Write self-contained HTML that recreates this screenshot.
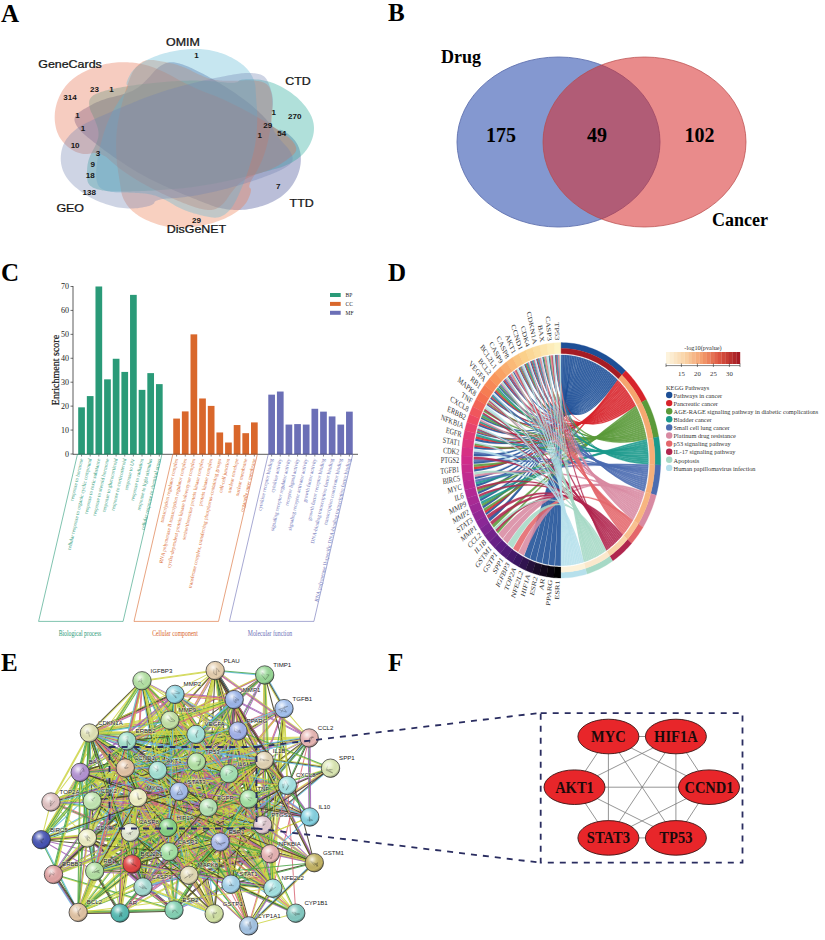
<!DOCTYPE html>
<html><head><meta charset="utf-8"><style>html,body{margin:0;padding:0;background:#fff;overflow:hidden}svg{display:block}</style></head>
<body><svg width="825" height="940" viewBox="0 0 825 940">
<rect width="825" height="940" fill="#fff"/>
<path d="M289.67,135.36 L291.02,136.56 L292.43,137.86 L293.74,139.22 L294.89,140.6 L295.94,142.04 L296.89,143.52 L297.74,145.05 L298.49,146.63 L299.13,148.27 L299.67,149.95 L300.11,151.68 L300.45,153.46 L300.69,155.31 L300.82,157.2 L300.86,159.1 L300.82,160.97 L300.7,162.83 L300.49,164.7 L300.19,166.56 L299.81,168.41 L299.35,170.26 L298.79,172.11 L298.15,173.96 L297.42,175.8 L296.6,177.65 L295.69,179.5 L294.73,181.29 L293.72,183.01 L292.67,184.67 L291.56,186.26 L290.4,187.8 L289.18,189.28 L287.91,190.7 L286.59,192.07 L285.22,193.37 L283.8,194.62 L282.32,195.8 L280.79,196.92 L279.21,198.01 L277.56,199.05 L275.85,200.05 L274.09,201.01 L272.27,201.93 L270.39,202.81 L268.46,203.64 L266.46,204.44 L264.41,205.19 L262.3,205.9 L260.11,206.57 L257.85,207.2 L255.62,207.77 L253.42,208.27 L251.23,208.71 L249.06,209.08 L246.9,209.39 L244.75,209.64 L242.62,209.83 L240.5,209.95 L238.39,210.02 L236.3,210.01 L234.22,209.95 L232.14,209.81 L230.1,209.64 L228.09,209.42 L226.12,209.16 L224.17,208.86 L222.25,208.51 L220.36,208.12 L218.5,207.68 L216.66,207.2 L214.86,206.67 L213.09,206.1 L211.37,205.48 L209.68,204.81 L207.94,204.12 L206.13,203.42 L204.28,202.69 L202.38,201.95 L200.43,201.18 L198.43,200.39 L196.39,199.58 L194.31,198.74 L192.17,197.89 L189.99,197.01 L187.76,196.12 L185.47,195.2 L183.17,194.25 L180.84,193.28 L178.48,192.28 L176.09,191.25 L173.68,190.19 L171.24,189.11 L168.77,188 L166.28,186.86 L163.75,185.7 L161.2,184.51 L158.61,183.29 L155.99,182.04 L153.38,180.77 L150.81,179.47 L148.26,178.15 L145.72,176.81 L143.2,175.44 L140.7,174.05 L138.22,172.63 L135.75,171.19 L133.31,169.73 L130.88,168.24 L128.46,166.72 L126.06,165.17 L123.69,163.62 L121.35,162.08 L119.04,160.54 L116.76,158.99 L114.5,157.45 L112.27,155.9 L110.07,154.35 L107.9,152.8 L105.75,151.24 L103.63,149.69 L101.52,148.11 L99.43,146.54 L97.44,145.01 L95.56,143.56 L93.78,142.17 L92.08,140.83 L90.48,139.55 L88.97,138.32 L87.55,137.14 L86.23,136.02 L85,134.96 L83.86,133.95 L82.82,133.01 L81.88,132.13 L80.99,131.25 L80.14,130.35 L79.36,129.46 L78.63,128.57 L77.95,127.68 L77.33,126.8 L76.77,125.92 L76.27,125.04 L75.82,124.16 L75.42,123.29 L75.07,122.41 L74.78,121.54 L74.58,120.68 L74.49,119.85 L74.49,119.03 L74.59,118.23 L74.79,117.46 L75.08,116.69 L75.46,115.95 L75.94,115.23 L76.52,114.52 L77.19,113.83 L77.97,113.17 L78.85,112.52 L79.78,111.87 L80.75,111.19 L81.77,110.51 L82.85,109.81 L83.98,109.1 L85.17,108.39 L86.41,107.66 L87.71,106.92 L89.06,106.18 L90.47,105.42 L91.94,104.63 L93.47,103.84 L95.02,103.08 L96.59,102.36 L98.18,101.66 L99.81,101 L101.46,100.36 L103.14,99.75 L104.84,99.17 L106.57,98.62 L108.33,98.1 L110.11,97.61 L111.96,97.16 L113.83,96.73 L115.63,96.3 L117.35,95.86 L119,95.42 L120.59,94.98 L122.12,94.54 L123.59,94.09 L125,93.64 L126.34,93.19 L127.63,92.74 L128.85,92.29 L129.99,91.85 L131.07,91.4 L132.14,90.92 L133.21,90.4 L134.26,89.84 L135.3,89.24 L136.33,88.61 L137.35,87.94 L138.35,87.24 L139.33,86.51 L140.3,85.74 L141.26,84.93 L142.21,84.08 L143.14,83.2 L144.06,82.31 L144.96,81.43 L145.84,80.55 L146.72,79.67 L147.57,78.79 L148.42,77.9 L149.24,77.02 L150.06,76.13 L150.86,75.24 L151.64,74.35 L152.4,73.44 L153.14,72.53 L153.91,71.66 L154.69,70.83 L155.5,70.02 L156.32,69.25 L157.16,68.51 L158.01,67.8 L158.88,67.12 L159.77,66.47 L160.67,65.86 L161.59,65.27 L162.52,64.71 L163.48,64.17 L164.45,63.7 L165.43,63.3 L166.43,62.96 L167.44,62.68 L168.47,62.47 L169.51,62.31 L170.57,62.22 L171.64,62.19 L172.73,62.23 L173.83,62.32 L174.94,62.49 L176.07,62.71 L177.23,62.98 L178.41,63.26 L179.61,63.59 L180.83,63.95 L182.08,64.34 L183.35,64.77 L184.65,65.23 L185.97,65.73 L187.31,66.26 L188.68,66.83 L190.07,67.44 L191.48,68.08 L192.91,68.75 L194.37,69.43 L195.85,70.15 L197.34,70.88 L198.86,71.64 L200.41,72.43 L201.97,73.24 L203.56,74.07 L205.16,74.93 L206.79,75.81 L208.44,76.71 L210.11,77.64 L211.81,78.6 L213.52,79.59 L215.27,80.61 L217.03,81.65 L218.82,82.73 L220.63,83.83 L222.47,84.96 L224.33,86.12 L226.21,87.31 L228.12,88.53 L230.07,89.78 L232.04,91.07 L233.98,92.35 L235.86,93.62 L237.71,94.9 L239.51,96.17 L241.29,97.45 L243.03,98.73 L244.73,100 L246.39,101.28 L248.02,102.55 L249.62,103.83 L251.17,105.1 L252.69,106.37 L254.18,107.66 L255.66,108.95 L257.1,110.26 L258.52,111.58 L259.92,112.91 L261.29,114.25 L262.63,115.6 L263.95,116.97 L265.24,118.34 L266.51,119.72 L267.76,121.16 L268.99,122.61 L270.16,123.94 L271.29,125.1 L272.37,126.14 L273.4,127.06 L274.39,127.85 L275.32,128.53 L276.22,129.08 L277.06,129.51 L277.86,129.82 L278.62,130 L279.29,129.99 L279.91,129.86 L280.6,129.83 L281.37,130 L282.21,130.28 L283.1,130.67 L284.05,131.17 L285.06,131.79 L286.13,132.51 L287.25,133.35 L288.43,134.3Z" fill="#3a4590" fill-opacity="0.35"/>
<path d="M251.09,79.26 L253.31,79.3 L255.69,79.39 L258.05,79.56 L260.35,79.83 L262.63,80.2 L264.91,80.65 L267.17,81.19 L269.42,81.82 L271.65,82.53 L273.88,83.34 L276.09,84.23 L278.29,85.21 L280.5,86.3 L282.7,87.47 L284.83,88.69 L286.89,89.94 L288.88,91.23 L290.82,92.57 L292.69,93.95 L294.51,95.38 L296.26,96.85 L297.95,98.37 L299.58,99.93 L301.15,101.53 L302.67,103.2 L304.13,104.92 L305.5,106.62 L306.74,108.3 L307.89,109.97 L308.94,111.63 L309.89,113.28 L310.74,114.92 L311.49,116.55 L312.14,118.17 L312.69,119.78 L313.14,121.38 L313.49,122.97 L313.73,124.54 L313.9,126.13 L313.98,127.72 L313.97,129.31 L313.89,130.91 L313.71,132.52 L313.46,134.12 L313.11,135.74 L312.69,137.35 L312.17,138.97 L311.58,140.6 L310.89,142.25 L310.11,143.9 L309.28,145.5 L308.39,147.04 L307.44,148.53 L306.43,149.97 L305.36,151.36 L304.23,152.71 L303.04,154 L301.79,155.25 L300.47,156.45 L299.1,157.6 L297.65,158.7 L296.15,159.75 L294.61,160.76 L293.06,161.72 L291.47,162.64 L289.85,163.51 L288.21,164.34 L286.53,165.12 L284.82,165.86 L283.08,166.55 L281.31,167.19 L279.52,167.79 L277.69,168.33 L275.84,168.82 L273.94,169.32 L271.97,169.85 L269.94,170.4 L267.86,170.95 L265.73,171.52 L263.54,172.1 L261.3,172.69 L259,173.29 L256.65,173.9 L254.24,174.52 L251.78,175.16 L249.26,175.81 L246.69,176.46 L244.08,177.1 L241.42,177.74 L238.71,178.37 L235.95,179.01 L233.14,179.64 L230.29,180.27 L227.39,180.89 L224.44,181.51 L221.44,182.13 L218.38,182.76 L215.27,183.38 L212.15,183.98 L209.03,184.54 L205.89,185.08 L202.73,185.59 L199.56,186.08 L196.37,186.54 L193.16,186.98 L189.95,187.39 L186.71,187.77 L183.46,188.13 L180.19,188.46 L176.9,188.76 L173.62,189.05 L170.37,189.33 L167.14,189.59 L163.92,189.83 L160.72,190.05 L157.54,190.26 L154.37,190.46 L151.22,190.63 L148.09,190.79 L144.97,190.94 L141.83,191.07 L138.71,191.18 L135.71,191.27 L132.87,191.36 L130.15,191.42 L127.55,191.48 L125.07,191.51 L122.71,191.54 L120.48,191.55 L118.36,191.54 L116.37,191.52 L114.5,191.48 L112.78,191.44 L111.18,191.38 L109.62,191.29 L108.07,191.16 L106.56,191.01 L105.09,190.83 L103.66,190.62 L102.27,190.38 L100.92,190.11 L99.62,189.81 L98.35,189.48 L97.12,189.13 L95.91,188.74 L94.75,188.33 L93.66,187.88 L92.68,187.38 L91.78,186.84 L90.95,186.27 L90.22,185.65 L89.56,184.99 L88.99,184.29 L88.5,183.55 L88.09,182.77 L87.76,181.95 L87.53,181.09 L87.39,180.18 L87.27,179.24 L87.16,178.27 L87.07,177.25 L87,176.2 L86.96,175.12 L86.95,173.99 L86.95,172.83 L86.98,171.64 L87.04,170.4 L87.12,169.13 L87.21,167.81 L87.33,166.45 L87.5,165.1 L87.73,163.76 L88,162.43 L88.33,161.1 L88.7,159.78 L89.13,158.46 L89.6,157.14 L90.13,155.83 L90.7,154.52 L91.32,153.22 L92.03,151.91 L92.78,150.6 L93.49,149.33 L94.13,148.09 L94.72,146.9 L95.28,145.73 L95.79,144.6 L96.25,143.5 L96.68,142.43 L97.06,141.4 L97.4,140.4 L97.7,139.43 L97.95,138.51 L98.17,137.63 L98.33,136.73 L98.45,135.79 L98.52,134.84 L98.54,133.88 L98.51,132.9 L98.44,131.91 L98.32,130.9 L98.15,129.88 L97.93,128.84 L97.66,127.78 L97.34,126.7 L96.96,125.61 L96.58,124.53 L96.19,123.45 L95.8,122.39 L95.39,121.33 L94.97,120.28 L94.54,119.24 L94.09,118.2 L93.64,117.17 L93.17,116.15 L92.7,115.13 L92.19,114.12 L91.67,113.12 L91.2,112.13 L90.79,111.15 L90.42,110.18 L90.1,109.22 L89.83,108.28 L89.6,107.34 L89.41,106.42 L89.28,105.5 L89.18,104.6 L89.13,103.71 L89.12,102.83 L89.15,101.95 L89.26,101.11 L89.46,100.31 L89.74,99.54 L90.09,98.8 L90.53,98.1 L91.04,97.42 L91.63,96.78 L92.31,96.17 L93.05,95.6 L93.88,95.05 L94.8,94.55 L95.79,94.08 L96.84,93.61 L97.93,93.15 L99.08,92.71 L100.28,92.27 L101.54,91.84 L102.85,91.42 L104.22,91.01 L105.63,90.61 L107.11,90.23 L108.64,89.85 L110.22,89.48 L111.86,89.13 L113.54,88.78 L115.26,88.43 L117.02,88.08 L118.82,87.74 L120.67,87.4 L122.55,87.07 L124.48,86.74 L126.44,86.42 L128.45,86.1 L130.5,85.78 L132.59,85.47 L134.72,85.16 L136.89,84.86 L139.12,84.56 L141.39,84.27 L143.71,83.99 L146.08,83.71 L148.49,83.43 L150.96,83.17 L153.47,82.91 L156.02,82.65 L158.63,82.4 L161.3,82.15 L164.02,81.91 L166.72,81.69 L169.37,81.49 L172,81.31 L174.6,81.15 L177.18,81.02 L179.74,80.9 L182.28,80.8 L184.79,80.72 L187.27,80.66 L189.74,80.62 L192.17,80.6 L194.58,80.6 L196.99,80.62 L199.4,80.66 L201.8,80.73 L204.2,80.81 L206.59,80.92 L208.98,81.04 L211.36,81.19 L213.74,81.36 L216.12,81.55 L218.49,81.76 L220.91,82.02 L223.32,82.29 L225.57,82.52 L227.6,82.66 L229.46,82.75 L231.16,82.78 L232.69,82.76 L234.06,82.69 L235.26,82.56 L236.29,82.37 L237.16,82.14 L237.87,81.84 L238.3,81.46 L238.56,81.03 L238.98,80.63 L239.68,80.32 L240.54,80.04 L241.56,79.8 L242.74,79.61 L244.09,79.46 L245.6,79.35 L247.27,79.28 L249.1,79.25Z" fill="#1da695" fill-opacity="0.35"/>
<path d="M249.19,196.81 L248.56,198.28 L247.84,199.86 L247.01,201.41 L246.05,202.88 L244.97,204.32 L243.77,205.74 L242.46,207.12 L241.03,208.47 L239.48,209.79 L237.82,211.08 L236.03,212.34 L234.13,213.57 L232.09,214.77 L229.94,215.95 L227.73,217.07 L225.51,218.13 L223.24,219.14 L220.93,220.1 L218.57,221.01 L216.16,221.86 L213.71,222.66 L211.21,223.41 L208.67,224.11 L206.08,224.75 L203.42,225.35 L200.72,225.89 L198.05,226.37 L195.45,226.78 L192.89,227.12 L190.36,227.4 L187.88,227.62 L185.43,227.77 L183.02,227.86 L180.65,227.88 L178.32,227.84 L176.03,227.73 L173.78,227.55 L171.57,227.32 L169.38,227.02 L167.2,226.67 L165.03,226.25 L162.88,225.79 L160.74,225.26 L158.62,224.67 L156.52,224.03 L154.43,223.33 L152.35,222.57 L150.3,221.75 L148.23,220.87 L146.18,219.92 L144.22,218.95 L142.35,217.96 L140.57,216.94 L138.87,215.89 L137.25,214.82 L135.72,213.71 L134.26,212.58 L132.88,211.42 L131.59,210.23 L130.38,209.01 L129.25,207.76 L128.21,206.47 L127.23,205.18 L126.32,203.89 L125.48,202.59 L124.71,201.28 L124,199.96 L123.37,198.63 L122.81,197.3 L122.31,195.95 L121.89,194.6 L121.53,193.23 L121.27,191.87 L121.08,190.5 L120.88,189.09 L120.65,187.63 L120.42,186.14 L120.18,184.6 L119.93,183.03 L119.67,181.42 L119.41,179.78 L119.14,178.09 L118.87,176.37 L118.59,174.61 L118.3,172.8 L117.99,170.97 L117.71,169.09 L117.46,167.18 L117.23,165.24 L117.02,163.26 L116.83,161.25 L116.66,159.2 L116.52,157.11 L116.39,154.99 L116.28,152.84 L116.2,150.65 L116.13,148.41 L116.08,146.14 L116.07,143.86 L116.1,141.59 L116.17,139.32 L116.29,137.04 L116.44,134.76 L116.63,132.48 L116.86,130.19 L117.13,127.9 L117.44,125.6 L117.79,123.3 L118.18,120.99 L118.62,118.68 L119.07,116.38 L119.53,114.1 L120.02,111.84 L120.52,109.59 L121.03,107.36 L121.57,105.15 L122.12,102.94 L122.7,100.76 L123.29,98.59 L123.9,96.43 L124.53,94.27 L125.19,92.12 L125.83,90.06 L126.45,88.11 L127.07,86.24 L127.67,84.46 L128.25,82.77 L128.83,81.16 L129.4,79.64 L129.95,78.21 L130.5,76.86 L131.03,75.6 L131.54,74.44 L132.04,73.37 L132.56,72.33 L133.13,71.31 L133.73,70.33 L134.36,69.38 L135.02,68.46 L135.71,67.58 L136.43,66.73 L137.18,65.92 L137.96,65.14 L138.77,64.4 L139.61,63.68 L140.48,63 L141.38,62.38 L142.31,61.84 L143.29,61.36 L144.29,60.96 L145.33,60.61 L146.41,60.34 L147.52,60.13 L148.66,59.99 L149.84,59.91 L151.05,59.9 L152.3,59.97 L153.57,60.11 L154.9,60.27 L156.27,60.45 L157.68,60.65 L159.14,60.88 L160.64,61.13 L162.19,61.41 L163.78,61.71 L165.42,62.05 L167.1,62.4 L168.82,62.79 L170.61,63.19 L172.45,63.62 L174.26,64.09 L176.04,64.59 L177.8,65.12 L179.54,65.69 L181.26,66.28 L182.97,66.91 L184.65,67.58 L186.32,68.27 L187.97,69 L189.6,69.76 L191.22,70.58 L192.82,71.43 L194.38,72.24 L195.91,72.99 L197.4,73.71 L198.86,74.38 L200.28,75.02 L201.67,75.62 L203.03,76.19 L204.35,76.71 L205.64,77.2 L206.89,77.66 L208.08,78.07 L209.25,78.44 L210.44,78.79 L211.69,79.11 L212.98,79.4 L214.29,79.67 L215.64,79.9 L217.03,80.11 L218.45,80.29 L219.9,80.44 L221.38,80.56 L222.9,80.65 L224.46,80.71 L226.06,80.74 L227.65,80.75 L229.23,80.77 L230.79,80.78 L232.35,80.77 L233.9,80.76 L235.45,80.74 L236.98,80.71 L238.52,80.66 L240.04,80.61 L241.56,80.55 L243.08,80.47 L244.6,80.37 L246.08,80.31 L247.53,80.28 L248.96,80.29 L250.36,80.32 L251.73,80.38 L253.07,80.46 L254.39,80.58 L255.67,80.72 L256.94,80.89 L258.17,81.09 L259.39,81.31 L260.59,81.55 L261.71,81.84 L262.76,82.19 L263.75,82.58 L264.67,83.01 L265.53,83.49 L266.32,84.01 L267.05,84.58 L267.71,85.19 L268.31,85.85 L268.84,86.55 L269.3,87.3 L269.69,88.1 L270.05,88.93 L270.4,89.79 L270.72,90.69 L271.01,91.62 L271.28,92.58 L271.51,93.58 L271.72,94.62 L271.9,95.68 L272.05,96.78 L272.17,97.92 L272.26,99.09 L272.33,100.3 L272.37,101.53 L272.41,102.79 L272.43,104.07 L272.43,105.38 L272.42,106.72 L272.38,108.09 L272.34,109.48 L272.27,110.9 L272.2,112.35 L272.1,113.82 L271.99,115.32 L271.86,116.85 L271.72,118.4 L271.55,119.99 L271.36,121.61 L271.15,123.26 L270.92,124.94 L270.67,126.65 L270.4,128.39 L270.11,130.16 L269.8,131.97 L269.46,133.8 L269.11,135.68 L268.74,137.59 L268.35,139.48 L267.93,141.33 L267.5,143.16 L267.04,144.97 L266.56,146.76 L266.07,148.53 L265.55,150.28 L265,152 L264.44,153.71 L263.86,155.39 L263.26,157.05 L262.63,158.68 L261.98,160.31 L261.3,161.94 L260.59,163.55 L259.85,165.16 L259.09,166.76 L258.3,168.35 L257.48,169.93 L256.63,171.5 L255.75,173.07 L254.85,174.62 L253.87,176.2 L252.87,177.77 L251.98,179.23 L251.25,180.57 L250.63,181.8 L250.12,182.93 L249.73,183.96 L249.45,184.88 L249.28,185.7 L249.23,186.43 L249.29,187.04 L249.47,187.56 L249.82,187.91 L250.29,188.15 L250.66,188.5 L250.88,189.01 L250.99,189.63 L251.02,190.35 L250.95,191.17 L250.78,192.09 L250.53,193.12 L250.18,194.25 L249.73,195.47Z" fill="#eb794b" fill-opacity="0.35"/>
<path d="M71.52,149.42 L69.76,148.21 L68.01,146.88 L66.37,145.48 L64.86,144.04 L63.46,142.53 L62.16,140.97 L60.97,139.34 L59.88,137.64 L58.9,135.89 L58.02,134.07 L57.24,132.19 L56.57,130.24 L56.01,128.21 L55.55,126.12 L55.19,124.03 L54.92,121.95 L54.74,119.87 L54.67,117.79 L54.69,115.7 L54.8,113.61 L55.01,111.52 L55.32,109.43 L55.73,107.33 L56.23,105.23 L56.83,103.11 L57.53,100.98 L58.3,98.92 L59.13,96.93 L60.03,95.01 L60.99,93.15 L62.03,91.35 L63.13,89.61 L64.3,87.93 L65.53,86.31 L66.84,84.75 L68.21,83.25 L69.65,81.82 L71.16,80.45 L72.74,79.12 L74.39,77.83 L76.12,76.58 L77.91,75.37 L79.78,74.2 L81.71,73.07 L83.72,71.99 L85.8,70.95 L87.95,69.95 L90.18,68.99 L92.49,68.06 L94.88,67.18 L97.27,66.37 L99.63,65.63 L101.98,64.97 L104.32,64.37 L106.67,63.85 L109,63.4 L111.34,63.02 L113.67,62.71 L115.99,62.46 L118.31,62.29 L120.63,62.2 L122.95,62.18 L125.24,62.2 L127.5,62.28 L129.74,62.4 L131.95,62.58 L134.14,62.81 L136.3,63.09 L138.43,63.42 L140.54,63.81 L142.63,64.24 L144.69,64.73 L146.7,65.26 L148.69,65.85 L150.72,66.5 L152.83,67.24 L154.99,68.05 L157.2,68.94 L159.46,69.9 L161.77,70.93 L164.13,72.03 L166.54,73.21 L169,74.46 L171.51,75.79 L174.09,77.22 L176.71,78.73 L179.34,80.2 L181.97,81.6 L184.6,82.96 L187.24,84.28 L189.88,85.56 L192.53,86.8 L195.19,88.01 L197.85,89.17 L200.53,90.3 L203.21,91.4 L205.9,92.43 L208.6,93.42 L211.28,94.44 L213.95,95.51 L216.6,96.6 L219.24,97.71 L221.86,98.85 L224.47,100.02 L227.07,101.21 L229.66,102.42 L232.23,103.66 L234.78,104.92 L237.33,106.21 L239.87,107.53 L242.38,108.86 L244.85,110.18 L247.3,111.5 L249.73,112.83 L252.13,114.16 L254.5,115.49 L256.85,116.83 L259.16,118.17 L261.46,119.51 L263.72,120.86 L265.99,122.23 L268.23,123.6 L270.37,124.93 L272.39,126.19 L274.31,127.41 L276.14,128.58 L277.87,129.7 L279.5,130.78 L281.03,131.81 L282.47,132.8 L283.81,133.74 L285.06,134.63 L286.19,135.46 L287.23,136.24 L288.21,137.03 L289.15,137.83 L290.04,138.63 L290.87,139.44 L291.65,140.25 L292.38,141.06 L293.05,141.87 L293.66,142.68 L294.22,143.49 L294.73,144.31 L295.19,145.13 L295.6,145.95 L295.91,146.76 L296.12,147.56 L296.23,148.34 L296.25,149.12 L296.18,149.88 L296.01,150.64 L295.74,151.38 L295.38,152.12 L294.93,152.84 L294.38,153.55 L293.73,154.25 L292.98,154.93 L292.18,155.63 L291.34,156.35 L290.45,157.08 L289.51,157.83 L288.52,158.59 L287.47,159.36 L286.38,160.15 L285.24,160.96 L284.04,161.78 L282.79,162.61 L281.49,163.47 L280.13,164.34 L278.75,165.19 L277.34,165.99 L275.9,166.78 L274.43,167.53 L272.93,168.26 L271.4,168.97 L269.84,169.65 L268.25,170.3 L266.63,170.93 L264.98,171.53 L263.27,172.1 L261.53,172.64 L259.85,173.19 L258.26,173.73 L256.73,174.27 L255.26,174.81 L253.84,175.35 L252.49,175.89 L251.2,176.42 L249.97,176.95 L248.8,177.47 L247.69,178 L246.65,178.5 L245.67,179.01 L244.71,179.55 L243.76,180.13 L242.82,180.75 L241.9,181.4 L241,182.08 L240.12,182.79 L239.26,183.54 L238.41,184.32 L237.59,185.13 L236.78,185.97 L235.99,186.86 L235.22,187.78 L234.46,188.7 L233.72,189.61 L232.99,190.52 L232.28,191.43 L231.58,192.35 L230.89,193.26 L230.22,194.17 L229.57,195.09 L228.93,196 L228.3,196.92 L227.7,197.85 L227.11,198.77 L226.5,199.67 L225.86,200.53 L225.2,201.36 L224.52,202.16 L223.82,202.94 L223.1,203.68 L222.36,204.4 L221.6,205.09 L220.82,205.75 L220.02,206.38 L219.19,206.99 L218.35,207.57 L217.49,208.1 L216.6,208.55 L215.69,208.95 L214.75,209.29 L213.79,209.57 L212.81,209.79 L211.8,209.95 L210.77,210.06 L209.72,210.11 L208.64,210.09 L207.54,210.01 L206.42,209.87 L205.27,209.7 L204.09,209.51 L202.89,209.28 L201.65,209.03 L200.39,208.74 L199.1,208.41 L197.79,208.06 L196.44,207.67 L195.07,207.25 L193.68,206.8 L192.25,206.32 L190.79,205.8 L189.32,205.26 L187.81,204.7 L186.29,204.12 L184.74,203.52 L183.16,202.89 L181.56,202.24 L179.94,201.58 L178.29,200.88 L176.62,200.17 L174.92,199.44 L173.2,198.68 L171.45,197.91 L169.68,197.1 L167.88,196.27 L166.06,195.42 L164.2,194.53 L162.32,193.63 L160.42,192.69 L158.48,191.73 L156.52,190.75 L154.54,189.73 L152.52,188.7 L150.46,187.63 L148.38,186.53 L146.32,185.43 L144.33,184.33 L142.36,183.24 L140.44,182.14 L138.54,181.03 L136.68,179.93 L134.86,178.82 L133.07,177.71 L131.31,176.59 L129.59,175.48 L127.91,174.36 L126.26,173.24 L124.64,172.11 L123.03,170.97 L121.45,169.81 L119.89,168.64 L118.35,167.45 L116.84,166.26 L115.35,165.05 L113.88,163.83 L112.44,162.6 L111.01,161.36 L109.63,160.05 L108.28,158.74 L106.89,157.55 L105.44,156.55 L103.96,155.67 L102.45,154.92 L100.9,154.3 L99.32,153.81 L97.7,153.45 L96.05,153.22 L94.37,153.12 L92.65,153.15 L90.88,153.4 L89.08,153.78 L87.28,154.02 L85.51,154.05 L83.74,153.94 L81.98,153.69 L80.22,153.31 L78.47,152.8 L76.72,152.16 L74.98,151.38 L73.25,150.46Z" fill="#e56d4b" fill-opacity="0.35"/>
<path d="M129.09,76.56 L129.86,75.12 L130.73,73.59 L131.71,72.1 L132.81,70.68 L134.03,69.3 L135.35,67.96 L136.79,66.65 L138.34,65.38 L140.01,64.15 L141.79,62.95 L143.68,61.78 L145.69,60.66 L147.83,59.56 L150.09,58.5 L152.39,57.49 L154.7,56.55 L157.05,55.65 L159.44,54.82 L161.87,54.03 L164.34,53.3 L166.86,52.63 L169.41,52.01 L172,51.44 L174.63,50.93 L177.33,50.47 L180.07,50.06 L182.76,49.71 L185.38,49.44 L187.96,49.22 L190.49,49.06 L192.98,48.97 L195.42,48.94 L197.82,48.97 L200.18,49.06 L202.49,49.22 L204.75,49.44 L206.96,49.72 L209.13,50.07 L211.28,50.47 L213.41,50.92 L215.52,51.44 L217.61,52.01 L219.68,52.64 L221.73,53.32 L223.75,54.06 L225.76,54.86 L227.74,55.71 L229.7,56.63 L231.66,57.61 L233.6,58.64 L235.46,59.7 L237.21,60.78 L238.87,61.88 L240.46,63 L241.96,64.14 L243.38,65.32 L244.71,66.51 L245.96,67.73 L247.13,68.97 L248.21,70.24 L249.2,71.54 L250.11,72.86 L250.95,74.19 L251.73,75.52 L252.44,76.85 L253.07,78.19 L253.64,79.53 L254.14,80.88 L254.57,82.24 L254.92,83.6 L255.21,84.96 L255.43,86.33 L255.55,87.7 L255.61,89.07 L255.67,90.47 L255.75,91.93 L255.85,93.42 L255.95,94.95 L256.05,96.52 L256.16,98.13 L256.28,99.77 L256.4,101.45 L256.52,103.17 L256.65,104.92 L256.8,106.72 L256.95,108.55 L257.07,110.41 L257.16,112.31 L257.22,114.25 L257.25,116.22 L257.26,118.23 L257.23,120.28 L257.19,122.36 L257.11,124.47 L257.01,126.62 L256.89,128.81 L256.74,131.04 L256.56,133.31 L256.35,135.58 L256.09,137.84 L255.79,140.11 L255.45,142.37 L255.07,144.64 L254.65,146.91 L254.2,149.18 L253.7,151.46 L253.16,153.73 L252.59,156.01 L251.96,158.29 L251.3,160.58 L250.62,162.85 L249.93,165.1 L249.23,167.33 L248.51,169.55 L247.77,171.75 L247.01,173.94 L246.24,176.1 L245.46,178.26 L244.65,180.39 L243.83,182.51 L242.98,184.64 L242.11,186.75 L241.27,188.78 L240.45,190.69 L239.66,192.52 L238.88,194.27 L238.13,195.93 L237.39,197.51 L236.67,198.99 L235.98,200.4 L235.3,201.72 L234.64,202.95 L234.02,204.08 L233.42,205.12 L232.79,206.13 L232.12,207.12 L231.42,208.07 L230.7,208.99 L229.95,209.87 L229.18,210.72 L228.38,211.52 L227.55,212.3 L226.69,213.04 L225.81,213.74 L224.91,214.41 L223.97,215.05 L223.01,215.62 L222.02,216.12 L221.01,216.54 L219.96,216.9 L218.89,217.19 L217.79,217.41 L216.66,217.57 L215.51,217.65 L214.33,217.67 L213.12,217.62 L211.88,217.49 L210.62,217.29 L209.32,217.06 L207.97,216.82 L206.58,216.55 L205.14,216.25 L203.67,215.93 L202.15,215.57 L200.6,215.19 L199,214.78 L197.36,214.34 L195.67,213.87 L193.93,213.38 L192.14,212.86 L190.37,212.31 L188.65,211.72 L186.95,211.1 L185.27,210.45 L183.61,209.77 L181.97,209.06 L180.36,208.32 L178.76,207.54 L177.19,206.73 L175.64,205.9 L174.1,205 L172.59,204.08 L171.11,203.19 L169.66,202.36 L168.25,201.58 L166.86,200.83 L165.5,200.12 L164.18,199.46 L162.88,198.83 L161.62,198.24 L160.38,197.68 L159.18,197.17 L158.02,196.7 L156.9,196.27 L155.74,195.87 L154.53,195.49 L153.28,195.13 L151.99,194.8 L150.66,194.5 L149.3,194.23 L147.91,193.98 L146.47,193.76 L145.01,193.57 L143.5,193.4 L141.95,193.27 L140.35,193.16 L138.77,193.06 L137.2,192.97 L135.64,192.89 L134.09,192.81 L132.54,192.75 L130.99,192.7 L129.46,192.65 L127.92,192.62 L126.4,192.6 L124.87,192.58 L123.35,192.59 L121.83,192.61 L120.34,192.6 L118.89,192.56 L117.47,192.48 L116.08,192.39 L114.72,192.26 L113.39,192.11 L112.08,191.93 L110.81,191.72 L109.57,191.49 L108.36,191.24 L107.16,190.96 L106,190.65 L104.9,190.31 L103.89,189.91 L102.94,189.48 L102.06,189 L101.26,188.48 L100.52,187.92 L99.85,187.32 L99.25,186.67 L98.72,185.99 L98.26,185.26 L97.87,184.49 L97.56,183.67 L97.28,182.82 L97.02,181.95 L96.79,181.04 L96.59,180.1 L96.43,179.12 L96.29,178.11 L96.19,177.07 L96.11,176 L96.07,174.9 L96.06,173.76 L96.09,172.58 L96.14,171.38 L96.22,170.14 L96.31,168.89 L96.42,167.61 L96.55,166.3 L96.69,164.96 L96.86,163.6 L97.04,162.21 L97.25,160.8 L97.47,159.36 L97.71,157.9 L97.97,156.41 L98.25,154.89 L98.55,153.35 L98.88,151.77 L99.22,150.16 L99.6,148.53 L99.99,146.86 L100.41,145.17 L100.85,143.45 L101.32,141.69 L101.81,139.91 L102.32,138.1 L102.86,136.24 L103.42,134.35 L104,132.48 L104.6,130.66 L105.21,128.85 L105.85,127.07 L106.5,125.31 L107.17,123.57 L107.87,121.85 L108.58,120.16 L109.31,118.49 L110.06,116.83 L110.82,115.21 L111.61,113.61 L112.42,112.01 L113.26,110.43 L114.13,108.85 L115.02,107.28 L115.94,105.73 L116.89,104.18 L117.87,102.64 L118.87,101.12 L119.89,99.6 L120.95,98.09 L122.08,96.56 L123.24,95.05 L124.27,93.63 L125.14,92.34 L125.89,91.15 L126.51,90.05 L127.02,89.06 L127.4,88.16 L127.66,87.36 L127.8,86.66 L127.82,86.06 L127.72,85.55 L127.43,85.21 L127.01,84.97 L126.7,84.63 L126.56,84.13 L126.52,83.53 L126.59,82.83 L126.75,82.03 L127.02,81.13 L127.38,80.13 L127.85,79.04 L128.42,77.85Z" fill="#5cb8d4" fill-opacity="0.35"/>
<path d="M142.17,207.45 L139.96,207.8 L137.58,208.13 L135.18,208.37 L132.81,208.5 L130.42,208.53 L128.01,208.48 L125.58,208.34 L123.14,208.11 L120.67,207.79 L118.18,207.38 L115.68,206.88 L113.15,206.29 L110.59,205.59 L108,204.81 L105.46,203.98 L102.99,203.1 L100.56,202.17 L98.17,201.18 L95.83,200.13 L93.53,199.04 L91.28,197.88 L89.07,196.67 L86.91,195.41 L84.79,194.09 L82.7,192.7 L80.65,191.26 L78.7,189.81 L76.88,188.36 L75.15,186.91 L73.53,185.45 L72.01,183.98 L70.6,182.51 L69.28,181.02 L68.07,179.53 L66.96,178.03 L65.95,176.52 L65.05,175.01 L64.25,173.49 L63.54,171.96 L62.9,170.4 L62.34,168.82 L61.87,167.22 L61.48,165.6 L61.17,163.96 L60.94,162.31 L60.8,160.63 L60.73,158.94 L60.75,157.22 L60.86,155.47 L61.05,153.7 L61.31,151.97 L61.65,150.29 L62.07,148.65 L62.56,147.05 L63.13,145.49 L63.78,143.96 L64.5,142.47 L65.3,141.02 L66.18,139.61 L67.14,138.23 L68.18,136.89 L69.31,135.58 L70.47,134.32 L71.67,133.1 L72.92,131.91 L74.22,130.77 L75.56,129.66 L76.94,128.6 L78.38,127.57 L79.86,126.59 L81.38,125.64 L82.95,124.73 L84.56,123.89 L86.22,123.08 L87.94,122.25 L89.72,121.39 L91.56,120.52 L93.46,119.62 L95.41,118.71 L97.43,117.79 L99.51,116.85 L101.64,115.89 L103.83,114.92 L106.09,113.93 L108.41,112.92 L110.79,111.89 L113.2,110.86 L115.64,109.82 L118.12,108.77 L120.63,107.72 L123.17,106.65 L125.75,105.58 L128.37,104.5 L131.02,103.41 L133.71,102.31 L136.43,101.2 L139.19,100.08 L141.98,98.95 L144.8,97.83 L147.64,96.76 L150.51,95.7 L153.39,94.66 L156.3,93.65 L159.24,92.66 L162.2,91.7 L165.18,90.75 L168.18,89.83 L171.21,88.93 L174.28,88.05 L177.37,87.19 L180.45,86.36 L183.5,85.54 L186.55,84.74 L189.59,83.96 L192.61,83.19 L195.63,82.45 L198.64,81.72 L201.63,81.01 L204.62,80.33 L207.6,79.66 L210.6,79 L213.59,78.36 L216.47,77.76 L219.2,77.19 L221.81,76.66 L224.32,76.17 L226.71,75.71 L228.99,75.29 L231.15,74.9 L233.21,74.55 L235.15,74.23 L236.97,73.94 L238.66,73.69 L240.23,73.48 L241.78,73.3 L243.32,73.16 L244.84,73.05 L246.33,72.98 L247.79,72.94 L249.22,72.94 L250.62,72.97 L251.99,73.03 L253.34,73.14 L254.65,73.27 L255.95,73.44 L257.23,73.64 L258.43,73.9 L259.56,74.21 L260.62,74.58 L261.61,75 L262.54,75.47 L263.41,76 L264.2,76.58 L264.94,77.22 L265.6,77.9 L266.2,78.65 L266.72,79.45 L267.17,80.3 L267.6,81.19 L268.05,82.12 L268.49,83.08 L268.91,84.09 L269.32,85.14 L269.73,86.23 L270.12,87.35 L270.5,88.52 L270.87,89.73 L271.23,90.97 L271.6,92.27 L271.95,93.61 L272.25,94.95 L272.49,96.29 L272.68,97.63 L272.82,98.97 L272.91,100.32 L272.95,101.67 L272.95,103.03 L272.89,104.39 L272.78,105.76 L272.63,107.13 L272.4,108.52 L272.12,109.92 L271.86,111.27 L271.67,112.58 L271.5,113.84 L271.37,115.07 L271.26,116.25 L271.19,117.4 L271.14,118.5 L271.13,119.57 L271.14,120.6 L271.19,121.59 L271.25,122.53 L271.35,123.42 L271.5,124.32 L271.71,125.25 L271.97,126.18 L272.28,127.12 L272.64,128.06 L273.05,129.02 L273.52,129.97 L274.04,130.94 L274.61,131.91 L275.23,132.89 L275.92,133.88 L276.65,134.87 L277.4,135.86 L278.14,136.84 L278.9,137.8 L279.65,138.76 L280.42,139.71 L281.2,140.65 L281.99,141.58 L282.78,142.5 L283.59,143.41 L284.4,144.32 L285.24,145.21 L286.09,146.1 L286.89,146.98 L287.62,147.86 L288.31,148.74 L288.95,149.61 L289.54,150.48 L290.09,151.35 L290.58,152.22 L291.03,153.08 L291.43,153.94 L291.79,154.79 L292.1,155.65 L292.38,156.5 L292.56,157.34 L292.64,158.15 L292.64,158.94 L292.55,159.72 L292.37,160.48 L292.1,161.22 L291.74,161.94 L291.3,162.65 L290.77,163.33 L290.16,164 L289.44,164.65 L288.64,165.28 L287.78,165.9 L286.88,166.53 L285.92,167.16 L284.91,167.79 L283.83,168.42 L282.71,169.05 L281.52,169.68 L280.28,170.31 L278.99,170.94 L277.63,171.56 L276.22,172.19 L274.75,172.81 L273.24,173.44 L271.69,174.07 L270.1,174.7 L268.47,175.34 L266.8,175.98 L265.09,176.62 L263.33,177.27 L261.54,177.92 L259.7,178.57 L257.82,179.23 L255.9,179.88 L253.94,180.55 L251.93,181.21 L249.88,181.88 L247.77,182.55 L245.62,183.22 L243.41,183.89 L241.17,184.57 L238.87,185.24 L236.52,185.92 L234.13,186.61 L231.69,187.29 L229.18,187.99 L226.62,188.68 L224.08,189.36 L221.58,190 L219.09,190.62 L216.62,191.22 L214.16,191.79 L211.72,192.34 L209.3,192.87 L206.89,193.37 L204.49,193.85 L202.12,194.31 L199.76,194.74 L197.42,195.15 L195.08,195.54 L192.73,195.91 L190.38,196.26 L188.02,196.58 L185.66,196.89 L183.3,197.17 L180.94,197.44 L178.57,197.68 L176.2,197.9 L173.83,198.1 L171.39,198.25 L168.96,198.39 L166.69,198.57 L164.67,198.79 L162.81,199.05 L161.14,199.34 L159.63,199.67 L158.31,200.03 L157.15,200.43 L156.18,200.86 L155.37,201.32 L154.75,201.82 L154.41,202.37 L154.25,202.96 L153.91,203.52 L153.29,204.05 L152.5,204.55 L151.54,205.03 L150.41,205.49 L149.1,205.92 L147.63,206.34 L145.98,206.73 L144.16,207.1Z" fill="#7384b2" fill-opacity="0.35"/>
<text transform="translate(183,46.3) scale(1.22,1)" font-family='"Liberation Sans", sans-serif' fill="#161616" stroke="#161616" stroke-width="0.25" font-size="10.2" text-anchor="middle">OMIM</text>
<text transform="translate(70,68) scale(1.22,1)" font-family='"Liberation Sans", sans-serif' fill="#161616" stroke="#161616" stroke-width="0.25" font-size="10.2" text-anchor="middle">GeneCards</text>
<text transform="translate(298,85) scale(1.22,1)" font-family='"Liberation Sans", sans-serif' fill="#161616" stroke="#161616" stroke-width="0.25" font-size="10.2" text-anchor="middle">CTD</text>
<text transform="translate(301.7,206.5) scale(1.22,1)" font-family='"Liberation Sans", sans-serif' fill="#161616" stroke="#161616" stroke-width="0.25" font-size="10.2" text-anchor="middle">TTD</text>
<text transform="translate(70.2,211.6) scale(1.22,1)" font-family='"Liberation Sans", sans-serif' fill="#161616" stroke="#161616" stroke-width="0.25" font-size="10.2" text-anchor="middle">GEO</text>
<text transform="translate(196.5,233.2) scale(1.22,1)" font-family='"Liberation Sans", sans-serif' fill="#161616" stroke="#161616" stroke-width="0.25" font-size="10.2" text-anchor="middle">DisGeNET</text>
<text transform="translate(196.4,58.4) scale(1.12,1)" font-family='"Liberation Sans", sans-serif' fill="#161616" font-size="7.2" font-weight="bold" text-anchor="middle">1</text>
<text transform="translate(94.5,91.8) scale(1.12,1)" font-family='"Liberation Sans", sans-serif' fill="#161616" font-size="7.2" font-weight="bold" text-anchor="middle">23</text>
<text transform="translate(111.4,91.8) scale(1.12,1)" font-family='"Liberation Sans", sans-serif' fill="#161616" font-size="7.2" font-weight="bold" text-anchor="middle">1</text>
<text transform="translate(69.9,99.9) scale(1.12,1)" font-family='"Liberation Sans", sans-serif' fill="#161616" font-size="7.2" font-weight="bold" text-anchor="middle">314</text>
<text transform="translate(77.6,118.2) scale(1.12,1)" font-family='"Liberation Sans", sans-serif' fill="#161616" font-size="7.2" font-weight="bold" text-anchor="middle">1</text>
<text transform="translate(82.9,131.2) scale(1.12,1)" font-family='"Liberation Sans", sans-serif' fill="#161616" font-size="7.2" font-weight="bold" text-anchor="middle">1</text>
<text transform="translate(75.1,148) scale(1.12,1)" font-family='"Liberation Sans", sans-serif' fill="#161616" font-size="7.2" font-weight="bold" text-anchor="middle">10</text>
<text transform="translate(98,156.1) scale(1.12,1)" font-family='"Liberation Sans", sans-serif' fill="#161616" font-size="7.2" font-weight="bold" text-anchor="middle">3</text>
<text transform="translate(92.7,167.4) scale(1.12,1)" font-family='"Liberation Sans", sans-serif' fill="#161616" font-size="7.2" font-weight="bold" text-anchor="middle">9</text>
<text transform="translate(90.3,177.9) scale(1.12,1)" font-family='"Liberation Sans", sans-serif' fill="#161616" font-size="7.2" font-weight="bold" text-anchor="middle">18</text>
<text transform="translate(89.2,194.8) scale(1.12,1)" font-family='"Liberation Sans", sans-serif' fill="#161616" font-size="7.2" font-weight="bold" text-anchor="middle">138</text>
<text transform="translate(273.7,115.4) scale(1.12,1)" font-family='"Liberation Sans", sans-serif' fill="#161616" font-size="7.2" font-weight="bold" text-anchor="middle">1</text>
<text transform="translate(294.8,118.9) scale(1.12,1)" font-family='"Liberation Sans", sans-serif' fill="#161616" font-size="7.2" font-weight="bold" text-anchor="middle">270</text>
<text transform="translate(267.8,127.6) scale(1.12,1)" font-family='"Liberation Sans", sans-serif' fill="#161616" font-size="7.2" font-weight="bold" text-anchor="middle">29</text>
<text transform="translate(259.7,137.5) scale(1.12,1)" font-family='"Liberation Sans", sans-serif' fill="#161616" font-size="7.2" font-weight="bold" text-anchor="middle">1</text>
<text transform="translate(281.8,135.7) scale(1.12,1)" font-family='"Liberation Sans", sans-serif' fill="#161616" font-size="7.2" font-weight="bold" text-anchor="middle">54</text>
<text transform="translate(278.3,188.5) scale(1.12,1)" font-family='"Liberation Sans", sans-serif' fill="#161616" font-size="7.2" font-weight="bold" text-anchor="middle">7</text>
<text transform="translate(196.4,222.6) scale(1.12,1)" font-family='"Liberation Sans", sans-serif' fill="#161616" font-size="7.2" font-weight="bold" text-anchor="middle">29</text>
<ellipse cx="558.5" cy="142" rx="101.5" ry="85" fill="#8498d0" stroke="#6072b0" stroke-width="0.9"/>
<ellipse cx="644.5" cy="142" rx="101.5" ry="85" fill="#d72c2c" fill-opacity="0.55" stroke="#b84848" stroke-width="0.9" stroke-opacity="0.8"/>
<text x="441" y="63" font-family='"Liberation Serif", serif' font-weight="bold" font-size="18">Drug</text>
<text x="712" y="226" font-family='"Liberation Serif", serif' font-weight="bold" font-size="18">Cancer</text>
<text x="501" y="142" font-family='"Liberation Serif", serif' font-weight="bold" font-size="20" text-anchor="middle">175</text>
<text x="597" y="142" font-family='"Liberation Serif", serif' font-weight="bold" font-size="20" text-anchor="middle">49</text>
<text x="699.5" y="142" font-family='"Liberation Serif", serif' font-weight="bold" font-size="20" text-anchor="middle">102</text>
<rect x="78.2" y="407.34" width="6.7" height="46.66" fill="#2a9a78"/>
<rect x="86.84" y="396.09" width="6.7" height="57.91" fill="#2a9a78"/>
<rect x="95.48" y="286.49" width="6.7" height="167.51" fill="#2a9a78"/>
<rect x="104.12" y="379.34" width="6.7" height="74.66" fill="#2a9a78"/>
<rect x="112.76" y="358.76" width="6.7" height="95.24" fill="#2a9a78"/>
<rect x="121.4" y="371.92" width="6.7" height="82.08" fill="#2a9a78"/>
<rect x="130.04" y="294.87" width="6.7" height="159.13" fill="#2a9a78"/>
<rect x="138.68" y="389.87" width="6.7" height="64.13" fill="#2a9a78"/>
<rect x="147.32" y="373.12" width="6.7" height="80.88" fill="#2a9a78"/>
<rect x="155.96" y="384.12" width="6.7" height="69.88" fill="#2a9a78"/>
<rect x="173.24" y="418.58" width="6.7" height="35.42" fill="#d9672b"/>
<rect x="181.88" y="411.4" width="6.7" height="42.6" fill="#d9672b"/>
<rect x="190.52" y="334.35" width="6.7" height="119.65" fill="#d9672b"/>
<rect x="199.16" y="398.48" width="6.7" height="55.52" fill="#d9672b"/>
<rect x="207.8" y="405.9" width="6.7" height="48.1" fill="#d9672b"/>
<rect x="216.44" y="432.46" width="6.7" height="21.54" fill="#d9672b"/>
<rect x="225.08" y="442.51" width="6.7" height="11.49" fill="#d9672b"/>
<rect x="233.72" y="425.04" width="6.7" height="28.96" fill="#d9672b"/>
<rect x="242.36" y="433.18" width="6.7" height="20.82" fill="#d9672b"/>
<rect x="251" y="422.41" width="6.7" height="31.59" fill="#d9672b"/>
<rect x="268.28" y="394.65" width="6.7" height="59.35" fill="#6b6fb6"/>
<rect x="276.92" y="391.54" width="6.7" height="62.46" fill="#6b6fb6"/>
<rect x="285.56" y="424.57" width="6.7" height="29.43" fill="#6b6fb6"/>
<rect x="294.2" y="424.09" width="6.7" height="29.91" fill="#6b6fb6"/>
<rect x="302.84" y="424.57" width="6.7" height="29.43" fill="#6b6fb6"/>
<rect x="311.48" y="408.77" width="6.7" height="45.23" fill="#6b6fb6"/>
<rect x="320.12" y="411.64" width="6.7" height="42.36" fill="#6b6fb6"/>
<rect x="328.76" y="416.43" width="6.7" height="37.57" fill="#6b6fb6"/>
<rect x="337.4" y="424.57" width="6.7" height="29.43" fill="#6b6fb6"/>
<rect x="346.04" y="411.64" width="6.7" height="42.36" fill="#6b6fb6"/>
<line x1="73" y1="286" x2="73" y2="454.5" stroke="#333" stroke-width="0.8"/>
<line x1="73" y1="454.3" x2="358" y2="454.3" stroke="#333" stroke-width="0.8"/>
<line x1="70.5" y1="454" x2="73" y2="454" stroke="#333" stroke-width="0.7"/>
<text x="69" y="456.8" font-family='"Liberation Serif", serif' font-size="8" text-anchor="end" fill="#222">0</text>
<line x1="70.5" y1="430.07" x2="73" y2="430.07" stroke="#333" stroke-width="0.7"/>
<text x="69" y="432.87" font-family='"Liberation Serif", serif' font-size="8" text-anchor="end" fill="#222">10</text>
<line x1="70.5" y1="406.14" x2="73" y2="406.14" stroke="#333" stroke-width="0.7"/>
<text x="69" y="408.94" font-family='"Liberation Serif", serif' font-size="8" text-anchor="end" fill="#222">20</text>
<line x1="70.5" y1="382.21" x2="73" y2="382.21" stroke="#333" stroke-width="0.7"/>
<text x="69" y="385.01" font-family='"Liberation Serif", serif' font-size="8" text-anchor="end" fill="#222">30</text>
<line x1="70.5" y1="358.28" x2="73" y2="358.28" stroke="#333" stroke-width="0.7"/>
<text x="69" y="361.08" font-family='"Liberation Serif", serif' font-size="8" text-anchor="end" fill="#222">40</text>
<line x1="70.5" y1="334.35" x2="73" y2="334.35" stroke="#333" stroke-width="0.7"/>
<text x="69" y="337.15" font-family='"Liberation Serif", serif' font-size="8" text-anchor="end" fill="#222">50</text>
<line x1="70.5" y1="310.42" x2="73" y2="310.42" stroke="#333" stroke-width="0.7"/>
<text x="69" y="313.22" font-family='"Liberation Serif", serif' font-size="8" text-anchor="end" fill="#222">60</text>
<line x1="70.5" y1="286.49" x2="73" y2="286.49" stroke="#333" stroke-width="0.7"/>
<text x="69" y="289.29" font-family='"Liberation Serif", serif' font-size="8" text-anchor="end" fill="#222">70</text>
<line x1="81.55" y1="454.3" x2="81.55" y2="456.5" stroke="#333" stroke-width="0.6"/>
<line x1="90.19" y1="454.3" x2="90.19" y2="456.5" stroke="#333" stroke-width="0.6"/>
<line x1="98.83" y1="454.3" x2="98.83" y2="456.5" stroke="#333" stroke-width="0.6"/>
<line x1="107.47" y1="454.3" x2="107.47" y2="456.5" stroke="#333" stroke-width="0.6"/>
<line x1="116.11" y1="454.3" x2="116.11" y2="456.5" stroke="#333" stroke-width="0.6"/>
<line x1="124.75" y1="454.3" x2="124.75" y2="456.5" stroke="#333" stroke-width="0.6"/>
<line x1="133.39" y1="454.3" x2="133.39" y2="456.5" stroke="#333" stroke-width="0.6"/>
<line x1="142.03" y1="454.3" x2="142.03" y2="456.5" stroke="#333" stroke-width="0.6"/>
<line x1="150.67" y1="454.3" x2="150.67" y2="456.5" stroke="#333" stroke-width="0.6"/>
<line x1="159.31" y1="454.3" x2="159.31" y2="456.5" stroke="#333" stroke-width="0.6"/>
<line x1="176.59" y1="454.3" x2="176.59" y2="456.5" stroke="#333" stroke-width="0.6"/>
<line x1="185.23" y1="454.3" x2="185.23" y2="456.5" stroke="#333" stroke-width="0.6"/>
<line x1="193.87" y1="454.3" x2="193.87" y2="456.5" stroke="#333" stroke-width="0.6"/>
<line x1="202.51" y1="454.3" x2="202.51" y2="456.5" stroke="#333" stroke-width="0.6"/>
<line x1="211.15" y1="454.3" x2="211.15" y2="456.5" stroke="#333" stroke-width="0.6"/>
<line x1="219.79" y1="454.3" x2="219.79" y2="456.5" stroke="#333" stroke-width="0.6"/>
<line x1="228.43" y1="454.3" x2="228.43" y2="456.5" stroke="#333" stroke-width="0.6"/>
<line x1="237.07" y1="454.3" x2="237.07" y2="456.5" stroke="#333" stroke-width="0.6"/>
<line x1="245.71" y1="454.3" x2="245.71" y2="456.5" stroke="#333" stroke-width="0.6"/>
<line x1="254.35" y1="454.3" x2="254.35" y2="456.5" stroke="#333" stroke-width="0.6"/>
<line x1="271.63" y1="454.3" x2="271.63" y2="456.5" stroke="#333" stroke-width="0.6"/>
<line x1="280.27" y1="454.3" x2="280.27" y2="456.5" stroke="#333" stroke-width="0.6"/>
<line x1="288.91" y1="454.3" x2="288.91" y2="456.5" stroke="#333" stroke-width="0.6"/>
<line x1="297.55" y1="454.3" x2="297.55" y2="456.5" stroke="#333" stroke-width="0.6"/>
<line x1="306.19" y1="454.3" x2="306.19" y2="456.5" stroke="#333" stroke-width="0.6"/>
<line x1="314.83" y1="454.3" x2="314.83" y2="456.5" stroke="#333" stroke-width="0.6"/>
<line x1="323.47" y1="454.3" x2="323.47" y2="456.5" stroke="#333" stroke-width="0.6"/>
<line x1="332.11" y1="454.3" x2="332.11" y2="456.5" stroke="#333" stroke-width="0.6"/>
<line x1="340.75" y1="454.3" x2="340.75" y2="456.5" stroke="#333" stroke-width="0.6"/>
<line x1="349.39" y1="454.3" x2="349.39" y2="456.5" stroke="#333" stroke-width="0.6"/>
<text transform="translate(59,370) rotate(-90)" font-family='"Liberation Serif", serif' font-size="10" text-anchor="middle" fill="#111" stroke="#111" stroke-width="0.2">Enrichment score</text>
<rect x="330" y="293" width="10.7" height="4" fill="#2a9a78"/>
<text x="345.5" y="297.2" font-family='"Liberation Serif", serif' font-size="5.5" fill="#222">BP</text>
<rect x="330" y="301.9" width="10.7" height="4" fill="#d9672b"/>
<text x="345.5" y="306.1" font-family='"Liberation Serif", serif' font-size="5.5" fill="#222">CC</text>
<rect x="330" y="310.8" width="10.7" height="4" fill="#6b6fb6"/>
<text x="345.5" y="315" font-family='"Liberation Serif", serif' font-size="5.5" fill="#222">MF</text>
<text transform="translate(83.05,459) rotate(-77)" font-family='"Liberation Serif", serif' font-size="5.2" text-anchor="end" fill="#2a9a78">response to hormone</text>
<text transform="translate(91.69,459) rotate(-77)" font-family='"Liberation Serif", serif' font-size="5.2" text-anchor="end" fill="#2a9a78">cellular response to organic cyclic compound</text>
<text transform="translate(100.33,459) rotate(-77)" font-family='"Liberation Serif", serif' font-size="5.2" text-anchor="end" fill="#2a9a78">response to toxic substance</text>
<text transform="translate(108.97,459) rotate(-77)" font-family='"Liberation Serif", serif' font-size="5.2" text-anchor="end" fill="#2a9a78">response to steroid hormone</text>
<text transform="translate(117.61,459) rotate(-77)" font-family='"Liberation Serif", serif' font-size="5.2" text-anchor="end" fill="#2a9a78">response to glucocorticoid</text>
<text transform="translate(126.25,459) rotate(-77)" font-family='"Liberation Serif", serif' font-size="5.2" text-anchor="end" fill="#2a9a78">response to corticosteroid</text>
<text transform="translate(134.89,459) rotate(-77)" font-family='"Liberation Serif", serif' font-size="5.2" text-anchor="end" fill="#2a9a78">response to UV</text>
<text transform="translate(143.53,459) rotate(-77)" font-family='"Liberation Serif", serif' font-size="5.2" text-anchor="end" fill="#2a9a78">response to radiation</text>
<text transform="translate(152.17,459) rotate(-77)" font-family='"Liberation Serif", serif' font-size="5.2" text-anchor="end" fill="#2a9a78">response to light stimulus</text>
<text transform="translate(160.81,459) rotate(-77)" font-family='"Liberation Serif", serif' font-size="5.2" text-anchor="end" fill="#2a9a78">cellular response to chemical stress</text>
<text transform="translate(178.09,459) rotate(-77)" font-family='"Liberation Serif", serif' font-size="5.2" text-anchor="end" fill="#d9672b">transcription regulator complex</text>
<text transform="translate(186.73,459) rotate(-77)" font-family='"Liberation Serif", serif' font-size="5.2" text-anchor="end" fill="#d9672b">RNA polymerase II transcription regulator complex</text>
<text transform="translate(195.37,459) rotate(-77)" font-family='"Liberation Serif", serif' font-size="5.2" text-anchor="end" fill="#d9672b">cyclin-dependent protein kinase holoenzyme complex</text>
<text transform="translate(204.01,459) rotate(-77)" font-family='"Liberation Serif", serif' font-size="5.2" text-anchor="end" fill="#d9672b">serine/threonine protein kinase complex</text>
<text transform="translate(212.65,459) rotate(-77)" font-family='"Liberation Serif", serif' font-size="5.2" text-anchor="end" fill="#d9672b">protein kinase complex</text>
<text transform="translate(221.29,459) rotate(-77)" font-family='"Liberation Serif", serif' font-size="5.2" text-anchor="end" fill="#d9672b">transferase complex, transferring phosphorus-containing groups</text>
<text transform="translate(229.93,459) rotate(-77)" font-family='"Liberation Serif", serif' font-size="5.2" text-anchor="end" fill="#d9672b">cell-cell junction</text>
<text transform="translate(238.57,459) rotate(-77)" font-family='"Liberation Serif", serif' font-size="5.2" text-anchor="end" fill="#d9672b">nuclear envelope</text>
<text transform="translate(247.21,459) rotate(-77)" font-family='"Liberation Serif", serif' font-size="5.2" text-anchor="end" fill="#d9672b">nuclear membrane</text>
<text transform="translate(255.85,459) rotate(-77)" font-family='"Liberation Serif", serif' font-size="5.2" text-anchor="end" fill="#d9672b">organelle outer membrane</text>
<text transform="translate(273.13,459) rotate(-77)" font-family='"Liberation Serif", serif' font-size="5.2" text-anchor="end" fill="#6b6fb6">cytokine receptor binding</text>
<text transform="translate(281.77,459) rotate(-77)" font-family='"Liberation Serif", serif' font-size="5.2" text-anchor="end" fill="#6b6fb6">cytokine activity</text>
<text transform="translate(290.41,459) rotate(-77)" font-family='"Liberation Serif", serif' font-size="5.2" text-anchor="end" fill="#6b6fb6">signaling receptor regulator activity</text>
<text transform="translate(299.05,459) rotate(-77)" font-family='"Liberation Serif", serif' font-size="5.2" text-anchor="end" fill="#6b6fb6">receptor ligand activity</text>
<text transform="translate(307.69,459) rotate(-77)" font-family='"Liberation Serif", serif' font-size="5.2" text-anchor="end" fill="#6b6fb6">signaling receptor activator activity</text>
<text transform="translate(316.33,459) rotate(-77)" font-family='"Liberation Serif", serif' font-size="5.2" text-anchor="end" fill="#6b6fb6">growth factor activity</text>
<text transform="translate(324.97,459) rotate(-77)" font-family='"Liberation Serif", serif' font-size="5.2" text-anchor="end" fill="#6b6fb6">growth factor receptor binding</text>
<text transform="translate(333.61,459) rotate(-77)" font-family='"Liberation Serif", serif' font-size="5.2" text-anchor="end" fill="#6b6fb6">DNA-binding transcription factor binding</text>
<text transform="translate(342.25,459) rotate(-77)" font-family='"Liberation Serif", serif' font-size="5.2" text-anchor="end" fill="#6b6fb6">transcription coactivator binding</text>
<text transform="translate(350.89,459) rotate(-77)" font-family='"Liberation Serif", serif' font-size="5.2" text-anchor="end" fill="#6b6fb6">RNA polymerase II-specific DNA-binding transcription factor binding</text>
<polygon points="77.4,454.5 161.9,454.5 123.1,621.4 38.6,621.4" fill="none" stroke="#2a9a78" stroke-width="0.6"/>
<text transform="translate(80,635.5) scale(0.78,1)" font-family='"Liberation Serif", serif' font-size="7.4" text-anchor="middle" fill="#2a9a78">Biological process</text>
<polygon points="172.8,454.5 257.3,454.5 218.5,621.4 134,621.4" fill="none" stroke="#d9672b" stroke-width="0.6"/>
<text transform="translate(175,635.5) scale(0.78,1)" font-family='"Liberation Serif", serif' font-size="7.4" text-anchor="middle" fill="#d9672b">Cellular component</text>
<polygon points="268.2,454.5 352.7,454.5 313.9,621.4 229.4,621.4" fill="none" stroke="#6b6fb6" stroke-width="0.6"/>
<text transform="translate(270,635.5) scale(0.78,1)" font-family='"Liberation Serif", serif' font-size="7.4" text-anchor="middle" fill="#6b6fb6">Molecular function</text>
<path d="M555,355.16 L555.73,355.1 Q561.1,460.3 616.31,378.66 L617.66,380.02 Q561.1,460.3 555,355.16Z" fill="#1d4f96" fill-opacity="0.88" stroke="#1d4f96" stroke-width="0.35" stroke-opacity="0.6"/>
<path d="M548.66,355.98 L549.49,355.84 Q561.1,460.3 614.94,377.33 L616.31,378.66 Q561.1,460.3 548.66,355.98Z" fill="#1d4f96" fill-opacity="0.88" stroke="#1d4f96" stroke-width="0.35" stroke-opacity="0.6"/>
<path d="M542.39,357.35 L543.34,357.11 Q561.1,460.3 613.54,376.04 L614.94,377.33 Q561.1,460.3 542.39,357.35Z" fill="#1d4f96" fill-opacity="0.88" stroke="#1d4f96" stroke-width="0.35" stroke-opacity="0.6"/>
<path d="M536.21,359.27 L537.01,358.99 Q561.1,460.3 612.13,374.78 L613.54,376.04 Q561.1,460.3 536.21,359.27Z" fill="#1d4f96" fill-opacity="0.88" stroke="#1d4f96" stroke-width="0.35" stroke-opacity="0.6"/>
<path d="M530.17,361.74 L531.08,361.33 Q561.1,460.3 610.69,373.56 L612.13,374.78 Q561.1,460.3 530.17,361.74Z" fill="#1d4f96" fill-opacity="0.88" stroke="#1d4f96" stroke-width="0.35" stroke-opacity="0.6"/>
<path d="M524.29,364.73 L525.05,364.31 Q561.1,460.3 609.24,372.37 L610.69,373.56 Q561.1,460.3 524.29,364.73Z" fill="#1d4f96" fill-opacity="0.88" stroke="#1d4f96" stroke-width="0.35" stroke-opacity="0.6"/>
<path d="M518.61,368.22 L519.34,367.74 Q561.1,460.3 607.76,371.22 L609.24,372.37 Q561.1,460.3 518.61,368.22Z" fill="#1d4f96" fill-opacity="0.88" stroke="#1d4f96" stroke-width="0.35" stroke-opacity="0.6"/>
<path d="M513.16,372.21 L513.97,371.58 Q561.1,460.3 606.26,370.1 L607.76,371.22 Q561.1,460.3 513.16,372.21Z" fill="#1d4f96" fill-opacity="0.88" stroke="#1d4f96" stroke-width="0.35" stroke-opacity="0.6"/>
<path d="M507.96,376.67 L508.74,375.97 Q561.1,460.3 604.75,369.02 L606.26,370.1 Q561.1,460.3 507.96,376.67Z" fill="#1d4f96" fill-opacity="0.88" stroke="#1d4f96" stroke-width="0.35" stroke-opacity="0.6"/>
<path d="M503.05,381.58 L503.92,380.65 Q561.1,460.3 603.22,367.98 L604.75,369.02 Q561.1,460.3 503.05,381.58Z" fill="#1d4f96" fill-opacity="0.88" stroke="#1d4f96" stroke-width="0.35" stroke-opacity="0.6"/>
<path d="M498.44,386.91 L499.26,385.9 Q561.1,460.3 601.67,366.97 L603.22,367.98 Q561.1,460.3 498.44,386.91Z" fill="#1d4f96" fill-opacity="0.88" stroke="#1d4f96" stroke-width="0.35" stroke-opacity="0.6"/>
<path d="M494.17,392.62 L495.12,391.28 Q561.1,460.3 600.11,366.01 L601.67,366.97 Q561.1,460.3 494.17,392.62Z" fill="#1d4f96" fill-opacity="0.88" stroke="#1d4f96" stroke-width="0.35" stroke-opacity="0.6"/>
<path d="M490.26,398.7 L490.95,397.57 Q561.1,460.3 598.52,365.08 L600.11,366.01 Q561.1,460.3 490.26,398.7Z" fill="#1d4f96" fill-opacity="0.88" stroke="#1d4f96" stroke-width="0.35" stroke-opacity="0.6"/>
<path d="M486.72,405.11 L487.24,404.11 Q561.1,460.3 596.93,364.19 L598.52,365.08 Q561.1,460.3 486.72,405.11Z" fill="#1d4f96" fill-opacity="0.88" stroke="#1d4f96" stroke-width="0.35" stroke-opacity="0.6"/>
<path d="M480.86,418.77 L481.45,417.16 Q561.1,460.3 595.32,363.33 L596.93,364.19 Q561.1,460.3 480.86,418.77Z" fill="#1d4f96" fill-opacity="0.88" stroke="#1d4f96" stroke-width="0.35" stroke-opacity="0.6"/>
<path d="M478.56,425.96 L479.05,424.3 Q561.1,460.3 593.69,362.52 L595.32,363.33 Q561.1,460.3 478.56,425.96Z" fill="#1d4f96" fill-opacity="0.88" stroke="#1d4f96" stroke-width="0.35" stroke-opacity="0.6"/>
<path d="M476.71,433.32 L476.93,432.35 Q561.1,460.3 592.06,361.75 L593.69,362.52 Q561.1,460.3 476.71,433.32Z" fill="#1d4f96" fill-opacity="0.88" stroke="#1d4f96" stroke-width="0.35" stroke-opacity="0.6"/>
<path d="M475.3,440.83 L475.68,438.53 Q561.1,460.3 590.41,361.02 L592.06,361.75 Q561.1,460.3 475.3,440.83Z" fill="#1d4f96" fill-opacity="0.88" stroke="#1d4f96" stroke-width="0.35" stroke-opacity="0.6"/>
<path d="M474.35,448.44 L474.53,446.7 Q561.1,460.3 588.75,360.32 L590.41,361.02 Q561.1,460.3 474.35,448.44Z" fill="#1d4f96" fill-opacity="0.88" stroke="#1d4f96" stroke-width="0.35" stroke-opacity="0.6"/>
<path d="M473.87,456.12 L473.97,453.78 Q561.1,460.3 587.07,359.67 L588.75,360.32 Q561.1,460.3 473.87,456.12Z" fill="#1d4f96" fill-opacity="0.88" stroke="#1d4f96" stroke-width="0.35" stroke-opacity="0.6"/>
<path d="M473.85,463.82 L473.81,461.47 Q561.1,460.3 585.39,359.06 L587.07,359.67 Q561.1,460.3 473.85,463.82Z" fill="#1d4f96" fill-opacity="0.88" stroke="#1d4f96" stroke-width="0.35" stroke-opacity="0.6"/>
<path d="M474.29,471.5 L474.11,469.16 Q561.1,460.3 583.69,358.49 L585.39,359.06 Q561.1,460.3 474.29,471.5Z" fill="#1d4f96" fill-opacity="0.88" stroke="#1d4f96" stroke-width="0.35" stroke-opacity="0.6"/>
<path d="M475.2,479.12 L474.88,476.81 Q561.1,460.3 581.99,357.96 L583.69,358.49 Q561.1,460.3 475.2,479.12Z" fill="#1d4f96" fill-opacity="0.88" stroke="#1d4f96" stroke-width="0.35" stroke-opacity="0.6"/>
<path d="M476.57,486.64 L476.11,484.36 Q561.1,460.3 580.28,357.48 L581.99,357.96 Q561.1,460.3 476.57,486.64Z" fill="#1d4f96" fill-opacity="0.88" stroke="#1d4f96" stroke-width="0.35" stroke-opacity="0.6"/>
<path d="M478.39,494.02 L477.79,491.79 Q561.1,460.3 578.56,357.03 L580.28,357.48 Q561.1,460.3 478.39,494.02Z" fill="#1d4f96" fill-opacity="0.88" stroke="#1d4f96" stroke-width="0.35" stroke-opacity="0.6"/>
<path d="M480.65,501.22 L479.91,499.05 Q561.1,460.3 576.84,356.63 L578.56,357.03 Q561.1,460.3 480.65,501.22Z" fill="#1d4f96" fill-opacity="0.88" stroke="#1d4f96" stroke-width="0.35" stroke-opacity="0.6"/>
<path d="M483.34,508.2 L482.47,506.1 Q561.1,460.3 575.1,356.26 L576.84,356.63 Q561.1,460.3 483.34,508.2Z" fill="#1d4f96" fill-opacity="0.88" stroke="#1d4f96" stroke-width="0.35" stroke-opacity="0.6"/>
<path d="M486.44,514.92 L485.45,512.9 Q561.1,460.3 573.37,355.95 L575.1,356.26 Q561.1,460.3 486.44,514.92Z" fill="#1d4f96" fill-opacity="0.88" stroke="#1d4f96" stroke-width="0.35" stroke-opacity="0.6"/>
<path d="M489.94,521.36 L489.11,519.92 L488.29,518.46 Q561.1,460.3 571.62,355.67 L573.37,355.95 Q561.1,460.3 489.94,521.36Z" fill="#1d4f96" fill-opacity="0.88" stroke="#1d4f96" stroke-width="0.35" stroke-opacity="0.6"/>
<path d="M529.66,558.63 L527.85,557.76 L526.06,556.84 L524.29,555.87 Q561.1,460.3 569.88,355.43 L571.62,355.67 Q561.1,460.3 529.66,558.63Z" fill="#1d4f96" fill-opacity="0.88" stroke="#1d4f96" stroke-width="0.35" stroke-opacity="0.6"/>
<path d="M535.69,561.14 L533.83,560.43 L531.99,559.67 L530.17,558.86 Q561.1,460.3 568.12,355.24 L569.88,355.43 Q561.1,460.3 535.69,561.14Z" fill="#1d4f96" fill-opacity="0.88" stroke="#1d4f96" stroke-width="0.35" stroke-opacity="0.6"/>
<path d="M541.85,563.11 L539.96,562.56 L538.08,561.97 L536.21,561.33 Q561.1,460.3 566.37,355.09 L568.12,355.24 Q561.1,460.3 541.85,563.11Z" fill="#1d4f96" fill-opacity="0.88" stroke="#1d4f96" stroke-width="0.35" stroke-opacity="0.6"/>
<path d="M548.12,564.53 L546.2,564.15 L544.29,563.73 L542.39,563.25 Q561.1,460.3 564.62,354.99 L566.37,355.09 Q561.1,460.3 548.12,564.53Z" fill="#1d4f96" fill-opacity="0.88" stroke="#1d4f96" stroke-width="0.35" stroke-opacity="0.6"/>
<path d="M554.45,565.39 L552.52,565.19 L550.59,564.93 L548.66,564.62 Q561.1,460.3 562.86,354.92 L564.62,354.99 Q561.1,460.3 554.45,565.39Z" fill="#1d4f96" fill-opacity="0.88" stroke="#1d4f96" stroke-width="0.35" stroke-opacity="0.6"/>
<path d="M560.83,565.7 L558.88,565.67 L556.94,565.58 L555,565.44 Q561.1,460.3 561.1,354.9 L562.86,354.92 Q561.1,460.3 560.83,565.7Z" fill="#1d4f96" fill-opacity="0.88" stroke="#1d4f96" stroke-width="0.35" stroke-opacity="0.6"/>
<path d="M555.73,355.1 L556.46,355.05 Q561.1,460.3 634.89,403.97 L635.81,405.77 Q561.1,460.3 555.73,355.1Z" fill="#d7232a" fill-opacity="0.88" stroke="#d7232a" stroke-width="0.35" stroke-opacity="0.6"/>
<path d="M531.08,361.33 L531.99,360.93 Q561.1,460.3 632.95,400.43 L633.93,402.18 Q561.1,460.3 531.08,361.33Z" fill="#d7232a" fill-opacity="0.88" stroke="#d7232a" stroke-width="0.35" stroke-opacity="0.6"/>
<path d="M525.05,364.31 L525.81,363.9 Q561.1,460.3 631.93,398.69 L632.95,400.43 Q561.1,460.3 525.05,364.31Z" fill="#d7232a" fill-opacity="0.88" stroke="#d7232a" stroke-width="0.35" stroke-opacity="0.6"/>
<path d="M519.34,367.74 L520.08,367.26 Q561.1,460.3 630.89,396.98 L631.93,398.69 Q561.1,460.3 519.34,367.74Z" fill="#d7232a" fill-opacity="0.88" stroke="#d7232a" stroke-width="0.35" stroke-opacity="0.6"/>
<path d="M503.92,380.65 L504.81,379.74 Q561.1,460.3 628.72,393.64 L629.82,395.3 Q561.1,460.3 503.92,380.65Z" fill="#d7232a" fill-opacity="0.88" stroke="#d7232a" stroke-width="0.35" stroke-opacity="0.6"/>
<path d="M495.12,391.28 L496.08,389.96 Q561.1,460.3 627.6,392.01 L628.72,393.64 Q561.1,460.3 495.12,391.28Z" fill="#d7232a" fill-opacity="0.88" stroke="#d7232a" stroke-width="0.35" stroke-opacity="0.6"/>
<path d="M490.95,397.57 L491.65,396.44 Q561.1,460.3 626.44,390.41 L627.6,392.01 Q561.1,460.3 490.95,397.57Z" fill="#d7232a" fill-opacity="0.88" stroke="#d7232a" stroke-width="0.35" stroke-opacity="0.6"/>
<path d="M487.24,404.11 L487.76,403.13 Q561.1,460.3 625.27,388.83 L626.44,390.41 Q561.1,460.3 487.24,404.11Z" fill="#d7232a" fill-opacity="0.88" stroke="#d7232a" stroke-width="0.35" stroke-opacity="0.6"/>
<path d="M479.05,424.3 L479.56,422.65 Q561.1,460.3 624.06,387.29 L625.27,388.83 Q561.1,460.3 479.05,424.3Z" fill="#d7232a" fill-opacity="0.88" stroke="#d7232a" stroke-width="0.35" stroke-opacity="0.6"/>
<path d="M476.93,432.35 L477.15,431.38 Q561.1,460.3 622.83,385.77 L624.06,387.29 Q561.1,460.3 476.93,432.35Z" fill="#d7232a" fill-opacity="0.88" stroke="#d7232a" stroke-width="0.35" stroke-opacity="0.6"/>
<path d="M475.68,438.53 L476.11,436.24 Q561.1,460.3 621.57,384.29 L622.83,385.77 Q561.1,460.3 475.68,438.53Z" fill="#d7232a" fill-opacity="0.88" stroke="#d7232a" stroke-width="0.35" stroke-opacity="0.6"/>
<path d="M474.53,446.7 L474.73,444.95 Q561.1,460.3 620.29,382.83 L621.57,384.29 Q561.1,460.3 474.53,446.7Z" fill="#d7232a" fill-opacity="0.88" stroke="#d7232a" stroke-width="0.35" stroke-opacity="0.6"/>
<path d="M474.11,469.16 L473.97,466.82 Q561.1,460.3 618.99,381.41 L620.29,382.83 Q561.1,460.3 474.11,469.16Z" fill="#d7232a" fill-opacity="0.88" stroke="#d7232a" stroke-width="0.35" stroke-opacity="0.6"/>
<path d="M485.45,512.9 L484.5,510.86 Q561.1,460.3 617.66,380.02 L618.99,381.41 Q561.1,460.3 485.45,512.9Z" fill="#d7232a" fill-opacity="0.88" stroke="#d7232a" stroke-width="0.35" stroke-opacity="0.6"/>
<path d="M508.74,375.97 L509.52,375.27 Q561.1,460.3 629.82,395.3 L630.89,396.98 Q561.1,460.3 508.74,375.97Z" fill="#d7232a" fill-opacity="0.88" stroke="#d7232a" stroke-width="0.35" stroke-opacity="0.6"/>
<path d="M537.01,358.99 L537.81,358.72 Q561.1,460.3 633.93,402.18 L634.89,403.97 Q561.1,460.3 537.01,358.99Z" fill="#d7232a" fill-opacity="0.88" stroke="#d7232a" stroke-width="0.35" stroke-opacity="0.6"/>
<path d="M549.49,355.84 L550.31,355.71 Q561.1,460.3 646.27,437.14 L646.64,439.22 Q561.1,460.3 549.49,355.84Z" fill="#5a9a3a" fill-opacity="0.88" stroke="#5a9a3a" stroke-width="0.35" stroke-opacity="0.6"/>
<path d="M543.34,357.11 L544.29,356.87 Q561.1,460.3 645.86,435.08 L646.27,437.14 Q561.1,460.3 543.34,357.11Z" fill="#5a9a3a" fill-opacity="0.88" stroke="#5a9a3a" stroke-width="0.35" stroke-opacity="0.6"/>
<path d="M525.81,363.9 L526.57,363.49 Q561.1,460.3 645.43,433.02 L645.86,435.08 Q561.1,460.3 525.81,363.9Z" fill="#5a9a3a" fill-opacity="0.88" stroke="#5a9a3a" stroke-width="0.35" stroke-opacity="0.6"/>
<path d="M520.08,367.26 L520.81,366.79 Q561.1,460.3 644.95,430.98 L645.43,433.02 Q561.1,460.3 520.08,367.26Z" fill="#5a9a3a" fill-opacity="0.88" stroke="#5a9a3a" stroke-width="0.35" stroke-opacity="0.6"/>
<path d="M499.26,385.9 L500.09,384.91 Q561.1,460.3 644.45,428.94 L644.95,430.98 Q561.1,460.3 499.26,385.9Z" fill="#5a9a3a" fill-opacity="0.88" stroke="#5a9a3a" stroke-width="0.35" stroke-opacity="0.6"/>
<path d="M496.08,389.96 L497.06,388.66 Q561.1,460.3 643.91,426.92 L644.45,428.94 Q561.1,460.3 496.08,389.96Z" fill="#5a9a3a" fill-opacity="0.88" stroke="#5a9a3a" stroke-width="0.35" stroke-opacity="0.6"/>
<path d="M487.76,403.13 L488.29,402.14 Q561.1,460.3 643.33,424.92 L643.91,426.92 Q561.1,460.3 487.76,403.13Z" fill="#5a9a3a" fill-opacity="0.88" stroke="#5a9a3a" stroke-width="0.35" stroke-opacity="0.6"/>
<path d="M483.59,411.81 L484.27,410.26 Q561.1,460.3 642.73,422.92 L643.33,424.92 Q561.1,460.3 483.59,411.81Z" fill="#5a9a3a" fill-opacity="0.88" stroke="#5a9a3a" stroke-width="0.35" stroke-opacity="0.6"/>
<path d="M481.45,417.16 L482.05,415.56 Q561.1,460.3 642.09,420.95 L642.73,422.92 Q561.1,460.3 481.45,417.16Z" fill="#5a9a3a" fill-opacity="0.88" stroke="#5a9a3a" stroke-width="0.35" stroke-opacity="0.6"/>
<path d="M474.73,444.95 L474.95,443.22 Q561.1,460.3 640.71,417.04 L641.41,418.99 Q561.1,460.3 474.73,444.95Z" fill="#5a9a3a" fill-opacity="0.88" stroke="#5a9a3a" stroke-width="0.35" stroke-opacity="0.6"/>
<path d="M473.97,466.82 L473.87,464.48 Q561.1,460.3 639.97,415.12 L640.71,417.04 Q561.1,460.3 473.97,466.82Z" fill="#5a9a3a" fill-opacity="0.88" stroke="#5a9a3a" stroke-width="0.35" stroke-opacity="0.6"/>
<path d="M477.79,491.79 L477.23,489.54 Q561.1,460.3 639.2,413.21 L639.97,415.12 Q561.1,460.3 477.79,491.79Z" fill="#5a9a3a" fill-opacity="0.88" stroke="#5a9a3a" stroke-width="0.35" stroke-opacity="0.6"/>
<path d="M482.47,506.1 L481.65,503.97 Q561.1,460.3 638.4,411.32 L639.2,413.21 Q561.1,460.3 482.47,506.1Z" fill="#5a9a3a" fill-opacity="0.88" stroke="#5a9a3a" stroke-width="0.35" stroke-opacity="0.6"/>
<path d="M484.5,510.86 L483.59,508.79 Q561.1,460.3 637.57,409.45 L638.4,411.32 Q561.1,460.3 484.5,510.86Z" fill="#5a9a3a" fill-opacity="0.88" stroke="#5a9a3a" stroke-width="0.35" stroke-opacity="0.6"/>
<path d="M493.82,527.47 L492.9,526.1 L492,524.72 Q561.1,460.3 636.7,407.6 L637.57,409.45 Q561.1,460.3 493.82,527.47Z" fill="#5a9a3a" fill-opacity="0.88" stroke="#5a9a3a" stroke-width="0.35" stroke-opacity="0.6"/>
<path d="M498.06,533.22 L496.73,531.5 Q561.1,460.3 635.81,405.77 L636.7,407.6 Q561.1,460.3 498.06,533.22Z" fill="#5a9a3a" fill-opacity="0.88" stroke="#5a9a3a" stroke-width="0.35" stroke-opacity="0.6"/>
<path d="M477.15,431.38 L477.38,430.42 Q561.1,460.3 641.41,418.99 L642.09,420.95 Q561.1,460.3 477.15,431.38Z" fill="#5a9a3a" fill-opacity="0.88" stroke="#5a9a3a" stroke-width="0.35" stroke-opacity="0.6"/>
<path d="M556.46,355.05 L557.18,355.01 Q561.1,460.3 648.38,462.42 L648.33,464.54 Q561.1,460.3 556.46,355.05Z" fill="#1b9a8c" fill-opacity="0.88" stroke="#1b9a8c" stroke-width="0.35" stroke-opacity="0.6"/>
<path d="M537.81,358.72 L538.62,358.46 Q561.1,460.3 648.4,460.3 L648.38,462.42 Q561.1,460.3 537.81,358.72Z" fill="#1b9a8c" fill-opacity="0.88" stroke="#1b9a8c" stroke-width="0.35" stroke-opacity="0.6"/>
<path d="M531.99,360.93 L532.91,360.55 Q561.1,460.3 648.38,458.18 L648.4,460.3 Q561.1,460.3 531.99,360.93Z" fill="#1b9a8c" fill-opacity="0.88" stroke="#1b9a8c" stroke-width="0.35" stroke-opacity="0.6"/>
<path d="M526.57,363.49 L527.34,363.1 Q561.1,460.3 648.33,456.06 L648.38,458.18 Q561.1,460.3 526.57,363.49Z" fill="#1b9a8c" fill-opacity="0.88" stroke="#1b9a8c" stroke-width="0.35" stroke-opacity="0.6"/>
<path d="M497.06,388.66 L498.06,387.38 Q561.1,460.3 648.24,453.94 L648.33,456.06 Q561.1,460.3 497.06,388.66Z" fill="#1b9a8c" fill-opacity="0.88" stroke="#1b9a8c" stroke-width="0.35" stroke-opacity="0.6"/>
<path d="M491.65,396.44 L492.36,395.33 Q561.1,460.3 648.12,451.82 L648.24,453.94 Q561.1,460.3 491.65,396.44Z" fill="#1b9a8c" fill-opacity="0.88" stroke="#1b9a8c" stroke-width="0.35" stroke-opacity="0.6"/>
<path d="M482.05,415.56 L482.68,413.98 Q561.1,460.3 647.96,449.7 L648.12,451.82 Q561.1,460.3 482.05,415.56Z" fill="#1b9a8c" fill-opacity="0.88" stroke="#1b9a8c" stroke-width="0.35" stroke-opacity="0.6"/>
<path d="M479.56,422.65 L480.09,421.01 Q561.1,460.3 647.76,447.6 L647.96,449.7 Q561.1,460.3 479.56,422.65Z" fill="#1b9a8c" fill-opacity="0.88" stroke="#1b9a8c" stroke-width="0.35" stroke-opacity="0.6"/>
<path d="M476.11,436.24 L476.57,433.96 Q561.1,460.3 647.53,445.49 L647.76,447.6 Q561.1,460.3 476.11,436.24Z" fill="#1b9a8c" fill-opacity="0.88" stroke="#1b9a8c" stroke-width="0.35" stroke-opacity="0.6"/>
<path d="M476.11,484.36 L475.68,482.07 Q561.1,460.3 647.27,443.39 L647.53,445.49 Q561.1,460.3 476.11,484.36Z" fill="#1b9a8c" fill-opacity="0.88" stroke="#1b9a8c" stroke-width="0.35" stroke-opacity="0.6"/>
<path d="M479.91,499.05 L479.22,496.85 Q561.1,460.3 646.97,441.3 L647.27,443.39 Q561.1,460.3 479.91,499.05Z" fill="#1b9a8c" fill-opacity="0.88" stroke="#1b9a8c" stroke-width="0.35" stroke-opacity="0.6"/>
<path d="M481.65,503.97 L480.86,501.83 Q561.1,460.3 646.64,439.22 L646.97,441.3 Q561.1,460.3 481.65,503.97Z" fill="#1b9a8c" fill-opacity="0.88" stroke="#1b9a8c" stroke-width="0.35" stroke-opacity="0.6"/>
<path d="M557.18,355.01 L557.91,354.97 Q561.1,460.3 644.95,489.62 L644.45,491.66 Q561.1,460.3 557.18,355.01Z" fill="#4b6cb0" fill-opacity="0.88" stroke="#4b6cb0" stroke-width="0.35" stroke-opacity="0.6"/>
<path d="M538.62,358.46 L539.42,358.2 Q561.1,460.3 645.43,487.58 L644.95,489.62 Q561.1,460.3 538.62,358.46Z" fill="#4b6cb0" fill-opacity="0.88" stroke="#4b6cb0" stroke-width="0.35" stroke-opacity="0.6"/>
<path d="M532.91,360.55 L533.83,360.17 Q561.1,460.3 645.86,485.52 L645.43,487.58 Q561.1,460.3 532.91,360.55Z" fill="#4b6cb0" fill-opacity="0.88" stroke="#4b6cb0" stroke-width="0.35" stroke-opacity="0.6"/>
<path d="M527.34,363.1 L528.11,362.72 Q561.1,460.3 646.27,483.46 L645.86,485.52 Q561.1,460.3 527.34,363.1Z" fill="#4b6cb0" fill-opacity="0.88" stroke="#4b6cb0" stroke-width="0.35" stroke-opacity="0.6"/>
<path d="M520.81,366.79 L521.55,366.33 Q561.1,460.3 646.64,481.38 L646.27,483.46 Q561.1,460.3 520.81,366.79Z" fill="#4b6cb0" fill-opacity="0.88" stroke="#4b6cb0" stroke-width="0.35" stroke-opacity="0.6"/>
<path d="M509.52,375.27 L510.3,374.58 Q561.1,460.3 646.97,479.3 L646.64,481.38 Q561.1,460.3 509.52,375.27Z" fill="#4b6cb0" fill-opacity="0.88" stroke="#4b6cb0" stroke-width="0.35" stroke-opacity="0.6"/>
<path d="M504.81,379.74 L505.71,378.84 Q561.1,460.3 647.27,477.21 L646.97,479.3 Q561.1,460.3 504.81,379.74Z" fill="#4b6cb0" fill-opacity="0.88" stroke="#4b6cb0" stroke-width="0.35" stroke-opacity="0.6"/>
<path d="M500.09,384.91 L500.93,383.94 Q561.1,460.3 647.53,475.11 L647.27,477.21 Q561.1,460.3 500.09,384.91Z" fill="#4b6cb0" fill-opacity="0.88" stroke="#4b6cb0" stroke-width="0.35" stroke-opacity="0.6"/>
<path d="M492.36,395.33 L493.09,394.22 Q561.1,460.3 647.76,473 L647.53,475.11 Q561.1,460.3 492.36,395.33Z" fill="#4b6cb0" fill-opacity="0.88" stroke="#4b6cb0" stroke-width="0.35" stroke-opacity="0.6"/>
<path d="M477.38,430.42 L477.62,429.45 Q561.1,460.3 647.96,470.9 L647.76,473 Q561.1,460.3 477.38,430.42Z" fill="#4b6cb0" fill-opacity="0.88" stroke="#4b6cb0" stroke-width="0.35" stroke-opacity="0.6"/>
<path d="M473.97,453.78 L474.11,451.44 Q561.1,460.3 648.12,468.78 L647.96,470.9 Q561.1,460.3 473.97,453.78Z" fill="#4b6cb0" fill-opacity="0.88" stroke="#4b6cb0" stroke-width="0.35" stroke-opacity="0.6"/>
<path d="M473.81,461.47 L473.81,459.13 Q561.1,460.3 648.24,466.66 L648.12,468.78 Q561.1,460.3 473.81,461.47Z" fill="#4b6cb0" fill-opacity="0.88" stroke="#4b6cb0" stroke-width="0.35" stroke-opacity="0.6"/>
<path d="M475.68,482.07 L475.3,479.77 Q561.1,460.3 648.33,464.54 L648.24,466.66 Q561.1,460.3 475.68,482.07Z" fill="#4b6cb0" fill-opacity="0.88" stroke="#4b6cb0" stroke-width="0.35" stroke-opacity="0.6"/>
<path d="M557.91,354.97 L558.64,354.94 Q561.1,460.3 633.93,518.42 L632.95,520.17 Q561.1,460.3 557.91,354.97Z" fill="#d88aa2" fill-opacity="0.88" stroke="#d88aa2" stroke-width="0.35" stroke-opacity="0.6"/>
<path d="M550.31,355.71 L551.14,355.59 Q561.1,460.3 634.89,516.63 L633.93,518.42 Q561.1,460.3 550.31,355.71Z" fill="#d88aa2" fill-opacity="0.88" stroke="#d88aa2" stroke-width="0.35" stroke-opacity="0.6"/>
<path d="M544.29,356.87 L545.24,356.65 Q561.1,460.3 635.81,514.83 L634.89,516.63 Q561.1,460.3 544.29,356.87Z" fill="#d88aa2" fill-opacity="0.88" stroke="#d88aa2" stroke-width="0.35" stroke-opacity="0.6"/>
<path d="M539.42,358.2 L540.23,357.96 Q561.1,460.3 636.7,513 L635.81,514.83 Q561.1,460.3 539.42,358.2Z" fill="#d88aa2" fill-opacity="0.88" stroke="#d88aa2" stroke-width="0.35" stroke-opacity="0.6"/>
<path d="M521.55,366.33 L522.3,365.88 Q561.1,460.3 637.57,511.15 L636.7,513 Q561.1,460.3 521.55,366.33Z" fill="#d88aa2" fill-opacity="0.88" stroke="#d88aa2" stroke-width="0.35" stroke-opacity="0.6"/>
<path d="M513.97,371.58 L514.8,370.95 Q561.1,460.3 638.4,509.28 L637.57,511.15 Q561.1,460.3 513.97,371.58Z" fill="#d88aa2" fill-opacity="0.88" stroke="#d88aa2" stroke-width="0.35" stroke-opacity="0.6"/>
<path d="M510.3,374.58 L511.1,373.9 Q561.1,460.3 639.2,507.39 L638.4,509.28 Q561.1,460.3 510.3,374.58Z" fill="#d88aa2" fill-opacity="0.88" stroke="#d88aa2" stroke-width="0.35" stroke-opacity="0.6"/>
<path d="M505.71,378.84 L506.61,377.95 Q561.1,460.3 639.97,505.48 L639.2,507.39 Q561.1,460.3 505.71,378.84Z" fill="#d88aa2" fill-opacity="0.88" stroke="#d88aa2" stroke-width="0.35" stroke-opacity="0.6"/>
<path d="M500.93,383.94 L501.78,382.97 Q561.1,460.3 640.71,503.56 L639.97,505.48 Q561.1,460.3 500.93,383.94Z" fill="#d88aa2" fill-opacity="0.88" stroke="#d88aa2" stroke-width="0.35" stroke-opacity="0.6"/>
<path d="M480.09,421.01 L480.65,419.38 Q561.1,460.3 642.09,499.65 L641.41,501.61 Q561.1,460.3 480.09,421.01Z" fill="#d88aa2" fill-opacity="0.88" stroke="#d88aa2" stroke-width="0.35" stroke-opacity="0.6"/>
<path d="M474.88,476.81 L474.59,474.48 Q561.1,460.3 642.73,497.68 L642.09,499.65 Q561.1,460.3 474.88,476.81Z" fill="#d88aa2" fill-opacity="0.88" stroke="#d88aa2" stroke-width="0.35" stroke-opacity="0.6"/>
<path d="M502.64,538.58 L501.21,536.99 L499.81,535.36 L498.44,533.69 Q561.1,460.3 643.33,495.68 L642.73,497.68 Q561.1,460.3 502.64,538.58Z" fill="#d88aa2" fill-opacity="0.88" stroke="#d88aa2" stroke-width="0.35" stroke-opacity="0.6"/>
<path d="M507.53,543.52 L506.01,542.06 L504.51,540.56 L503.05,539.02 Q561.1,460.3 643.91,493.68 L643.33,495.68 Q561.1,460.3 507.53,543.52Z" fill="#d88aa2" fill-opacity="0.88" stroke="#d88aa2" stroke-width="0.35" stroke-opacity="0.6"/>
<path d="M523.8,555.59 L522.05,554.57 L520.32,553.49 L518.61,552.38 Q561.1,460.3 644.45,491.66 L643.91,493.68 Q561.1,460.3 523.8,555.59Z" fill="#d88aa2" fill-opacity="0.88" stroke="#d88aa2" stroke-width="0.35" stroke-opacity="0.6"/>
<path d="M488.29,402.14 L488.83,401.17 Q561.1,460.3 641.41,501.61 L640.71,503.56 Q561.1,460.3 488.29,402.14Z" fill="#d88aa2" fill-opacity="0.88" stroke="#d88aa2" stroke-width="0.35" stroke-opacity="0.6"/>
<path d="M558.64,354.94 L559.37,354.92 Q561.1,460.3 624.06,533.31 L622.83,534.83 Q561.1,460.3 558.64,354.94Z" fill="#e4676b" fill-opacity="0.88" stroke="#e4676b" stroke-width="0.35" stroke-opacity="0.6"/>
<path d="M551.14,355.59 L551.97,355.48 Q561.1,460.3 625.27,531.77 L624.06,533.31 Q561.1,460.3 551.14,355.59Z" fill="#e4676b" fill-opacity="0.88" stroke="#e4676b" stroke-width="0.35" stroke-opacity="0.6"/>
<path d="M545.24,356.65 L546.2,356.45 Q561.1,460.3 626.44,530.19 L625.27,531.77 Q561.1,460.3 545.24,356.65Z" fill="#e4676b" fill-opacity="0.88" stroke="#e4676b" stroke-width="0.35" stroke-opacity="0.6"/>
<path d="M540.23,357.96 L541.04,357.72 Q561.1,460.3 627.6,528.59 L626.44,530.19 Q561.1,460.3 540.23,357.96Z" fill="#e4676b" fill-opacity="0.88" stroke="#e4676b" stroke-width="0.35" stroke-opacity="0.6"/>
<path d="M533.83,360.17 L534.76,359.81 Q561.1,460.3 628.72,526.96 L627.6,528.59 Q561.1,460.3 533.83,360.17Z" fill="#e4676b" fill-opacity="0.88" stroke="#e4676b" stroke-width="0.35" stroke-opacity="0.6"/>
<path d="M528.11,362.72 L528.88,362.34 Q561.1,460.3 629.82,525.3 L628.72,526.96 Q561.1,460.3 528.11,362.72Z" fill="#e4676b" fill-opacity="0.88" stroke="#e4676b" stroke-width="0.35" stroke-opacity="0.6"/>
<path d="M514.8,370.95 L515.62,370.33 Q561.1,460.3 630.89,523.62 L629.82,525.3 Q561.1,460.3 514.8,370.95Z" fill="#e4676b" fill-opacity="0.88" stroke="#e4676b" stroke-width="0.35" stroke-opacity="0.6"/>
<path d="M511.1,373.9 L511.9,373.24 Q561.1,460.3 631.93,521.91 L630.89,523.62 Q561.1,460.3 511.1,373.9Z" fill="#e4676b" fill-opacity="0.88" stroke="#e4676b" stroke-width="0.35" stroke-opacity="0.6"/>
<path d="M518.13,552.05 L516.45,550.87 L514.8,549.65 L513.16,548.39 Q561.1,460.3 632.95,520.17 L631.93,521.91 Q561.1,460.3 518.13,552.05Z" fill="#e4676b" fill-opacity="0.88" stroke="#e4676b" stroke-width="0.35" stroke-opacity="0.6"/>
<path d="M551.97,355.48 L552.79,355.38 Q561.1,460.3 607.76,549.38 L606.26,550.5 Q561.1,460.3 551.97,355.48Z" fill="#b0264e" fill-opacity="0.88" stroke="#b0264e" stroke-width="0.35" stroke-opacity="0.6"/>
<path d="M515.62,370.33 L516.45,369.73 Q561.1,460.3 609.24,548.23 L607.76,549.38 Q561.1,460.3 515.62,370.33Z" fill="#b0264e" fill-opacity="0.88" stroke="#b0264e" stroke-width="0.35" stroke-opacity="0.6"/>
<path d="M488.83,401.17 L489.38,400.2 Q561.1,460.3 610.69,547.04 L609.24,548.23 Q561.1,460.3 488.83,401.17Z" fill="#b0264e" fill-opacity="0.88" stroke="#b0264e" stroke-width="0.35" stroke-opacity="0.6"/>
<path d="M484.27,410.26 L484.97,408.72 Q561.1,460.3 612.13,545.82 L610.69,547.04 Q561.1,460.3 484.27,410.26Z" fill="#b0264e" fill-opacity="0.88" stroke="#b0264e" stroke-width="0.35" stroke-opacity="0.6"/>
<path d="M482.68,413.98 L483.34,412.4 Q561.1,460.3 613.54,544.56 L612.13,545.82 Q561.1,460.3 482.68,413.98Z" fill="#b0264e" fill-opacity="0.88" stroke="#b0264e" stroke-width="0.35" stroke-opacity="0.6"/>
<path d="M477.62,429.45 L477.87,428.49 Q561.1,460.3 614.94,543.27 L613.54,544.56 Q561.1,460.3 477.62,429.45Z" fill="#b0264e" fill-opacity="0.88" stroke="#b0264e" stroke-width="0.35" stroke-opacity="0.6"/>
<path d="M473.81,459.13 L473.85,456.78 Q561.1,460.3 616.31,541.94 L614.94,543.27 Q561.1,460.3 473.81,459.13Z" fill="#b0264e" fill-opacity="0.88" stroke="#b0264e" stroke-width="0.35" stroke-opacity="0.6"/>
<path d="M477.23,489.54 L476.71,487.28 Q561.1,460.3 617.66,540.58 L616.31,541.94 Q561.1,460.3 477.23,489.54Z" fill="#b0264e" fill-opacity="0.88" stroke="#b0264e" stroke-width="0.35" stroke-opacity="0.6"/>
<path d="M479.22,496.85 L478.56,494.64 Q561.1,460.3 618.99,539.19 L617.66,540.58 Q561.1,460.3 479.22,496.85Z" fill="#b0264e" fill-opacity="0.88" stroke="#b0264e" stroke-width="0.35" stroke-opacity="0.6"/>
<path d="M488.29,518.46 L487.5,516.98 L486.72,515.49 Q561.1,460.3 620.29,537.77 L618.99,539.19 Q561.1,460.3 488.29,518.46Z" fill="#b0264e" fill-opacity="0.88" stroke="#b0264e" stroke-width="0.35" stroke-opacity="0.6"/>
<path d="M492,524.72 L491.12,523.32 L490.26,521.9 Q561.1,460.3 621.57,536.31 L620.29,537.77 Q561.1,460.3 492,524.72Z" fill="#b0264e" fill-opacity="0.88" stroke="#b0264e" stroke-width="0.35" stroke-opacity="0.6"/>
<path d="M496.73,531.5 L495.44,529.76 Q561.1,460.3 622.83,534.83 L621.57,536.31 Q561.1,460.3 496.73,531.5Z" fill="#b0264e" fill-opacity="0.88" stroke="#b0264e" stroke-width="0.35" stroke-opacity="0.6"/>
<path d="M559.37,354.92 L560.1,354.91 Q561.1,460.3 585.39,561.54 L583.69,562.11 Q561.1,460.3 559.37,354.92Z" fill="#a6d9c6" fill-opacity="0.88" stroke="#a6d9c6" stroke-width="0.35" stroke-opacity="0.6"/>
<path d="M552.79,355.38 L553.62,355.29 Q561.1,460.3 587.07,560.93 L585.39,561.54 Q561.1,460.3 552.79,355.38Z" fill="#a6d9c6" fill-opacity="0.88" stroke="#a6d9c6" stroke-width="0.35" stroke-opacity="0.6"/>
<path d="M546.2,356.45 L547.16,356.25 Q561.1,460.3 588.75,560.28 L587.07,560.93 Q561.1,460.3 546.2,356.45Z" fill="#a6d9c6" fill-opacity="0.88" stroke="#a6d9c6" stroke-width="0.35" stroke-opacity="0.6"/>
<path d="M522.3,365.88 L523.05,365.44 Q561.1,460.3 590.41,559.58 L588.75,560.28 Q561.1,460.3 522.3,365.88Z" fill="#a6d9c6" fill-opacity="0.88" stroke="#a6d9c6" stroke-width="0.35" stroke-opacity="0.6"/>
<path d="M516.45,369.73 L517.29,369.13 Q561.1,460.3 592.06,558.85 L590.41,559.58 Q561.1,460.3 516.45,369.73Z" fill="#a6d9c6" fill-opacity="0.88" stroke="#a6d9c6" stroke-width="0.35" stroke-opacity="0.6"/>
<path d="M511.9,373.24 L512.7,372.58 Q561.1,460.3 593.69,558.08 L592.06,558.85 Q561.1,460.3 511.9,373.24Z" fill="#a6d9c6" fill-opacity="0.88" stroke="#a6d9c6" stroke-width="0.35" stroke-opacity="0.6"/>
<path d="M506.61,377.95 L507.53,377.08 Q561.1,460.3 595.32,557.27 L593.69,558.08 Q561.1,460.3 506.61,377.95Z" fill="#a6d9c6" fill-opacity="0.88" stroke="#a6d9c6" stroke-width="0.35" stroke-opacity="0.6"/>
<path d="M501.78,382.97 L502.64,382.02 Q561.1,460.3 596.93,556.41 L595.32,557.27 Q561.1,460.3 501.78,382.97Z" fill="#a6d9c6" fill-opacity="0.88" stroke="#a6d9c6" stroke-width="0.35" stroke-opacity="0.6"/>
<path d="M489.38,400.2 L489.94,399.24 Q561.1,460.3 598.52,555.52 L596.93,556.41 Q561.1,460.3 489.38,400.2Z" fill="#a6d9c6" fill-opacity="0.88" stroke="#a6d9c6" stroke-width="0.35" stroke-opacity="0.6"/>
<path d="M484.97,408.72 L485.69,407.19 Q561.1,460.3 600.11,554.59 L598.52,555.52 Q561.1,460.3 484.97,408.72Z" fill="#a6d9c6" fill-opacity="0.88" stroke="#a6d9c6" stroke-width="0.35" stroke-opacity="0.6"/>
<path d="M477.87,428.49 L478.13,427.54 Q561.1,460.3 601.67,553.63 L600.11,554.59 Q561.1,460.3 477.87,428.49Z" fill="#a6d9c6" fill-opacity="0.88" stroke="#a6d9c6" stroke-width="0.35" stroke-opacity="0.6"/>
<path d="M474.59,474.48 L474.35,472.16 Q561.1,460.3 603.22,552.62 L601.67,553.63 Q561.1,460.3 474.59,474.48Z" fill="#a6d9c6" fill-opacity="0.88" stroke="#a6d9c6" stroke-width="0.35" stroke-opacity="0.6"/>
<path d="M495.44,529.76 L494.17,527.98 Q561.1,460.3 604.75,551.58 L603.22,552.62 Q561.1,460.3 495.44,529.76Z" fill="#a6d9c6" fill-opacity="0.88" stroke="#a6d9c6" stroke-width="0.35" stroke-opacity="0.6"/>
<path d="M512.7,548.02 L511.1,546.7 L509.52,545.33 L507.96,543.93 Q561.1,460.3 606.26,550.5 L604.75,551.58 Q561.1,460.3 512.7,548.02Z" fill="#a6d9c6" fill-opacity="0.88" stroke="#a6d9c6" stroke-width="0.35" stroke-opacity="0.6"/>
<path d="M560.1,354.91 L560.83,354.9 Q561.1,460.3 562.86,565.68 L561.1,565.7 Q561.1,460.3 560.1,354.91Z" fill="#b6e0ec" fill-opacity="0.88" stroke="#b6e0ec" stroke-width="0.35" stroke-opacity="0.6"/>
<path d="M553.62,355.29 L554.45,355.21 Q561.1,460.3 564.62,565.61 L562.86,565.68 Q561.1,460.3 553.62,355.29Z" fill="#b6e0ec" fill-opacity="0.88" stroke="#b6e0ec" stroke-width="0.35" stroke-opacity="0.6"/>
<path d="M547.16,356.25 L548.12,356.07 Q561.1,460.3 566.37,565.51 L564.62,565.61 Q561.1,460.3 547.16,356.25Z" fill="#b6e0ec" fill-opacity="0.88" stroke="#b6e0ec" stroke-width="0.35" stroke-opacity="0.6"/>
<path d="M541.04,357.72 L541.85,357.49 Q561.1,460.3 568.12,565.36 L566.37,565.51 Q561.1,460.3 541.04,357.72Z" fill="#b6e0ec" fill-opacity="0.88" stroke="#b6e0ec" stroke-width="0.35" stroke-opacity="0.6"/>
<path d="M534.76,359.81 L535.69,359.46 Q561.1,460.3 569.88,565.17 L568.12,565.36 Q561.1,460.3 534.76,359.81Z" fill="#b6e0ec" fill-opacity="0.88" stroke="#b6e0ec" stroke-width="0.35" stroke-opacity="0.6"/>
<path d="M528.88,362.34 L529.66,361.97 Q561.1,460.3 571.62,564.93 L569.88,565.17 Q561.1,460.3 528.88,362.34Z" fill="#b6e0ec" fill-opacity="0.88" stroke="#b6e0ec" stroke-width="0.35" stroke-opacity="0.6"/>
<path d="M523.05,365.44 L523.8,365.01 Q561.1,460.3 573.37,564.65 L571.62,564.93 Q561.1,460.3 523.05,365.44Z" fill="#b6e0ec" fill-opacity="0.88" stroke="#b6e0ec" stroke-width="0.35" stroke-opacity="0.6"/>
<path d="M517.29,369.13 L518.13,368.55 Q561.1,460.3 575.1,564.34 L573.37,564.65 Q561.1,460.3 517.29,369.13Z" fill="#b6e0ec" fill-opacity="0.88" stroke="#b6e0ec" stroke-width="0.35" stroke-opacity="0.6"/>
<path d="M493.09,394.22 L493.82,393.13 Q561.1,460.3 576.84,563.97 L575.1,564.34 Q561.1,460.3 493.09,394.22Z" fill="#b6e0ec" fill-opacity="0.88" stroke="#b6e0ec" stroke-width="0.35" stroke-opacity="0.6"/>
<path d="M485.69,407.19 L486.44,405.68 Q561.1,460.3 578.56,563.57 L576.84,563.97 Q561.1,460.3 485.69,407.19Z" fill="#b6e0ec" fill-opacity="0.88" stroke="#b6e0ec" stroke-width="0.35" stroke-opacity="0.6"/>
<path d="M478.13,427.54 L478.39,426.58 Q561.1,460.3 580.28,563.12 L578.56,563.57 Q561.1,460.3 478.13,427.54Z" fill="#b6e0ec" fill-opacity="0.88" stroke="#b6e0ec" stroke-width="0.35" stroke-opacity="0.6"/>
<path d="M474.95,443.22 L475.2,441.48 Q561.1,460.3 581.99,562.64 L580.28,563.12 Q561.1,460.3 474.95,443.22Z" fill="#b6e0ec" fill-opacity="0.88" stroke="#b6e0ec" stroke-width="0.35" stroke-opacity="0.6"/>
<path d="M474.11,451.44 L474.29,449.1 Q561.1,460.3 583.69,562.11 L581.99,562.64 Q561.1,460.3 474.11,451.44Z" fill="#b6e0ec" fill-opacity="0.88" stroke="#b6e0ec" stroke-width="0.35" stroke-opacity="0.6"/>
<path d="M553.83,342.91 L556.28,342.74 L558.73,342.63 L561.19,342.6 L561.18,353.6 L558.99,353.63 L556.81,353.73 L554.63,353.88Z" fill="#fdf3c4" stroke="#fdf3c4" stroke-width="0.3"/>
<path d="M546.6,343.85 L549.03,343.47 L551.47,343.15 L553.92,342.91 L554.71,353.88 L552.53,354.1 L550.36,354.39 L548.2,354.74Z" fill="#fdecb8" stroke="#fdecb8" stroke-width="0.3"/>
<path d="M539.44,345.42 L541.85,344.82 L544.26,344.29 L546.68,343.84 L548.28,354.72 L546.12,355.14 L543.97,355.61 L541.84,356.15Z" fill="#fce5ad" stroke="#fce5ad" stroke-width="0.3"/>
<path d="M532.41,347.59 L534.76,346.79 L537.14,346.06 L539.53,345.39 L541.91,356.13 L539.79,356.73 L537.67,357.4 L535.57,358.12Z" fill="#fcdea1" stroke="#fcdea1" stroke-width="0.3"/>
<path d="M525.52,350.37 L527.82,349.36 L530.15,348.43 L532.49,347.56 L535.65,358.1 L533.56,358.88 L531.5,359.73 L529.45,360.64Z" fill="#fbd796" stroke="#fbd796" stroke-width="0.3"/>
<path d="M518.82,353.73 L521.06,352.53 L523.32,351.4 L525.6,350.33 L529.52,360.61 L527.49,361.57 L525.48,362.6 L523.49,363.69Z" fill="#fbd08a" stroke="#fbd08a" stroke-width="0.3"/>
<path d="M512.35,357.66 L514.51,356.27 L516.69,354.95 L518.9,353.69 L523.56,363.65 L521.6,364.79 L519.65,365.99 L517.74,367.25Z" fill="#fac581" stroke="#fac581" stroke-width="0.3"/>
<path d="M506.14,362.14 L508.21,360.57 L510.3,359.06 L512.43,357.61 L517.81,367.21 L515.91,368.52 L514.05,369.89 L512.21,371.31Z" fill="#fab977" stroke="#fab977" stroke-width="0.3"/>
<path d="M500.23,367.14 L502.19,365.4 L504.19,363.71 L506.22,362.08 L512.28,371.26 L510.47,372.74 L508.69,374.27 L506.95,375.85Z" fill="#f9ad6e" stroke="#f9ad6e" stroke-width="0.3"/>
<path d="M494.64,372.64 L496.48,370.73 L498.37,368.88 L500.3,367.08 L507.01,375.79 L505.3,377.42 L503.62,379.1 L501.98,380.83Z" fill="#f9a264" stroke="#f9a264" stroke-width="0.3"/>
<path d="M489.4,378.61 L491.12,376.54 L492.89,374.53 L494.7,372.57 L502.03,380.77 L500.42,382.55 L498.85,384.37 L497.32,386.24Z" fill="#f8965b" stroke="#f8965b" stroke-width="0.3"/>
<path d="M484.54,385.01 L486.14,382.8 L487.77,380.64 L489.46,378.53 L497.37,386.18 L495.87,388.09 L494.42,390.05 L493,392.05Z" fill="#f78957" stroke="#f78957" stroke-width="0.3"/>
<path d="M480.1,391.82 L481.55,389.48 L483.05,387.18 L484.6,384.93 L493.05,391.98 L491.67,394.02 L490.33,396.1 L489.04,398.22Z" fill="#f57d53" stroke="#f57d53" stroke-width="0.3"/>
<path d="M476.08,398.99 L477.39,396.53 L478.74,394.11 L480.15,391.73 L489.09,398.14 L487.84,400.3 L486.63,402.49 L485.47,404.72Z" fill="#f47050" stroke="#f47050" stroke-width="0.3"/>
<path d="M472.52,406.48 L473.67,403.92 L474.87,401.39 L476.13,398.9 L485.51,404.64 L484.4,406.9 L483.33,409.19 L482.3,411.51Z" fill="#f26356" stroke="#f26356" stroke-width="0.3"/>
<path d="M469.43,414.27 L470.42,411.61 L471.46,408.99 L472.56,406.39 L482.34,411.43 L481.36,413.78 L480.44,416.16 L479.56,418.57Z" fill="#f0565c" stroke="#f0565c" stroke-width="0.3"/>
<path d="M466.83,422.3 L467.66,419.56 L468.53,416.85 L469.47,414.17 L479.59,418.48 L478.76,420.92 L477.98,423.37 L477.25,425.85Z" fill="#ee4a62" stroke="#ee4a62" stroke-width="0.3"/>
<path d="M464.74,430.53 L465.39,427.73 L466.1,424.96 L466.86,422.2 L477.27,425.76 L476.59,428.26 L475.96,430.78 L475.38,433.31Z" fill="#e8436d" stroke="#e8436d" stroke-width="0.3"/>
<path d="M463.16,438.92 L463.63,436.08 L464.17,433.24 L464.76,430.43 L475.4,433.22 L474.87,435.77 L474.4,438.34 L473.97,440.92Z" fill="#e23c77" stroke="#e23c77" stroke-width="0.3"/>
<path d="M462.1,447.43 L462.4,444.55 L462.75,441.68 L463.17,438.82 L473.99,440.83 L473.62,443.42 L473.3,446.02 L473.03,448.63Z" fill="#dc377e" stroke="#dc377e" stroke-width="0.3"/>
<path d="M461.57,456 L461.69,453.1 L461.87,450.21 L462.11,447.32 L473.04,448.54 L472.83,451.15 L472.67,453.78 L472.56,456.4Z" fill="#d63184" stroke="#d63184" stroke-width="0.3"/>
<path d="M461.57,464.6 L461.51,461.7 L461.51,458.8 L461.57,455.9 L472.56,456.31 L472.51,458.94 L472.51,461.57 L472.56,464.2Z" fill="#d02c8a" stroke="#d02c8a" stroke-width="0.3"/>
<path d="M462.1,473.17 L461.86,470.29 L461.68,467.39 L461.56,464.5 L472.56,464.1 L472.66,466.73 L472.82,469.35 L473.03,471.97Z" fill="#c82c8c" stroke="#c82c8c" stroke-width="0.3"/>
<path d="M463.16,481.68 L462.74,478.82 L462.38,475.95 L462.09,473.07 L473.02,471.88 L473.29,474.49 L473.6,477.09 L473.97,479.68Z" fill="#c12b8f" stroke="#c12b8f" stroke-width="0.3"/>
<path d="M464.74,490.07 L464.15,487.26 L463.61,484.42 L463.14,481.58 L473.96,479.59 L474.38,482.17 L474.85,484.74 L475.38,487.29Z" fill="#b92b91" stroke="#b92b91" stroke-width="0.3"/>
<path d="M466.83,498.3 L466.07,495.55 L465.36,492.77 L464.72,489.97 L475.36,487.2 L475.94,489.73 L476.57,492.25 L477.25,494.75Z" fill="#b22a94" stroke="#b22a94" stroke-width="0.3"/>
<path d="M469.43,506.33 L468.5,503.65 L467.63,500.94 L466.81,498.21 L477.22,494.66 L477.95,497.14 L478.73,499.6 L479.56,502.03Z" fill="#a82a94" stroke="#a82a94" stroke-width="0.3"/>
<path d="M472.52,514.12 L471.43,511.52 L470.39,508.89 L469.4,506.24 L479.53,501.95 L480.4,504.35 L481.33,506.73 L482.3,509.09Z" fill="#9e2995" stroke="#9e2995" stroke-width="0.3"/>
<path d="M476.08,521.61 L474.83,519.12 L473.63,516.59 L472.48,514.03 L482.27,509 L483.29,511.33 L484.36,513.62 L485.47,515.88Z" fill="#942995" stroke="#942995" stroke-width="0.3"/>
<path d="M480.1,528.78 L478.69,526.41 L477.34,523.99 L476.04,521.53 L485.43,515.8 L486.59,518.03 L487.79,520.23 L489.04,522.38Z" fill="#8a2896" stroke="#8a2896" stroke-width="0.3"/>
<path d="M484.54,535.59 L483,533.34 L481.5,531.04 L480.05,528.7 L489,522.31 L490.29,524.43 L491.62,526.51 L493,528.55Z" fill="#7e2691" stroke="#7e2691" stroke-width="0.3"/>
<path d="M489.4,541.99 L487.72,539.88 L486.08,537.72 L484.49,535.51 L492.95,528.48 L494.36,530.48 L495.82,532.44 L497.32,534.36Z" fill="#73238b" stroke="#73238b" stroke-width="0.3"/>
<path d="M494.64,547.96 L492.83,546 L491.06,543.98 L489.34,541.92 L497.26,534.29 L498.8,536.16 L500.37,537.99 L501.98,539.77Z" fill="#672186" stroke="#672186" stroke-width="0.3"/>
<path d="M500.23,553.46 L498.3,551.66 L496.42,549.8 L494.57,547.89 L501.92,539.71 L503.56,541.44 L505.24,543.12 L506.95,544.75Z" fill="#5c1e81" stroke="#5c1e81" stroke-width="0.3"/>
<path d="M506.14,558.46 L504.11,556.83 L502.12,555.14 L500.16,553.4 L506.89,544.7 L508.63,546.28 L510.41,547.81 L512.21,549.29Z" fill="#511c77" stroke="#511c77" stroke-width="0.3"/>
<path d="M512.35,562.94 L510.23,561.49 L508.13,559.98 L506.07,558.4 L512.15,549.24 L513.98,550.66 L515.85,552.03 L517.74,553.35Z" fill="#46196c" stroke="#46196c" stroke-width="0.3"/>
<path d="M518.82,566.87 L516.61,565.61 L514.43,564.28 L512.28,562.89 L517.67,553.3 L519.59,554.56 L521.53,555.77 L523.49,556.91Z" fill="#3b1661" stroke="#3b1661" stroke-width="0.3"/>
<path d="M525.52,570.23 L523.24,569.16 L520.98,568.03 L518.75,566.83 L523.42,556.87 L525.41,557.96 L527.42,558.99 L529.45,559.96Z" fill="#30134f" stroke="#30134f" stroke-width="0.3"/>
<path d="M532.41,573.01 L530.06,572.14 L527.74,571.2 L525.44,570.2 L529.38,559.93 L531.43,560.84 L533.49,561.69 L535.57,562.48Z" fill="#26103c" stroke="#26103c" stroke-width="0.3"/>
<path d="M539.44,575.18 L537.05,574.52 L534.68,573.78 L532.32,572.98 L535.5,562.45 L537.6,563.18 L539.71,563.84 L541.84,564.45Z" fill="#1b0c29" stroke="#1b0c29" stroke-width="0.3"/>
<path d="M546.6,576.75 L544.17,576.29 L541.76,575.76 L539.36,575.16 L541.76,564.43 L543.9,564.97 L546.04,565.45 L548.2,565.86Z" fill="#12081b" stroke="#12081b" stroke-width="0.3"/>
<path d="M553.83,577.69 L551.38,577.44 L548.94,577.12 L546.51,576.73 L548.12,565.85 L550.29,566.2 L552.46,566.49 L554.63,566.72Z" fill="#09040e" stroke="#09040e" stroke-width="0.3"/>
<path d="M561.1,578 L558.65,577.96 L556.19,577.86 L553.74,577.68 L554.56,566.71 L556.73,566.87 L558.92,566.97 L561.1,567Z" fill="#000000" stroke="#000000" stroke-width="0.3"/>
<path d="M561.1,342.6 L563.7,342.64 L566.3,342.76 L568.89,342.96 L571.48,343.24 L574.06,343.6 L576.64,344.04 L579.2,344.56 L581.75,345.16 L584.29,345.83 L586.81,346.59 L589.31,347.42 L591.79,348.33 L594.26,349.31 L596.7,350.37 L599.11,351.51 L601.5,352.72 L603.86,354 L606.2,355.36 L608.5,356.78 L610.77,358.28 L613.01,359.85 L615.21,361.48 L617.37,363.19 L619.5,364.96 L621.59,366.79 L623.63,368.69 L625.63,370.65 L621.87,375.06 L619.99,373.2 L618.06,371.4 L616.1,369.65 L614.1,367.97 L612.06,366.35 L609.99,364.8 L607.88,363.31 L605.74,361.88 L603.57,360.53 L601.37,359.24 L599.15,358.02 L596.9,356.87 L594.62,355.79 L592.33,354.78 L590.01,353.85 L587.67,352.98 L585.31,352.19 L582.94,351.47 L580.55,350.83 L578.15,350.26 L575.73,349.77 L573.31,349.35 L570.88,349.01 L568.44,348.74 L566,348.55 L563.55,348.44 L561.1,348.4Z" fill="#1d4f96" stroke="#1d4f96" stroke-width="0.3"/>
<path d="M561.1,348.4 L563.55,348.44 L566,348.55 L568.44,348.74 L570.88,349.01 L573.31,349.35 L575.73,349.77 L578.15,350.26 L580.55,350.83 L582.94,351.47 L585.31,352.19 L587.67,352.98 L590.01,353.85 L592.33,354.78 L594.62,355.79 L596.9,356.87 L599.15,358.02 L601.37,359.24 L603.57,360.53 L605.74,361.88 L607.88,363.31 L609.99,364.8 L612.06,366.35 L614.1,367.97 L616.1,369.65 L618.06,371.4 L619.99,373.2 L621.87,375.06 L618.51,379.03 L616.72,377.25 L614.91,375.53 L613.05,373.87 L611.16,372.26 L609.23,370.72 L607.27,369.24 L605.29,367.82 L603.27,366.46 L601.22,365.16 L599.14,363.94 L597.04,362.77 L594.91,361.68 L592.77,360.65 L590.59,359.69 L588.4,358.79 L586.19,357.97 L583.97,357.22 L581.73,356.53 L579.47,355.92 L577.2,355.38 L574.92,354.91 L572.63,354.51 L570.33,354.18 L568.03,353.93 L565.72,353.75 L563.41,353.64 L561.1,353.6Z" fill="#a51c24" stroke="#a51c24" stroke-width="0.3"/>
<path d="M625.63,370.65 L627.49,372.56 L629.31,374.54 L631.09,376.56 L632.82,378.63 L634.52,380.76 L636.16,382.94 L637.76,385.16 L639.31,387.43 L640.82,389.74 L642.27,392.09 L643.68,394.49 L645.03,396.93 L646.34,399.41 L641.37,402.41 L640.14,400.05 L638.87,397.74 L637.55,395.46 L636.17,393.22 L634.76,391.02 L633.3,388.86 L631.79,386.75 L630.24,384.68 L628.65,382.66 L627.01,380.69 L625.34,378.76 L623.63,376.89 L621.87,375.06Z" fill="#d7232a" stroke="#d7232a" stroke-width="0.3"/>
<path d="M621.87,375.06 L623.63,376.89 L625.34,378.76 L627.01,380.69 L628.65,382.66 L630.24,384.68 L631.79,386.75 L633.3,388.86 L634.76,391.02 L636.17,393.22 L637.55,395.46 L638.87,397.74 L640.14,400.05 L641.37,402.41 L636.92,405.1 L635.76,402.85 L634.56,400.64 L633.31,398.47 L632.01,396.33 L630.67,394.24 L629.29,392.18 L627.87,390.17 L626.41,388.19 L624.9,386.27 L623.36,384.39 L621.78,382.55 L620.16,380.76 L618.51,379.03Z" fill="#f5a56e" stroke="#f5a56e" stroke-width="0.3"/>
<path d="M646.34,399.41 L647.57,401.89 L648.75,404.41 L649.88,406.96 L650.96,409.54 L651.98,412.15 L652.95,414.79 L653.87,417.46 L654.73,420.15 L655.53,422.87 L656.28,425.61 L656.96,428.37 L657.6,431.15 L658.17,433.94 L658.69,436.76 L653,437.92 L652.52,435.24 L651.98,432.58 L651.38,429.94 L650.73,427.32 L650.03,424.71 L649.27,422.13 L648.47,419.57 L647.6,417.03 L646.69,414.52 L645.73,412.04 L644.71,409.58 L643.65,407.16 L642.53,404.77 L641.37,402.41Z" fill="#5a9a3a" stroke="#5a9a3a" stroke-width="0.3"/>
<path d="M641.37,402.41 L642.53,404.77 L643.65,407.16 L644.71,409.58 L645.73,412.04 L646.69,414.52 L647.6,417.03 L648.47,419.57 L649.27,422.13 L650.03,424.71 L650.73,427.32 L651.38,429.94 L651.98,432.58 L652.52,435.24 L653,437.92 L647.91,438.96 L647.45,436.41 L646.94,433.87 L646.38,431.35 L645.76,428.85 L645.1,426.37 L644.39,423.9 L643.62,421.46 L642.81,419.04 L641.95,416.65 L641.04,414.28 L640.08,411.94 L639.07,409.63 L638.02,407.35 L636.92,405.1Z" fill="#f5a870" stroke="#f5a870" stroke-width="0.3"/>
<path d="M658.69,436.76 L659.14,439.55 L659.54,442.36 L659.87,445.17 L660.15,448 L660.38,450.83 L660.54,453.67 L660.65,456.51 L660.7,459.35 L660.69,462.2 L660.62,465.04 L654.82,464.81 L654.89,462.1 L654.9,459.4 L654.85,456.7 L654.75,453.99 L654.6,451.3 L654.39,448.6 L654.12,445.92 L653.8,443.24 L653.43,440.57 L653,437.92Z" fill="#1b9a8c" stroke="#1b9a8c" stroke-width="0.3"/>
<path d="M653,437.92 L653.43,440.57 L653.8,443.24 L654.12,445.92 L654.39,448.6 L654.6,451.3 L654.75,453.99 L654.85,456.7 L654.9,459.4 L654.89,462.1 L654.82,464.81 L649.63,464.6 L649.69,462.02 L649.7,459.44 L649.65,456.86 L649.56,454.29 L649.41,451.71 L649.21,449.15 L648.97,446.59 L648.66,444.03 L648.31,441.49 L647.91,438.96Z" fill="#f6ad76" stroke="#f6ad76" stroke-width="0.3"/>
<path d="M660.62,465.04 L660.5,467.84 L660.32,470.63 L660.08,473.42 L659.79,476.2 L659.44,478.97 L659.04,481.73 L658.58,484.48 L658.06,487.21 L657.49,489.93 L656.87,492.63 L656.19,495.32 L650.65,493.59 L651.29,491.04 L651.88,488.47 L652.42,485.88 L652.9,483.28 L653.33,480.67 L653.71,478.05 L654.04,475.41 L654.32,472.77 L654.54,470.12 L654.71,467.47 L654.82,464.81Z" fill="#4b6cb0" stroke="#4b6cb0" stroke-width="0.3"/>
<path d="M654.82,464.81 L654.71,467.47 L654.54,470.12 L654.32,472.77 L654.04,475.41 L653.71,478.05 L653.33,480.67 L652.9,483.28 L652.42,485.88 L651.88,488.47 L651.29,491.04 L650.65,493.59 L645.69,492.04 L646.29,489.61 L646.85,487.16 L647.35,484.7 L647.81,482.22 L648.22,479.73 L648.58,477.22 L648.89,474.71 L649.15,472.19 L649.36,469.66 L649.52,467.13 L649.63,464.6Z" fill="#f6b07a" stroke="#f6b07a" stroke-width="0.3"/>
<path d="M656.19,495.32 L655.41,498.13 L654.58,500.93 L653.68,503.69 L652.73,506.43 L651.72,509.15 L650.65,511.83 L649.52,514.47 L648.34,517.09 L647.1,519.66 L645.81,522.2 L644.47,524.7 L643.07,527.16 L638.3,523.87 L639.61,521.53 L640.88,519.15 L642.1,516.74 L643.26,514.29 L644.37,511.8 L645.43,509.29 L646.44,506.74 L647.39,504.16 L648.29,501.56 L649.13,498.92 L649.92,496.27 L650.65,493.59Z" fill="#d88aa2" stroke="#d88aa2" stroke-width="0.3"/>
<path d="M650.65,493.59 L649.92,496.27 L649.13,498.92 L648.29,501.56 L647.39,504.16 L646.44,506.74 L645.43,509.29 L644.37,511.8 L643.26,514.29 L642.1,516.74 L640.88,519.15 L639.61,521.53 L638.3,523.87 L634.02,520.91 L635.26,518.68 L636.46,516.42 L637.61,514.11 L638.71,511.78 L639.76,509.41 L640.76,507.01 L641.71,504.58 L642.61,502.12 L643.46,499.64 L644.25,497.13 L645,494.6 L645.69,492.04Z" fill="#f7b580" stroke="#f7b580" stroke-width="0.3"/>
<path d="M643.07,527.16 L641.58,529.65 L640.03,532.09 L638.43,534.48 L636.78,536.82 L635.08,539.11 L633.33,541.34 L631.53,543.53 L627.43,539.43 L629.12,537.35 L630.77,535.22 L632.37,533.05 L633.93,530.82 L635.43,528.55 L636.89,526.23 L638.3,523.87Z" fill="#e4676b" stroke="#e4676b" stroke-width="0.3"/>
<path d="M638.3,523.87 L636.89,526.23 L635.43,528.55 L633.93,530.82 L632.37,533.05 L630.77,535.22 L629.12,537.35 L627.43,539.43 L623.75,535.75 L625.35,533.77 L626.91,531.74 L628.42,529.67 L629.89,527.54 L631.31,525.38 L632.69,523.17 L634.02,520.91Z" fill="#f8c090" stroke="#f8c090" stroke-width="0.3"/>
<path d="M631.53,543.53 L629.81,545.51 L628.04,547.45 L626.24,549.34 L624.4,551.17 L622.53,552.95 L620.61,554.68 L618.67,556.35 L616.68,557.97 L614.67,559.52 L612.63,561.03 L609.63,556.06 L611.55,554.64 L613.45,553.15 L615.31,551.62 L617.15,550.03 L618.95,548.39 L620.72,546.69 L622.45,544.95 L624.14,543.16 L625.8,541.31 L627.43,539.43Z" fill="#b0264e" stroke="#b0264e" stroke-width="0.3"/>
<path d="M627.43,539.43 L625.8,541.31 L624.14,543.16 L622.45,544.95 L620.72,546.69 L618.95,548.39 L617.15,550.03 L615.31,551.62 L613.45,553.15 L611.55,554.64 L609.63,556.06 L606.94,551.61 L608.75,550.25 L610.55,548.84 L612.31,547.37 L614.04,545.86 L615.74,544.29 L617.41,542.68 L619.05,541.02 L620.65,539.31 L622.22,537.55 L623.75,535.75Z" fill="#f9d3a8" stroke="#f9d3a8" stroke-width="0.3"/>
<path d="M612.63,561.03 L610.43,562.55 L608.19,564.01 L605.93,565.41 L603.63,566.73 L601.31,567.98 L598.96,569.16 L596.59,570.27 L594.19,571.31 L591.77,572.28 L589.34,573.17 L586.88,573.99 L585.38,568.39 L587.69,567.61 L589.99,566.76 L592.27,565.84 L594.52,564.86 L596.76,563.8 L598.97,562.68 L601.16,561.48 L603.32,560.23 L605.45,558.9 L607.55,557.51 L609.63,556.06Z" fill="#a6d9c6" stroke="#a6d9c6" stroke-width="0.3"/>
<path d="M609.63,556.06 L607.55,557.51 L605.45,558.9 L603.32,560.23 L601.16,561.48 L598.97,562.68 L596.76,563.8 L594.52,564.86 L592.27,565.84 L589.99,566.76 L587.69,567.61 L585.38,568.39 L584.03,563.36 L586.22,562.62 L588.39,561.81 L590.54,560.94 L592.67,560 L594.78,558.99 L596.87,557.92 L598.94,556.78 L600.98,555.58 L602.99,554.32 L604.98,553 L606.94,551.61Z" fill="#fbe8cc" stroke="#fbe8cc" stroke-width="0.3"/>
<path d="M586.88,573.99 L584.58,574.68 L582.27,575.31 L579.95,575.87 L577.62,576.37 L575.27,576.8 L572.92,577.17 L570.57,577.47 L568.21,577.7 L565.84,577.87 L563.47,577.97 L561.1,578 L561.1,572.2 L563.33,572.17 L565.56,572.07 L567.79,571.91 L570.02,571.69 L572.24,571.41 L574.45,571.06 L576.65,570.65 L578.85,570.18 L581.04,569.64 L583.21,569.05 L585.38,568.39Z" fill="#b6e0ec" stroke="#b6e0ec" stroke-width="0.3"/>
<path d="M585.38,568.39 L583.21,569.05 L581.04,569.64 L578.85,570.18 L576.65,570.65 L574.45,571.06 L572.24,571.41 L570.02,571.69 L567.79,571.91 L565.56,572.07 L563.33,572.17 L561.1,572.2 L561.1,567 L563.21,566.97 L565.32,566.88 L567.42,566.73 L569.52,566.52 L571.62,566.25 L573.71,565.91 L575.79,565.52 L577.87,565.07 L579.93,564.56 L581.99,563.99 L584.03,563.36Z" fill="#fdf2da" stroke="#fdf2da" stroke-width="0.3"/>
<text transform="translate(557.37,340.18) scale(0.75,1) rotate(87.91)" font-family='"Liberation Serif", serif' font-size="8.3" text-anchor="end" dy="3" fill="#333">TP53</text>
<text transform="translate(549.93,340.82) scale(0.75,1) rotate(83.72)" font-family='"Liberation Serif", serif' font-size="8.3" text-anchor="end" dy="3" fill="#333">CASP3</text>
<text transform="translate(542.55,342.1) scale(0.75,1) rotate(79.53)" font-family='"Liberation Serif", serif' font-size="8.3" text-anchor="end" dy="3" fill="#333">BAX</text>
<text transform="translate(535.28,344.01) scale(0.75,1) rotate(75.35)" font-family='"Liberation Serif", serif' font-size="8.3" text-anchor="end" dy="3" fill="#333">CDKN1A</text>
<text transform="translate(528.13,346.54) scale(0.75,1) rotate(71.16)" font-family='"Liberation Serif", serif' font-size="8.3" text-anchor="end" dy="3" fill="#333">CDK4</text>
<text transform="translate(521.17,349.67) scale(0.75,1) rotate(66.98)" font-family='"Liberation Serif", serif' font-size="8.3" text-anchor="end" dy="3" fill="#333">CCND1</text>
<text transform="translate(514.42,353.4) scale(0.75,1) rotate(62.79)" font-family='"Liberation Serif", serif' font-size="8.3" text-anchor="end" dy="3" fill="#333">AKT1</text>
<text transform="translate(507.91,357.7) scale(0.75,1) rotate(58.6)" font-family='"Liberation Serif", serif' font-size="8.3" text-anchor="end" dy="3" fill="#333">CASP8</text>
<text transform="translate(501.69,362.54) scale(0.75,1) rotate(54.42)" font-family='"Liberation Serif", serif' font-size="8.3" text-anchor="end" dy="3" fill="#333">CASP9</text>
<text transform="translate(495.79,367.91) scale(0.75,1) rotate(50.23)" font-family='"Liberation Serif", serif' font-size="8.3" text-anchor="end" dy="3" fill="#333">BCL2L1</text>
<text transform="translate(490.24,373.77) scale(0.75,1) rotate(46.05)" font-family='"Liberation Serif", serif' font-size="8.3" text-anchor="end" dy="3" fill="#333">BCL2</text>
<text transform="translate(485.06,380.09) scale(0.75,1) rotate(41.86)" font-family='"Liberation Serif", serif' font-size="8.3" text-anchor="end" dy="3" fill="#333">VEGFA</text>
<text transform="translate(480.29,386.84) scale(0.75,1) rotate(37.67)" font-family='"Liberation Serif", serif' font-size="8.3" text-anchor="end" dy="3" fill="#333">RB1</text>
<text transform="translate(475.95,393.98) scale(0.75,1) rotate(33.49)" font-family='"Liberation Serif", serif' font-size="8.3" text-anchor="end" dy="3" fill="#333">MAPK8</text>
<text transform="translate(472.06,401.47) scale(0.75,1) rotate(29.3)" font-family='"Liberation Serif", serif' font-size="8.3" text-anchor="end" dy="3" fill="#333">TNF</text>
<text transform="translate(468.65,409.28) scale(0.75,1) rotate(25.12)" font-family='"Liberation Serif", serif' font-size="8.3" text-anchor="end" dy="3" fill="#333">CXCL8</text>
<text transform="translate(465.74,417.36) scale(0.75,1) rotate(20.93)" font-family='"Liberation Serif", serif' font-size="8.3" text-anchor="end" dy="3" fill="#333">ERBB2</text>
<text transform="translate(463.33,425.67) scale(0.75,1) rotate(16.74)" font-family='"Liberation Serif", serif' font-size="8.3" text-anchor="end" dy="3" fill="#333">NFKBIA</text>
<text transform="translate(461.44,434.16) scale(0.75,1) rotate(12.56)" font-family='"Liberation Serif", serif' font-size="8.3" text-anchor="end" dy="3" fill="#333">EGFR</text>
<text transform="translate(460.09,442.8) scale(0.75,1) rotate(8.37)" font-family='"Liberation Serif", serif' font-size="8.3" text-anchor="end" dy="3" fill="#333">STAT1</text>
<text transform="translate(459.27,451.53) scale(0.75,1) rotate(4.19)" font-family='"Liberation Serif", serif' font-size="8.3" text-anchor="end" dy="3" fill="#333">CDK2</text>
<text transform="translate(459,460.3) scale(0.75,1) rotate(0)" font-family='"Liberation Serif", serif' font-size="8.3" text-anchor="end" dy="3" fill="#333">PTGS2</text>
<text transform="translate(459.27,469.07) scale(0.75,1) rotate(-4.19)" font-family='"Liberation Serif", serif' font-size="8.3" text-anchor="end" dy="3" fill="#333">TGFB1</text>
<text transform="translate(460.09,477.8) scale(0.75,1) rotate(-8.37)" font-family='"Liberation Serif", serif' font-size="8.3" text-anchor="end" dy="3" fill="#333">BIRC5</text>
<text transform="translate(461.44,486.44) scale(0.75,1) rotate(-12.56)" font-family='"Liberation Serif", serif' font-size="8.3" text-anchor="end" dy="3" fill="#333">MYC</text>
<text transform="translate(463.33,494.93) scale(0.75,1) rotate(-16.74)" font-family='"Liberation Serif", serif' font-size="8.3" text-anchor="end" dy="3" fill="#333">IL6</text>
<text transform="translate(465.74,503.24) scale(0.75,1) rotate(-20.93)" font-family='"Liberation Serif", serif' font-size="8.3" text-anchor="end" dy="3" fill="#333">MMP9</text>
<text transform="translate(468.65,511.32) scale(0.75,1) rotate(-25.12)" font-family='"Liberation Serif", serif' font-size="8.3" text-anchor="end" dy="3" fill="#333">MMP2</text>
<text transform="translate(472.06,519.13) scale(0.75,1) rotate(-29.3)" font-family='"Liberation Serif", serif' font-size="8.3" text-anchor="end" dy="3" fill="#333">STAT3</text>
<text transform="translate(475.95,526.62) scale(0.75,1) rotate(-33.49)" font-family='"Liberation Serif", serif' font-size="8.3" text-anchor="end" dy="3" fill="#333">MMP1</text>
<text transform="translate(480.29,533.76) scale(0.75,1) rotate(-37.67)" font-family='"Liberation Serif", serif' font-size="8.3" text-anchor="end" dy="3" fill="#333">CCL2</text>
<text transform="translate(485.06,540.51) scale(0.75,1) rotate(-41.86)" font-family='"Liberation Serif", serif' font-size="8.3" text-anchor="end" dy="3" fill="#333">IL1B</text>
<text transform="translate(490.24,546.83) scale(0.75,1) rotate(-46.05)" font-family='"Liberation Serif", serif' font-size="8.3" text-anchor="end" dy="3" fill="#333">GSTM1</text>
<text transform="translate(495.79,552.69) scale(0.75,1) rotate(-50.23)" font-family='"Liberation Serif", serif' font-size="8.3" text-anchor="end" dy="3" fill="#333">GSTP1</text>
<text transform="translate(501.69,558.06) scale(0.75,1) rotate(-54.42)" font-family='"Liberation Serif", serif' font-size="8.3" text-anchor="end" dy="3" fill="#333">SPP1</text>
<text transform="translate(507.91,562.9) scale(0.75,1) rotate(-58.6)" font-family='"Liberation Serif", serif' font-size="8.3" text-anchor="end" dy="3" fill="#333">IGFBP3</text>
<text transform="translate(514.42,567.2) scale(0.75,1) rotate(-62.79)" font-family='"Liberation Serif", serif' font-size="8.3" text-anchor="end" dy="3" fill="#333">TOP2A</text>
<text transform="translate(521.17,570.93) scale(0.75,1) rotate(-66.98)" font-family='"Liberation Serif", serif' font-size="8.3" text-anchor="end" dy="3" fill="#333">NFE2L2</text>
<text transform="translate(528.13,574.06) scale(0.75,1) rotate(-71.16)" font-family='"Liberation Serif", serif' font-size="8.3" text-anchor="end" dy="3" fill="#333">HIF1A</text>
<text transform="translate(535.28,576.59) scale(0.75,1) rotate(-75.35)" font-family='"Liberation Serif", serif' font-size="8.3" text-anchor="end" dy="3" fill="#333">ESR2</text>
<text transform="translate(542.55,578.5) scale(0.75,1) rotate(-79.53)" font-family='"Liberation Serif", serif' font-size="8.3" text-anchor="end" dy="3" fill="#333">AR</text>
<text transform="translate(549.93,579.78) scale(0.75,1) rotate(-83.72)" font-family='"Liberation Serif", serif' font-size="8.3" text-anchor="end" dy="3" fill="#333">PPARG</text>
<text transform="translate(557.37,580.42) scale(0.75,1) rotate(-87.91)" font-family='"Liberation Serif", serif' font-size="8.3" text-anchor="end" dy="3" fill="#333">ESR1</text>
<rect x="666" y="352" width="3.9" height="12" fill="#fdf3dc"/>
<rect x="669.7" y="352" width="3.9" height="12" fill="#fcecd0"/>
<rect x="673.4" y="352" width="3.9" height="12" fill="#fbe5c4"/>
<rect x="677.1" y="352" width="3.9" height="12" fill="#fadeb9"/>
<rect x="680.8" y="352" width="3.9" height="12" fill="#fad7ad"/>
<rect x="684.5" y="352" width="3.9" height="12" fill="#f9cfa1"/>
<rect x="688.2" y="352" width="3.9" height="12" fill="#f7c395"/>
<rect x="691.9" y="352" width="3.9" height="12" fill="#f6b789"/>
<rect x="695.6" y="352" width="3.9" height="12" fill="#f5ac7c"/>
<rect x="699.3" y="352" width="3.9" height="12" fill="#f4a070"/>
<rect x="703" y="352" width="3.9" height="12" fill="#f09265"/>
<rect x="706.7" y="352" width="3.9" height="12" fill="#eb835c"/>
<rect x="710.4" y="352" width="3.9" height="12" fill="#e57353"/>
<rect x="714.1" y="352" width="3.9" height="12" fill="#e0634a"/>
<rect x="717.8" y="352" width="3.9" height="12" fill="#da5440"/>
<rect x="721.5" y="352" width="3.9" height="12" fill="#d1483a"/>
<rect x="725.2" y="352" width="3.9" height="12" fill="#c63d34"/>
<rect x="728.9" y="352" width="3.9" height="12" fill="#bb322f"/>
<rect x="732.6" y="352" width="3.9" height="12" fill="#b02729"/>
<rect x="736.3" y="352" width="3.9" height="12" fill="#a51c24"/>
<line x1="666" y1="365.6" x2="740" y2="365.6" stroke="#333" stroke-width="0.6"/>
<line x1="666" y1="363.5" x2="666" y2="367" stroke="#333" stroke-width="0.6"/>
<line x1="681.4" y1="363.5" x2="681.4" y2="367" stroke="#333" stroke-width="0.6"/>
<line x1="697.4" y1="363.5" x2="697.4" y2="367" stroke="#333" stroke-width="0.6"/>
<line x1="713.4" y1="363.5" x2="713.4" y2="367" stroke="#333" stroke-width="0.6"/>
<line x1="729.4" y1="363.5" x2="729.4" y2="367" stroke="#333" stroke-width="0.6"/>
<line x1="740" y1="363.5" x2="740" y2="367" stroke="#333" stroke-width="0.6"/>
<text x="681.4" y="376" font-family='"Liberation Serif", serif' font-size="6.8" text-anchor="middle" fill="#333">15</text>
<text x="697.4" y="376" font-family='"Liberation Serif", serif' font-size="6.8" text-anchor="middle" fill="#333">20</text>
<text x="713.4" y="376" font-family='"Liberation Serif", serif' font-size="6.8" text-anchor="middle" fill="#333">25</text>
<text x="729.4" y="376" font-family='"Liberation Serif", serif' font-size="6.8" text-anchor="middle" fill="#333">30</text>
<text x="703" y="350" font-family='"Liberation Serif", serif' font-size="6.3" text-anchor="middle" fill="#333">-log10(pvalue)</text>
<text x="666" y="390" font-family='"Liberation Serif", serif' font-size="6.3" fill="#333">KEGG Pathways</text>
<circle cx="669.2" cy="395" r="3.2" fill="#1d4f96"/>
<text x="673.6" y="397.7" font-family='"Liberation Serif", serif' font-size="6.3" fill="#333">Pathways in cancer</text>
<circle cx="669.2" cy="403.1" r="3.2" fill="#d7232a"/>
<text x="673.6" y="405.8" font-family='"Liberation Serif", serif' font-size="6.3" fill="#333">Pancreatic cancer</text>
<circle cx="669.2" cy="411.2" r="3.2" fill="#5a9a3a"/>
<text x="673.6" y="413.9" font-family='"Liberation Serif", serif' font-size="6.3" fill="#333">AGE-RAGE signaling pathway in diabetic complications</text>
<circle cx="669.2" cy="419.3" r="3.2" fill="#1b9a8c"/>
<text x="673.6" y="422" font-family='"Liberation Serif", serif' font-size="6.3" fill="#333">Bladder cancer</text>
<circle cx="669.2" cy="427.4" r="3.2" fill="#4b6cb0"/>
<text x="673.6" y="430.1" font-family='"Liberation Serif", serif' font-size="6.3" fill="#333">Small cell lung cancer</text>
<circle cx="669.2" cy="435.5" r="3.2" fill="#d88aa2"/>
<text x="673.6" y="438.2" font-family='"Liberation Serif", serif' font-size="6.3" fill="#333">Platinum drug resistance</text>
<circle cx="669.2" cy="443.6" r="3.2" fill="#e4676b"/>
<text x="673.6" y="446.3" font-family='"Liberation Serif", serif' font-size="6.3" fill="#333">p53 signaling pathway</text>
<circle cx="669.2" cy="451.7" r="3.2" fill="#b0264e"/>
<text x="673.6" y="454.4" font-family='"Liberation Serif", serif' font-size="6.3" fill="#333">IL-17 signaling pathway</text>
<circle cx="669.2" cy="459.8" r="3.2" fill="#a6d9c6"/>
<text x="673.6" y="462.5" font-family='"Liberation Serif", serif' font-size="6.3" fill="#333">Apoptosis</text>
<circle cx="669.2" cy="467.9" r="3.2" fill="#b6e0ec"/>
<text x="673.6" y="470.6" font-family='"Liberation Serif", serif' font-size="6.3" fill="#333">Human papillomavirus infection</text>
<defs><radialGradient id="sph" cx="0.38" cy="0.32" r="0.7"><stop offset="0" stop-color="#fff" stop-opacity="0.85"/><stop offset="0.35" stop-color="#fff" stop-opacity="0.15"/><stop offset="0.8" stop-color="#000" stop-opacity="0"/><stop offset="1" stop-color="#000" stop-opacity="0.35"/></radialGradient></defs>
<path d="M175.9 694.1L197.4 761.7M283.6 708.4L263.8 760.3M284.0 708.6L169.0 851.8M264.5 760.8L208.6 807.8M125.5 768.4L51.2 802.4M229.0 773.8L167.9 827.6M330.5 768.2L220.1 842.0M51.0 801.6L92.2 800.6M132.4 863.8L143.4 886.8" stroke="#d86a78" stroke-width="1.05" stroke-opacity="0.85" fill="none"/>
<path d="M174.1 694.3L142.1 886.9M196.5 762.0L167.9 827.6M229.8 773.5L273.7 887.9M178.6 791.7L230.6 884.4M92.3 799.7L208.4 806.2" stroke="#60bce0" stroke-width="1.05" stroke-opacity="0.85" fill="none"/>
<path d="M175.6 695.6L90.0 734.2M234.0 700.0L309.0 738.4M88.1 733.4L141.7 887.4M167.9 827.6L41.3 839.7M87.0 837.9L77.8 912.3M220.1 842.0L314.3 862.7M142.3 886.4L119.3 912.4" stroke="#a060b4" stroke-width="1.05" stroke-opacity="0.85" fill="none"/>
<path d="M215.3 671.0L142.1 681.2M214.9 670.3L169.7 720.0M214.8 670.5L196.1 761.9M214.8 670.7L262.3 825.1M176.2 693.8L197.2 733.8M233.3 699.7L247.9 799.1M283.3 707.4L195.8 760.8M169.9 719.9L89.3 732.6M169.5 721.5L263.7 761.7M169.0 721.3L247.8 800.0M196.0 734.4L138.0 797.7M195.6 734.3L167.5 827.5M238.1 731.4L80.3 772.8M89.3 733.4L126.9 741.4M89.6 732.6L310.0 816.6M89.4 733.0L120.0 913.0M127.0 741.9L309.2 738.9M126.6 741.0L142.6 887.0M309.2 738.0L248.8 799.0M195.7 762.5L272.1 888.7M196.9 761.9L249.1 925.8M124.9 767.9L94.3 871.1M126.2 767.9L143.9 886.9M125.7 767.9L174.4 909.9M157.8 770.9L80.2 772.8M156.7 769.7L136.9 796.9M157.5 771.4L309.5 817.9M157.8 770.5L169.0 851.8M159.1 770.7L144.3 887.2M79.5 773.5L167.2 828.7M179.9 791.3L215.1 913.6M287.6 786.3L208.5 808.4M138.2 797.3L314.5 862.3M137.8 798.1L314.1 863.1M249.7 799.2L231.9 884.4M207.9 806.7L167.5 826.8M167.9 827.6L314.3 862.7M167.6 827.3L77.9 912.1M130.6 832.7L95.0 871.5M263.2 826.3L220.6 843.3M169.0 851.4L270.2 853.4M169.0 852.2L270.2 854.2M168.7 850.5L94.4 869.9M169.4 851.0L231.4 883.4M168.7 852.6L272.6 889.0M220.3 841.1L314.5 861.8M53.4 874.8L173.9 910.4" stroke="#ccd444" stroke-width="1.05" stroke-opacity="0.85" fill="none"/>
<path d="M214.8 670.7L248.4 799.1M143.1 681.5L42.4 840.4M142.9 680.7L169.9 851.7M140.9 681.5L271.8 888.9M175.9 694.4L169.9 851.8M238.0 731.0L167.9 827.6M89.4 733.0L94.7 871.2M196.5 762.0L248.8 799.0M264.7 761.3L95.2 872.0M125.4 767.1L287.5 784.5M125.1 767.6L50.8 801.6M40.9 839.9L77.8 912.6M169.0 851.8L174.0 910.0" stroke="#48a448" stroke-width="1.05" stroke-opacity="0.85" fill="none"/>
<path d="M216.0 670.1L288.2 784.9M127.6 739.8L249.4 797.8M309.5 738.3L189.3 875.6M264.2 760.9L125.3 768.4M157.8 770.9L229.0 774.2M156.5 770.3L141.7 886.8M80.8 771.7L189.6 874.6M180.3 791.9L169.2 828.0M287.4 785.4L262.7 825.0M138.2 797.3L270.4 853.4M136.8 797.1L77.0 911.8M167.9 827.6L132.0 864.0M262.4 824.6L188.7 874.9M87.4 838.0L94.7 871.2M270.1 852.9L94.6 870.3M271.8 887.5L247.6 925.2" stroke="#3e3a20" stroke-width="1.05" stroke-opacity="0.85" fill="none"/>
<path d="M215.2 671.0L264.7 675.4M237.8 730.6L41.1 839.3M89.4 733.0L248.7 925.9M196.5 762.0L231.0 884.2M330.8 768.5L263.0 825.3M262.7 825.0L143.0 887.0" stroke="#60bce0" stroke-width="1.05" stroke-opacity="0.85" fill="none"/>
<path d="M216.0 671.0L158.6 770.9M239.0 730.1L288.4 784.5M88.8 733.6L124.7 768.6M90.1 731.9L179.7 790.4M127.9 741.0L132.9 864.0M264.2 760.9L157.8 770.9M264.0 760.1L53.3 874.0M125.0 768.4L219.8 842.4M229.0 773.8L287.4 785.4M41.3 839.7L189.0 875.3M169.1 852.2L132.1 864.4" stroke="#a060b4" stroke-width="1.05" stroke-opacity="0.85" fill="none"/>
<path d="M214.7 671.3L308.7 738.7M141.6 680.8L131.6 864.0M175.4 694.1L263.1 824.7M283.5 707.3L124.8 766.7M195.1 734.3L173.1 909.9M238.0 731.0L125.3 768.0M309.2 738.0L272.9 888.2M265.5 761.0L250.1 799.5M125.7 767.8L138.4 797.5M229.9 773.9L221.0 842.1M179.0 791.9L92.2 801.4M143.3 886.6L174.3 909.6" stroke="#d86a78" stroke-width="1.05" stroke-opacity="0.85" fill="none"/>
<path d="M215.1 670.2L141.9 680.4M215.2 670.6L157.8 770.5M142.0 680.8L229.0 773.8M175.0 694.4L264.2 760.5M175.0 694.4L189.0 875.3M195.8 734.8L264.0 760.9M197.3 734.1L232.3 883.9M237.7 730.6L196.2 761.6M89.8 733.0L92.6 801.0M89.4 733.0L208.3 807.5M89.8 733.0L87.8 838.0M89.0 733.0L87.0 838.0M88.4 733.9L230.0 885.1M126.7 741.9L196.2 762.9M196.5 762.0L220.1 842.0M264.4 760.9L179.2 791.9M124.9 768.3L167.5 827.9M157.8 770.1L229.0 773.4M330.0 767.5L219.6 841.3M179.0 791.9L287.4 785.8M287.2 784.5L208.1 806.6M287.6 786.3L87.6 838.9M137.2 798.1L168.2 852.2M248.8 799.0L220.1 842.0M248.6 798.6L94.5 870.8M92.4 800.6L169.2 851.4M208.0 807.1L131.7 863.6M87.6 837.6L132.2 863.6M86.7 839.2L131.3 865.2M169.1 852.2L94.8 871.6M168.6 850.5L131.6 862.7M169.0 851.8L189.0 875.3M219.5 842.7L272.3 888.9M270.2 853.8L143.0 887.0M269.9 852.5L188.7 874.0" stroke="#ccd444" stroke-width="1.05" stroke-opacity="0.85" fill="none"/>
<path d="M238.0 731.0L264.2 760.5M89.7 732.7L168.2 827.3M93.0 800.5L132.8 863.5M208.0 808.4L262.4 825.9M207.6 806.9L119.3 912.4M130.3 832.4L220.1 842.0M94.3 871.0L77.8 912.2" stroke="#48a448" stroke-width="1.05" stroke-opacity="0.85" fill="none"/>
<path d="M283.8 708.2L196.3 761.6M237.8 730.6L137.8 797.3M248.8 799.0L208.3 807.5M262.9 825.4L220.3 842.4M87.4 838.4L270.2 854.2M169.3 851.0L273.2 887.4" stroke="#3e3a20" stroke-width="1.05" stroke-opacity="0.85" fill="none"/>
<path d="M174.6 694.6L195.6 734.6M175.4 694.1L229.4 773.5M233.8 699.6L228.6 773.8M197.3 734.8L180.3 791.9M194.9 733.6L93.6 870.4M238.3 731.4L196.8 762.4M238.0 731.0L229.0 773.8M239.3 731.2L221.4 842.2M238.4 731.1L220.5 842.1M89.3 733.4L228.9 774.2M89.5 732.1L330.6 767.3M127.0 741.0L167.9 827.6M196.4 760.7L125.2 766.7M196.5 762.0L130.3 832.4M196.5 762.0L169.0 851.8M195.7 761.6L142.2 886.6M264.0 760.1L178.8 791.1M125.5 767.6L179.2 791.1M126.2 768.0L120.9 913.0M157.8 770.5L309.8 817.0M158.2 770.6L132.4 864.1M229.7 775.0L131.0 833.6M229.0 773.8L87.4 838.0M227.7 773.8L229.7 884.2M80.4 771.5L208.5 806.6M80.2 772.4L87.4 838.0M80.2 772.4L53.5 874.4M178.4 790.8L129.7 831.7M179.4 791.3L231.4 884.0M287.4 785.4L87.4 838.0M287.2 784.5L87.2 837.1M248.8 799.0L262.7 825.0M250.1 798.5L271.5 853.3M167.9 827.6L214.2 913.8M130.3 832.4L169.0 851.8M130.7 832.3L143.4 886.9M168.9 851.4L94.6 870.8M131.3 865.2L213.5 915.0M188.8 874.9L119.8 912.6" stroke="#ccd444" stroke-width="1.05" stroke-opacity="0.85" fill="none"/>
<path d="M265.5 674.6L284.8 708.2M284.5 709.9L125.8 769.3M170.5 719.6L310.3 816.3M170.4 720.2L189.4 875.2M238.4 730.9L263.1 824.9M196.5 761.6L264.2 760.1M263.7 759.7L94.2 870.4M178.9 790.6L137.9 796.8M138.0 797.7L92.2 801.0M207.9 808.3L313.9 863.5M167.9 826.3L262.7 823.7M167.6 826.8L53.2 873.6" stroke="#60bce0" stroke-width="1.05" stroke-opacity="0.85" fill="none"/>
<path d="M265.1 675.2L169.4 852.0M124.0 768.4L172.7 910.4M158.2 769.7L263.1 824.2M229.0 773.8L132.0 864.0M92.2 801.0L132.0 864.0M130.3 832.4L132.0 864.0M262.7 825.4L41.3 840.1M270.3 854.2L189.1 875.7M143.0 887.0L78.2 912.4" stroke="#48a448" stroke-width="1.05" stroke-opacity="0.85" fill="none"/>
<path d="M264.9 675.4L170.2 720.7M265.3 675.7L54.1 875.1M233.0 698.9L195.3 761.3M238.7 731.5L168.6 828.1M90.1 732.5L189.7 874.8M127.0 741.0L157.8 770.5M230.3 773.8L232.3 884.2M81.1 771.4L169.9 850.8M248.1 798.5L219.4 841.5M248.4 799.2L269.8 854.0M91.6 802.2L272.3 889.4M207.9 807.6L230.6 884.3M209.4 806.7L274.0 887.4M132.2 863.6L214.4 913.4M189.8 874.8L215.0 913.3" stroke="#a060b4" stroke-width="1.05" stroke-opacity="0.85" fill="none"/>
<path d="M142.4 680.8L132.4 864.0M143.1 680.1L274.0 887.5M169.1 720.3L167.0 827.6M169.6 720.1L129.9 832.2M125.1 768.4L208.1 807.9M156.5 770.7L166.6 827.8M229.0 773.8L208.3 807.5M80.2 772.4L248.7 925.9M92.1 801.4L220.0 842.4M92.2 801.0L78.2 912.4M167.9 828.9L262.7 826.3" stroke="#d86a78" stroke-width="1.05" stroke-opacity="0.85" fill="none"/>
<path d="M215.5 670.9L170.3 720.6M214.8 670.5L167.5 827.5M173.9 695.2L261.6 825.8M233.8 699.6L213.8 913.8M237.4 729.8L157.2 769.3M237.6 730.8L207.9 807.3M126.6 740.8L91.8 800.8M125.3 768.0L229.0 773.8M125.0 767.7L91.9 800.7M126.1 767.5L215.0 913.3M158.2 770.4L168.3 827.5M158.1 770.8L87.7 838.3M330.2 767.9L262.4 824.7M262.4 824.7L173.7 909.7M88.1 836.8L132.7 862.8M314.2 862.3L230.9 883.8" stroke="#3e3a20" stroke-width="1.05" stroke-opacity="0.85" fill="none"/>
<path d="M127.3 740.7L179.3 791.2M309.4 739.3L125.5 769.3M196.8 762.4L87.7 838.4M196.5 762.0L214.2 913.8M264.4 760.9L87.6 838.4M124.5 768.5L213.4 914.3M229.2 772.9L287.6 784.5M92.9 799.9L169.7 850.7M169.3 853.1L95.0 872.5M52.4 875.1L77.1 913.1" stroke="#60bce0" stroke-width="1.05" stroke-opacity="0.85" fill="none"/>
<path d="M142.2 680.4L238.2 730.6M174.5 695.2L237.5 731.8M233.8 699.4L196.1 761.8M90.4 732.1L168.9 826.7M197.3 762.5L179.8 792.0M263.7 759.3L86.9 836.8M263.8 760.5L269.8 853.8M229.8 773.3L263.5 824.5M137.7 797.3L87.1 837.6M138.0 797.7L94.7 871.2M91.5 802.1L168.3 852.9M130.4 832.8L87.5 838.4M86.8 838.7L173.4 910.7M231.4 885.0L174.4 910.8" stroke="#a060b4" stroke-width="1.05" stroke-opacity="0.85" fill="none"/>
<path d="M264.7 675.0L92.2 801.0M142.0 680.8L127.0 741.0M175.9 694.4L168.8 827.6M88.7 733.5L188.3 875.8M309.6 738.2L287.8 785.6M264.1 760.1L92.1 800.6M263.8 760.5L262.3 825.0M264.5 760.8L143.3 887.3M125.3 768.0L157.8 770.5M138.3 798.0L53.8 874.7M92.3 800.6L220.2 841.6M208.7 806.7L314.7 861.9M168.0 828.5L41.4 840.6M168.1 826.7L314.5 861.8M168.4 828.4L95.2 872.0M88.0 837.3L174.6 909.3" stroke="#3e3a20" stroke-width="1.05" stroke-opacity="0.85" fill="none"/>
<path d="M140.7 681.1L187.7 875.6M233.7 698.3L126.5 739.7M168.7 720.6L212.9 914.1M238.0 731.4L89.4 733.4M238.3 732.3L80.5 773.7M90.0 732.3L273.5 887.5M125.2 768.9L287.3 786.3M125.6 768.3L92.5 801.3M229.4 773.6L270.6 853.6M229.0 773.8L272.9 888.2M51.0 802.0L262.7 825.0M92.2 801.0L167.9 827.6M168.2 827.9L78.5 912.7M130.0 832.1L94.4 870.9" stroke="#48a448" stroke-width="1.05" stroke-opacity="0.85" fill="none"/>
<path d="M216.5 670.9L197.8 762.3M215.6 670.7L196.9 762.1M142.3 681.1L89.7 733.3M142.9 681.0L127.9 741.2M142.0 680.8L51.0 802.0M173.9 693.6L124.2 767.2M170.0 720.3L125.3 768.0M195.9 733.1L126.9 739.7M196.2 734.0L264.4 760.1M195.4 733.7L157.2 769.8M195.6 734.5L230.6 884.3M238.2 731.4L41.5 840.1M89.8 733.2L51.4 802.2M89.0 732.8L50.6 801.8M88.8 733.7L272.3 888.9M126.8 741.4L248.6 799.4M263.3 759.5L207.4 806.5M264.5 760.9L168.2 828.0M125.4 767.1L229.1 772.9M158.7 770.4L169.9 851.7M158.8 769.6L221.1 841.1M157.4 770.4L142.6 886.9M228.4 773.1L167.3 826.9M228.6 773.5L168.6 851.5M80.6 772.4L78.6 912.4M179.0 791.5L143.0 887.0M177.7 791.7L187.7 875.5M138.9 798.7L54.4 875.4M248.8 799.0L130.3 832.4M208.6 806.6L263.0 824.1M209.3 808.4L170.0 852.7M262.2 825.7L313.8 863.4M262.3 823.7L94.3 869.9M169.4 852.1L143.4 887.3M220.2 841.6L270.3 853.4M219.9 841.1L94.5 870.3M220.5 842.8L78.6 913.2M218.8 842.4L247.4 926.3M270.6 853.9L249.1 926.0M314.9 863.3L249.3 926.5M94.6 870.8L131.9 863.6" stroke="#ccd444" stroke-width="1.05" stroke-opacity="0.85" fill="none"/>
<path d="M214.4 670.2L157.0 770.1M124.4 768.1L131.1 864.1M158.1 769.6L310.1 816.1M179.0 791.5L309.8 817.0M208.3 807.5L309.8 817.0M168.0 828.0L130.4 832.8M130.1 832.8L295.6 913.6" stroke="#d86a78" stroke-width="1.05" stroke-opacity="0.85" fill="none"/>
<path d="M237.3 730.5L167.2 827.1M127.0 741.0L80.2 772.4M127.0 741.0L138.0 797.7M127.6 740.3L208.9 806.8M127.0 741.0L132.0 864.0M309.4 738.4L264.4 760.9M309.2 738.0L51.0 802.0M125.2 768.4L309.7 817.4M288.3 786.4L189.9 876.3M287.1 785.1L188.7 875.0M250.1 798.6L274.2 887.8M91.9 801.3L130.0 832.7M208.0 806.6L130.0 831.5M168.0 828.5L87.5 838.9M262.8 825.4L132.1 864.4M87.7 837.7L143.3 886.7M230.6 885.0L295.4 914.0" stroke="#a060b4" stroke-width="1.05" stroke-opacity="0.85" fill="none"/>
<path d="M215.6 670.5L263.1 824.9M141.8 681.2L237.8 731.4M142.0 680.8L169.0 851.8M175.0 694.4L196.5 762.0M234.0 699.2L126.8 740.6M233.3 699.5L219.2 841.9M170.4 720.5L138.4 797.9M169.2 719.9L93.9 870.8M196.4 734.5L169.4 851.9M196.0 734.4L189.0 875.3M237.8 731.4L330.3 768.6M239.3 730.7L264.0 824.7M89.8 732.7L138.4 797.4M89.8 732.8L130.7 832.2M127.3 740.1L196.8 761.1M126.4 741.7L207.7 808.2M265.1 761.5L209.2 808.5M124.9 768.2L137.6 797.9M124.1 768.5L136.8 798.2M125.6 767.6L220.4 841.6M157.8 770.1L80.2 772.0M159.1 770.3L169.2 827.4M156.8 771.4L219.1 842.9M158.9 769.8L232.1 883.5M178.8 791.9L208.1 807.9M179.0 791.5L87.4 838.0M179.0 791.5L214.2 913.8M286.5 784.4L188.1 874.3M137.7 798.0L167.6 827.9M248.3 797.7L53.0 873.1M249.0 799.4L94.9 871.6M92.2 801.0L189.0 875.3M208.3 807.5L130.3 832.4M168.7 827.2L189.8 874.9M221.1 842.9L190.0 876.2M269.6 853.1L230.4 883.5M271.1 853.7L273.8 888.1M143.0 887.0L120.0 913.0M230.9 885.1L272.8 889.1M78.2 911.1L174.0 908.7" stroke="#ccd444" stroke-width="1.05" stroke-opacity="0.85" fill="none"/>
<path d="M175.0 694.4L167.9 827.6M233.6 698.9L157.2 769.8M89.5 732.6L229.1 773.4M124.2 768.8L166.8 828.4M157.8 770.5L208.3 807.5M228.1 773.7L219.2 841.9M287.4 785.4L143.0 887.0M262.7 824.6L41.3 839.3M189.0 875.3L214.2 913.8M231.0 884.2L248.7 925.9" stroke="#d86a78" stroke-width="1.05" stroke-opacity="0.85" fill="none"/>
<path d="M174.6 694.1L124.9 767.7M89.5 732.6L127.1 740.6M264.3 761.8L157.9 771.8M157.7 770.1L50.9 801.6M179.4 791.4L189.4 875.2M287.6 785.8L132.2 864.4M270.5 855.1L189.3 876.6" stroke="#60bce0" stroke-width="1.05" stroke-opacity="0.85" fill="none"/>
<path d="M215.2 670.6L229.0 773.8M142.7 680.2L229.7 773.2M175.8 693.4L288.2 784.4M170.0 720.3L208.3 807.5M170.3 720.0L263.0 824.7M169.6 720.6L269.8 854.1M238.0 731.0L248.8 799.0M125.7 740.9L118.7 912.9M264.2 760.1L125.3 767.6M264.4 760.9L229.2 774.2M264.3 760.9L92.3 801.4M125.2 768.9L228.9 774.7M229.2 774.2L179.2 791.9M228.2 774.3L261.9 825.5M229.4 773.6L296.2 913.0M287.4 785.4L309.8 817.0M91.7 801.7L188.5 876.0M208.7 808.3L168.3 828.4M167.8 826.7L87.3 837.1M167.1 828.0L188.2 875.7M129.9 832.5L142.6 887.1M314.4 863.1L231.1 884.6M95.5 870.7L120.8 912.5" stroke="#48a448" stroke-width="1.05" stroke-opacity="0.85" fill="none"/>
<path d="M232.9 699.9L268.9 854.1M169.0 721.2L261.7 825.9M90.0 732.4L125.9 767.4M89.0 733.0L91.8 801.0M127.0 741.0L229.0 773.8M127.3 740.7L273.2 887.9M158.2 770.8L138.4 798.0M138.4 797.7L143.4 887.0M167.9 827.6L220.1 842.0" stroke="#3e3a20" stroke-width="1.05" stroke-opacity="0.85" fill="none"/>
<path d="M216.1 670.5L229.9 773.7M196.2 734.8L125.5 768.4M197.3 734.0L250.0 925.5M238.6 732.2L158.4 771.7M237.7 729.7L79.9 771.1M309.1 737.6L125.2 767.6M196.7 762.9L158.0 771.4M157.4 771.3L262.3 825.8M80.2 772.4L270.2 853.8M92.2 801.0L143.0 887.0M263.1 825.2L231.4 884.4M94.7 871.2L120.0 913.0" stroke="#3e3a20" stroke-width="1.05" stroke-opacity="0.85" fill="none"/>
<path d="M169.7 720.6L262.4 825.3M196.5 762.4L125.3 768.4M125.7 767.7L168.3 827.3M80.3 772.0L179.1 791.1M287.0 785.3L269.8 853.7M208.2 808.4L309.7 817.9M208.5 807.9L53.7 874.8M231.0 884.2L174.0 910.0" stroke="#60bce0" stroke-width="1.05" stroke-opacity="0.85" fill="none"/>
<path d="M174.2 695.4L286.6 786.4M195.6 734.4L196.1 762.0M196.0 734.4L229.0 773.8M157.6 770.1L92.0 800.6M228.8 774.7L287.2 786.3M330.3 767.8L94.5 870.8M79.9 773.7L178.7 792.8M79.6 773.1L188.4 876.0M178.6 792.3L313.9 863.5M248.8 799.0L314.3 862.7M249.2 798.9L273.3 888.1M92.0 801.4L168.8 852.2M209.0 808.1L120.7 913.6M130.8 864.6L141.8 887.6M189.0 875.3L231.0 884.2" stroke="#a060b4" stroke-width="1.05" stroke-opacity="0.85" fill="none"/>
<path d="M264.7 675.0L127.0 741.0M174.9 695.7L234.1 700.9M175.4 694.7L125.7 768.3M232.9 699.5L227.7 773.7M234.2 699.6L167.9 827.6M127.8 740.7L169.8 851.5M128.3 741.1L121.3 913.1M179.0 791.5L248.7 925.9M50.7 802.8L168.7 852.6" stroke="#d86a78" stroke-width="1.05" stroke-opacity="0.85" fill="none"/>
<path d="M214.3 670.7L228.1 773.9M142.3 680.5L196.3 734.1M175.4 694.4L179.4 791.5M233.8 699.5L207.9 807.4M233.4 699.2L142.2 886.6M284.0 708.6L272.9 888.2M169.5 721.0L309.3 817.7M170.4 720.5L130.7 832.6M168.9 721.1L269.1 854.6M195.6 734.3L178.6 791.4M195.6 734.5L207.9 807.6M196.4 734.7L95.1 871.5M196.0 734.4L132.0 864.0M196.4 734.3L231.4 884.1M195.6 734.5L248.3 926.0M237.7 730.7L178.7 791.2M238.9 730.9L249.7 798.9M89.6 732.6L179.2 791.1M89.7 732.7L231.3 883.9M127.2 740.6L249.0 798.6M125.8 740.3L91.0 800.3M196.5 762.0L143.0 887.0M264.5 761.4L138.3 798.6M264.6 760.5L263.1 825.0M125.1 768.4L178.8 791.9M125.3 768.0L143.0 887.0M157.8 770.5L287.4 785.4M157.2 769.3L91.6 799.8M228.2 774.1L272.1 888.5M80.1 772.8L178.9 791.9M80.4 772.0L138.2 797.3M179.0 791.5L130.3 832.4M179.0 791.5L295.8 913.2M138.0 797.7L169.0 851.8M137.6 797.7L142.6 887.0M138.3 797.3L273.2 887.8M249.3 800.3L54.0 875.7M167.9 827.6L87.4 838.0M130.0 832.7L213.9 914.1M262.8 826.3L41.4 841.0M262.3 824.2L142.6 886.2M87.4 838.0L53.5 874.4M132.7 862.8L214.9 912.6M143.3 886.2L214.5 913.0" stroke="#ccd444" stroke-width="1.05" stroke-opacity="0.85" fill="none"/>
<path d="M143.3 680.5L190.3 875.0M174.6 694.2L77.8 912.2M263.9 759.6L137.7 796.8M81.1 772.3L95.6 871.1M288.0 786.1L220.7 842.7M231.4 883.4L296.2 912.4M78.2 912.0L174.0 909.6" stroke="#48a448" stroke-width="1.05" stroke-opacity="0.85" fill="none"/>
<path d="M169.8 719.0L89.2 731.7M126.7 741.3L178.7 791.8" stroke="#d86a78" stroke-width="1.05" stroke-opacity="0.85" fill="none"/>
<path d="M170.9 720.3L169.9 851.8M128.2 741.7L93.4 801.7M196.5 762.0L272.9 888.2M228.8 772.9L92.0 800.1M228.3 772.6L129.6 831.2M248.9 799.4L87.5 838.4M41.7 839.5L78.6 912.2" stroke="#60bce0" stroke-width="1.05" stroke-opacity="0.85" fill="none"/>
<path d="M265.3 675.7L158.4 771.2M264.1 674.3L157.2 769.8M265.6 675.0L263.6 825.0M263.8 675.0L261.8 825.0M142.0 680.8L125.3 768.0M142.4 681.0L41.7 839.9M175.3 694.7L127.3 741.3M284.0 708.6L309.2 738.0M284.2 709.0L196.7 762.4M284.9 708.7L273.8 888.3M283.1 708.5L272.0 888.1M169.8 720.7L264.0 760.9M170.0 720.3L169.0 851.8M170.8 720.7L95.5 871.6M195.8 734.0L50.8 801.6M196.4 734.5L168.3 827.7M196.4 734.3L249.1 925.8M238.2 731.4L92.4 801.4M127.0 741.0L309.2 738.0M125.8 740.5L86.2 837.5M125.8 741.6L187.8 875.9M127.0 741.0L231.0 884.2M309.0 737.6L264.0 760.1M309.5 738.4L78.5 912.8M196.5 762.4L264.2 760.9M195.7 761.5L178.2 791.0M264.6 760.7L249.2 799.2M262.9 760.0L247.5 798.5M264.8 761.2L132.6 864.7M124.5 768.4L168.2 852.2M228.9 773.4L137.9 797.3M179.0 791.1L287.4 785.0M178.2 791.2L142.2 886.7M138.0 797.7L248.8 799.0M139.3 797.9L121.3 913.2M249.2 800.3L168.3 828.9M247.5 799.4L271.6 888.6M248.4 798.7L173.6 909.7M51.0 802.0L87.4 838.0M92.5 800.7L130.6 832.1M91.4 801.5L131.2 864.5M208.6 807.8L169.3 852.1M167.0 826.6L77.3 911.4M262.8 825.4L169.1 852.2" stroke="#ccd444" stroke-width="1.05" stroke-opacity="0.85" fill="none"/>
<path d="M174.4 693.2L88.8 731.8M235.5 699.7L230.3 773.9M235.5 699.3L271.5 853.5M237.8 730.6L92.0 800.6M238.3 731.3L130.6 832.7M90.3 732.7L132.9 863.7M126.7 741.3L272.6 888.5M196.5 762.0L309.8 817.0M263.7 759.2L178.5 790.2M263.9 760.8L287.1 785.7M124.5 769.1L219.3 843.1M124.4 768.1L142.1 887.1M92.2 801.0L94.7 871.2M208.3 807.5L270.2 853.8M87.4 838.0L174.0 910.0" stroke="#3e3a20" stroke-width="1.05" stroke-opacity="0.85" fill="none"/>
<path d="M235.0 699.2L315.1 862.3M171.0 719.4L263.7 824.1M194.7 734.8L247.4 926.3M89.4 733.0L196.5 762.0M126.6 741.0L119.6 913.0M196.5 763.3L264.2 761.8M158.1 770.2L220.4 841.7M287.4 785.4L248.8 799.0M208.6 807.8L143.3 887.3M168.8 827.6L169.9 851.8M270.0 852.9L142.8 886.1M132.0 864.0L231.0 884.2M143.8 885.9L174.8 908.9" stroke="#a060b4" stroke-width="1.05" stroke-opacity="0.85" fill="none"/>
<path d="M174.1 694.7L195.6 762.3M89.8 733.0L78.6 912.4M80.5 772.1L169.3 851.5M179.4 792.8L41.7 841.0M137.5 798.9L269.7 855.0M249.2 799.3L174.4 910.3M208.3 807.5L220.1 842.0M209.3 808.4L144.0 887.9M208.7 807.4L231.4 884.1M220.5 841.9L231.4 884.1M219.7 842.1L248.3 926.0M269.3 853.9L272.0 888.3M230.6 883.4L173.6 909.2" stroke="#48a448" stroke-width="1.05" stroke-opacity="0.85" fill="none"/>
<path d="M283.7 708.3L228.7 773.5M178.8 791.9L262.5 825.4M92.3 800.6L270.3 853.4M92.4 800.6L273.1 887.8M131.6 864.2L142.6 887.2" stroke="#d86a78" stroke-width="1.05" stroke-opacity="0.85" fill="none"/>
<path d="M215.2 670.6L208.3 807.5M213.9 671.0L261.4 825.4M174.1 694.4L167.0 827.6M308.2 737.1L188.0 874.4M264.0 760.1L87.2 837.6M157.7 771.8L228.9 775.1M157.5 770.8L178.7 791.8M178.7 791.9L269.9 854.2M167.8 827.2L130.2 832.0M262.7 825.0L270.2 853.8M87.4 838.0L189.0 875.3M54.6 873.7L79.3 911.7" stroke="#3e3a20" stroke-width="1.05" stroke-opacity="0.85" fill="none"/>
<path d="M234.4 699.2L309.4 737.6M234.2 699.6L248.8 799.0M169.6 720.4L213.8 913.9M238.2 731.4L138.2 798.1M88.3 733.8L136.9 798.5M264.4 760.9L130.5 832.8M80.2 772.4L41.3 839.7M287.4 785.4L120.0 913.0M41.3 839.7L94.7 871.2M78.2 912.8L120.0 913.4" stroke="#a060b4" stroke-width="1.05" stroke-opacity="0.85" fill="none"/>
<path d="M265.6 675.0L273.8 888.2M175.0 694.4L208.3 807.5M234.4 700.5L89.6 733.9M170.0 720.3L157.8 770.5M197.1 735.2L95.8 872.0M238.2 731.4L158.0 770.9M238.3 731.3L179.3 791.8M89.0 733.2L129.9 832.6M127.9 741.1L126.2 768.1M126.1 740.9L124.4 767.9M127.4 740.8L189.4 875.1M197.3 761.5L273.7 887.7M196.1 761.7L77.8 912.1M158.6 770.2L215.0 913.5M228.8 773.4L178.8 791.1M80.0 773.7L248.6 800.3M80.0 772.8L167.7 828.0M81.0 772.9L42.1 840.2M248.6 798.1L208.1 806.6M92.8 799.8L273.5 887.0M207.0 807.9L229.7 884.6M309.8 817.0L143.0 887.0M262.7 825.0L87.4 838.0M248.7 925.9L295.8 913.2" stroke="#ccd444" stroke-width="1.05" stroke-opacity="0.85" fill="none"/>
<path d="M175.0 694.4L238.0 731.0M234.2 699.6L157.8 770.5M196.3 734.1L249.1 798.7M89.2 733.4L270.0 854.2M126.1 741.2L137.1 797.9M125.4 767.6L309.9 816.6M229.0 773.8L262.7 825.0M80.3 772.0L248.9 798.6M80.2 772.4L94.7 871.2M167.9 827.6L295.8 913.2M142.7 887.8L213.9 914.6" stroke="#60bce0" stroke-width="1.05" stroke-opacity="0.85" fill="none"/>
<path d="M141.6 681.0L272.5 888.4M174.1 694.2L156.9 770.3M170.1 720.7L89.5 733.4M170.0 720.3L167.9 827.6M196.7 733.9L263.4 824.5M310.2 738.9L190.0 876.2M158.4 771.7L92.8 802.2M158.2 770.6L143.4 887.1M138.8 797.3L169.8 851.4M262.3 824.8L230.6 884.0M142.2 888.1L173.2 911.1" stroke="#48a448" stroke-width="1.05" stroke-opacity="0.85" fill="none"/>
<path d="M174.8 694.0L89.2 732.6M234.2 699.6L314.3 862.7M284.0 708.6L270.2 853.8M171.3 720.0L215.5 913.5M89.4 733.0L80.2 772.4M308.9 737.6L77.9 912.0M196.3 761.1L157.6 769.6M263.8 760.3L248.4 798.8M263.4 760.1L219.3 841.6M228.8 773.4L130.1 832.0M330.7 768.6L94.9 871.6M179.2 790.6L310.0 816.1M287.7 785.7L189.3 875.6M249.9 799.8L175.1 910.8M91.3 800.9L86.5 837.9M270.1 853.4L188.9 874.9" stroke="#3e3a20" stroke-width="1.05" stroke-opacity="0.85" fill="none"/>
<path d="M216.5 670.2L264.0 824.6M140.9 680.1L40.2 839.0M175.4 694.2L196.4 734.2M173.8 695.0L194.8 735.0M175.9 694.5L143.9 887.1M234.2 699.6L89.4 733.0M234.4 700.0L127.2 741.4M235.1 699.5L249.7 798.9M234.6 699.5L270.6 853.7M170.4 720.2L214.6 913.7M196.0 734.8L127.0 741.4M194.7 734.0L177.7 791.1M196.0 734.4L130.3 832.4M238.3 730.7L287.7 785.1M236.7 731.3L261.4 825.3M89.1 733.3L230.7 884.5M127.0 740.1L309.2 737.1M126.1 742.0L178.1 792.5M127.0 741.0L41.3 839.7M127.4 741.2L87.8 838.2M196.4 761.1L80.1 771.5M196.5 762.0L270.2 853.8M263.9 760.1L167.6 827.2M264.2 760.5L189.0 875.3M125.9 766.8L208.9 806.3M126.2 767.9L132.9 863.9M125.3 768.0L248.7 925.9M157.4 770.2L137.6 797.4M157.4 770.7L230.6 884.4M229.0 773.8L220.1 842.0M230.2 773.2L271.4 853.2M80.4 772.0L168.1 827.2M178.7 791.2L94.4 870.9M138.0 797.7L208.3 807.5M137.1 797.5L129.4 832.2M249.0 799.9L208.5 808.4M248.8 799.0L132.0 864.0M208.3 807.5L167.9 827.6M167.7 826.3L130.1 831.1M167.8 826.7L41.2 838.8M167.7 828.5L314.1 863.6M130.7 831.6L169.4 851.0M129.9 833.2L168.6 852.6M87.4 838.0L169.0 851.8M94.7 871.2L189.0 875.3M189.2 875.7L120.2 913.4" stroke="#ccd444" stroke-width="1.05" stroke-opacity="0.85" fill="none"/>
<path d="M197.3 734.4L197.8 762.0M90.7 733.0L88.7 838.0M127.0 741.0L125.3 768.0M79.3 773.4L168.1 852.8M179.0 791.5L138.0 797.7M179.0 791.5L169.0 851.8M92.5 800.2L168.2 826.8M262.6 824.6L94.6 870.8M220.7 841.3L273.5 887.5M143.1 887.4L189.1 875.7" stroke="#60bce0" stroke-width="1.05" stroke-opacity="0.85" fill="none"/>
<path d="M169.6 720.1L137.6 797.5M196.0 734.4L220.1 842.0M196.5 760.7L264.2 759.2M157.4 770.6L167.5 827.7" stroke="#d86a78" stroke-width="1.05" stroke-opacity="0.85" fill="none"/>
<path d="M213.9 670.9L247.5 799.3M175.9 694.6L158.7 770.7M169.8 719.9L126.8 740.6M196.1 735.7L127.1 742.3M237.1 730.8L228.1 773.6M309.2 738.0L309.8 817.0M124.6 769.2L269.5 855.0M229.3 775.1L138.3 799.0M51.0 802.0L169.0 851.8M208.6 807.9L78.5 912.8M219.7 841.2L77.8 911.6M53.6 874.0L174.1 909.6M78.2 912.8L174.0 910.4" stroke="#48a448" stroke-width="1.05" stroke-opacity="0.85" fill="none"/>
<path d="M264.7 675.0L262.7 825.0M234.2 699.6L220.1 842.0M194.7 734.4L195.2 762.0M126.4 742.2L248.2 800.2M126.0 742.0L271.9 889.2M195.6 763.0L261.8 826.0M177.7 791.1L166.6 827.2M92.1 802.3L208.2 808.8M208.4 806.6L309.9 816.1M87.1 838.3L142.7 887.3M169.1 852.2L220.2 842.4M219.9 842.9L314.1 863.6" stroke="#a060b4" stroke-width="1.05" stroke-opacity="0.85" fill="none"/>
<path d="M90.1 732.5L214.9 913.3M229.2 774.2L130.5 832.8M179.1 792.8L92.3 802.3M287.8 785.5L270.6 853.9M137.7 798.1L272.6 888.6M270.3 854.7L94.8 872.1" stroke="#d86a78" stroke-width="1.05" stroke-opacity="0.85" fill="none"/>
<path d="M215.2 670.6L309.8 817.0M215.6 670.4L314.7 862.5M264.3 674.8L168.6 851.6M284.7 709.8L197.2 763.2M284.4 708.8L264.6 760.7M170.0 720.3L196.0 734.4M170.0 720.3L309.8 817.0M89.8 732.7L169.4 851.5M128.2 740.4L190.2 874.7M310.1 738.0L310.7 817.0M197.4 761.0L263.6 824.0M228.6 774.0L269.8 854.0M288.1 784.9L310.5 816.5M220.4 842.4L120.3 913.4M270.4 854.7L143.2 887.9M93.4 870.7L76.9 911.9" stroke="#a060b4" stroke-width="1.05" stroke-opacity="0.85" fill="none"/>
<path d="M140.8 681.4L218.9 842.6M195.8 734.0L125.1 767.6M195.7 734.7L248.5 799.3M196.9 734.5L174.9 910.1M127.7 740.5L231.7 883.7M196.4 762.4L287.3 785.8M125.3 768.0L130.3 832.4M228.7 772.5L137.7 796.4M167.6 827.9L230.7 884.5" stroke="#60bce0" stroke-width="1.05" stroke-opacity="0.85" fill="none"/>
<path d="M215.2 670.2L264.7 674.6M176.1 693.6L263.8 824.2M88.1 732.7L52.2 874.1M127.3 740.1L229.3 772.9M126.6 741.2L188.6 875.5M196.2 761.6L87.1 837.6M197.6 762.7L133.1 864.7M196.9 762.3L78.6 912.7M264.2 760.5L220.1 842.0M264.6 760.5L270.6 853.8M158.9 771.3L139.1 798.5M286.6 784.9L261.9 824.5M167.9 827.6L143.0 887.0M87.4 837.6L270.2 853.4M169.4 853.1L132.4 865.3M169.0 851.8L272.9 888.2M270.2 853.8L231.0 884.2M94.8 871.6L132.1 864.4" stroke="#48a448" stroke-width="1.05" stroke-opacity="0.85" fill="none"/>
<path d="M216.5 670.3L250.1 798.7M264.7 675.0L314.3 862.7M141.7 680.5L89.1 732.7M196.0 734.0L238.0 730.6M196.4 734.5L179.4 791.6M195.6 734.3L168.6 851.7M89.4 733.0L330.5 768.2M196.5 762.0L138.0 797.7M229.0 773.8L92.2 801.0M80.2 772.4L189.0 875.3M179.1 792.4L138.1 798.6M179.3 791.1L270.5 853.4M208.0 807.2L168.7 851.5M262.8 825.4L94.8 871.6M168.9 851.4L131.9 863.6M220.3 842.4L143.2 887.4" stroke="#3e3a20" stroke-width="1.05" stroke-opacity="0.85" fill="none"/>
<path d="M215.6 670.7L168.3 827.7M263.8 675.0L272.0 888.2M175.8 694.0L273.7 887.8M175.0 694.4L272.9 888.2M234.2 699.6L179.0 791.5M169.3 719.8L86.7 837.5M170.0 720.3L94.7 871.2M196.0 734.0L89.4 732.6M237.9 730.6L80.1 772.0M126.2 741.3L168.2 852.1M125.3 768.0L214.2 913.8M125.0 768.3L295.5 913.5M156.9 770.6L168.1 851.9M229.4 773.8L231.4 884.2M330.4 767.8L208.2 807.1M80.9 771.3L168.6 826.5M80.0 772.8L314.1 863.1M178.6 790.2L40.9 838.4M179.0 791.5L220.1 842.0M178.3 792.1L219.4 842.6M137.8 798.1L270.0 854.2M139.2 798.3L79.4 913.0M249.0 799.9L130.5 833.3M51.0 802.4L92.2 801.4M208.6 808.4L130.6 833.3M208.3 807.5L189.0 875.3M309.8 817.0L78.2 912.4M262.6 824.6L131.9 863.6M263.1 825.8L143.4 887.8M87.8 838.1L78.6 912.5M169.0 851.8L231.0 884.2M220.1 842.0L78.2 912.4M188.2 875.8L213.4 914.3" stroke="#ccd444" stroke-width="1.05" stroke-opacity="0.85" fill="none"/>
<path d="M175.0 694.4L143.0 887.0M196.0 734.4L80.2 772.4M127.0 741.0L196.5 762.0M125.5 767.6L208.5 807.1M179.4 791.6L168.3 827.7M137.6 797.6L119.6 912.9M248.9 799.4L168.0 828.0M262.6 824.6L168.9 851.4M94.7 870.3L189.0 874.4M93.9 871.7L119.2 913.5" stroke="#3e3a20" stroke-width="1.05" stroke-opacity="0.85" fill="none"/>
<path d="M170.0 720.3L41.3 839.7M195.3 734.9L262.0 825.5M237.6 730.9L219.7 841.9M89.2 733.4L309.6 817.4M308.9 737.7L188.7 875.0M229.2 774.7L92.4 801.9M287.1 784.6L248.5 798.2M288.2 785.9L263.5 825.5M91.3 802.0L129.4 833.4M220.1 842.0L94.7 871.2" stroke="#60bce0" stroke-width="1.05" stroke-opacity="0.85" fill="none"/>
<path d="M264.7 675.0L53.5 874.4M141.7 681.1L195.7 734.7M176.1 695.2L126.4 768.8M174.6 694.2L137.6 797.5M175.9 694.1L209.2 807.2M234.6 699.6L229.4 773.8M234.6 699.7L208.7 807.6M171.0 719.3L249.8 798.0M169.1 720.3L168.1 851.8M89.0 733.0L77.8 912.4M127.7 741.6L42.0 840.3M196.5 762.0L80.2 772.4M264.1 759.2L157.7 769.2M264.7 761.7L87.9 839.2M264.5 760.8L169.3 852.1M125.7 768.3L53.9 874.7M157.4 770.4L131.6 863.9M229.0 773.8L94.7 871.2M137.1 796.7L52.6 873.4M92.7 800.3L189.5 874.6M207.8 808.2L269.7 854.5M167.0 827.6L168.1 851.8M168.2 828.4L53.8 875.2M131.2 832.4L132.9 864.0M87.4 838.0L220.1 842.0M220.1 842.0L174.0 910.0M273.3 888.4L249.1 926.1" stroke="#48a448" stroke-width="1.05" stroke-opacity="0.85" fill="none"/>
<path d="M175.1 693.1L234.3 698.3M175.3 694.7L80.5 772.7M175.3 694.1L287.7 785.1M89.4 733.0L272.9 888.2M124.4 768.0L119.1 913.0M229.8 774.3L209.1 808.0M178.6 791.6L188.6 875.4M178.1 791.7L213.3 914.0M287.4 785.4L220.1 842.0M92.2 801.0L262.7 825.0M167.4 826.8L94.2 870.4M168.7 852.1L248.4 926.2M219.4 840.8L142.3 885.8M94.7 872.1L189.0 876.2" stroke="#a060b4" stroke-width="1.05" stroke-opacity="0.85" fill="none"/>
<path d="M215.2 670.6L264.2 760.5M174.6 694.4L178.6 791.5M284.2 709.0L125.5 768.4M90.4 732.1L232.0 883.3M126.4 767.2L169.0 826.8M125.1 768.4L270.0 854.2M125.6 767.7L296.1 912.9M138.5 796.4L314.8 861.4M51.3 801.2L169.3 851.0M220.1 842.0L272.9 888.2M221.4 841.6L250.0 925.5M269.8 853.7L248.3 925.8M142.7 887.4L173.7 910.4" stroke="#d86a78" stroke-width="1.05" stroke-opacity="0.85" fill="none"/>
<path d="M264.5 674.6L169.8 719.9M142.0 680.8L264.2 760.5M143.3 681.1L96.0 871.5M142.4 680.7L189.4 875.2M175.9 695.4L127.9 742.0M235.0 700.0L143.8 887.4M284.3 708.9L229.3 774.1M284.4 708.6L287.8 785.4M170.0 720.3L196.5 762.0M170.2 719.9L264.4 760.1M196.0 734.8L238.0 731.4M194.7 734.1L167.7 851.5M237.8 730.6L157.6 770.1M237.7 731.3L287.1 785.7M89.6 732.6L270.4 853.4M89.8 733.1L53.9 874.5M89.4 733.0L214.2 913.8M126.6 740.8L87.0 837.8M127.0 741.0L169.0 851.8M196.7 761.6L229.2 773.4M196.6 761.6L287.5 785.0M196.1 761.8L131.6 863.8M195.4 761.3L130.9 863.3M196.5 762.0L189.0 875.3M264.2 760.1L157.8 770.1M264.4 760.9L53.7 874.8M125.3 768.0L262.7 825.0M125.3 768.0L78.2 912.4M157.4 769.2L50.6 800.7M158.2 770.3L231.4 884.0M157.8 770.5L214.2 913.8M179.2 791.1L208.5 807.1M179.0 791.5L132.0 864.0M287.7 786.2L249.1 799.8M138.0 796.8L248.8 798.1M249.2 798.8L270.6 853.6M247.9 798.8L230.1 884.0M50.9 802.9L262.6 825.9M92.3 800.1L262.8 824.1M92.1 801.4L270.1 854.2M208.1 807.1L53.3 874.0M207.9 807.8L272.5 888.5M262.6 823.7L41.2 838.4M262.2 823.7L219.6 840.7M263.0 825.4L189.3 875.7M86.7 837.4L52.8 873.8M220.0 842.4L270.1 854.2M220.8 843.2L143.7 888.2M95.1 871.4L78.6 912.6" stroke="#ccd444" stroke-width="1.05" stroke-opacity="0.85" fill="none"/>
<path d="M215.2 670.6L196.0 734.4M215.2 670.6L89.4 733.0M263.9 675.4L283.2 709.0M141.1 680.6L126.1 740.8M143.2 680.2L221.3 841.4M174.1 693.4L126.1 740.0M175.4 694.6L138.4 797.9M234.0 698.7L89.2 732.1M234.6 699.8L196.9 762.2M170.0 720.3L229.0 773.8M169.7 720.6L248.5 799.3M197.3 734.7L170.3 852.1M195.6 734.1L94.3 870.9M238.9 731.2L229.9 774.0M89.0 733.3L137.6 798.0M88.4 733.9L166.9 828.5M126.7 741.9L228.7 774.7M197.3 762.4L143.8 887.4M263.9 760.2L168.7 851.5M264.2 760.5L132.0 864.0M125.2 768.9L157.7 771.4M126.6 767.6L175.3 909.6M158.1 770.2L179.3 791.2M158.2 771.8L51.4 803.3M157.8 770.5L270.2 853.8M229.0 773.8L248.8 799.0M227.8 774.4L269.0 854.4M229.0 773.8L214.2 913.8M228.6 774.0L295.4 913.4M80.0 772.8L137.8 798.1M179.9 791.6L169.9 851.9M179.8 791.8L143.8 887.3M137.5 799.0L313.8 864.0M248.7 798.6L87.3 837.6M248.6 798.6L53.3 874.0M208.8 806.8L270.7 853.1M207.2 808.3L271.8 889.0M168.9 851.4L220.0 841.6M169.3 851.5L249.0 925.6M219.8 841.7L188.7 875.0M270.2 853.8L272.9 888.2M131.9 864.4L272.8 888.6" stroke="#ccd444" stroke-width="1.05" stroke-opacity="0.85" fill="none"/>
<path d="M264.7 675.0L272.9 888.2M141.6 680.6L40.9 839.5M141.6 681.0L219.7 842.2M234.8 700.3L158.4 771.2M170.2 720.7L80.4 772.8M196.0 735.7L89.4 734.3M238.0 731.0L127.0 741.0M89.0 732.9L53.1 874.3M126.3 741.5L230.3 884.7M179.4 790.7L314.7 861.9M209.6 807.1L232.3 883.8" stroke="#48a448" stroke-width="1.05" stroke-opacity="0.85" fill="none"/>
<path d="M141.6 680.7L94.3 871.1M234.2 699.6L287.4 785.4M194.7 734.7L229.7 884.5M126.1 741.0L131.1 864.0M264.2 760.5L94.7 871.2M125.3 768.0L287.4 785.4M125.3 768.0L314.3 862.7M125.3 768.0L120.0 913.0M229.0 773.8L143.0 887.0M248.7 798.6L167.8 827.2M248.6 798.1L130.1 831.5M247.5 799.5L268.9 854.3M130.2 832.0L87.3 837.6M88.1 838.6L54.2 875.0" stroke="#d86a78" stroke-width="1.05" stroke-opacity="0.85" fill="none"/>
<path d="M141.1 680.9L168.1 851.9M170.2 721.6L89.6 734.3M170.9 720.3L168.8 827.6M170.7 720.8L88.1 838.5M238.0 731.0L169.0 851.8M127.9 740.0L179.9 790.5M51.1 801.1L262.8 824.1M131.8 865.3L272.7 889.5" stroke="#60bce0" stroke-width="1.05" stroke-opacity="0.85" fill="none"/>
<path d="M141.6 680.9L157.4 770.6M234.6 699.6L214.6 913.8M88.5 733.3L131.1 864.3M128.2 741.5L88.6 838.5M128.0 740.0L273.9 887.2M196.3 762.4L228.8 774.2M196.5 762.0L208.3 807.5M125.3 768.0L169.0 851.8M126.0 766.8L270.9 852.6M157.9 770.9L51.1 802.4M157.8 770.5L130.3 832.4M248.8 799.0L231.0 884.2M93.1 800.0L131.2 831.4M130.0 832.8L188.7 875.7M263.0 825.3L174.3 910.3M231.0 884.2L272.9 888.2" stroke="#3e3a20" stroke-width="1.05" stroke-opacity="0.85" fill="none"/>
<path d="M215.2 670.6L270.2 853.8M264.1 674.3L52.9 873.7M174.7 694.1L79.9 772.1M308.3 738.0L308.9 817.0M196.5 761.6L125.3 767.6M125.5 767.6L270.4 853.4M124.9 768.1L173.6 910.1M157.5 770.8L219.8 842.3M229.4 774.1L169.4 852.1M92.2 800.6L208.3 807.1M167.9 827.6L53.5 874.4M130.3 832.8L262.7 825.4" stroke="#a060b4" stroke-width="1.05" stroke-opacity="0.85" fill="none"/>
<path d="M264.7 675.0L238.0 731.0M174.7 694.1L126.7 740.7M235.1 699.7L221.0 842.1M234.2 699.6L143.0 887.0M170.2 720.7L127.2 741.4M89.4 733.0L264.2 760.5M89.4 733.0L248.8 799.0M88.7 733.5L213.5 914.3M309.0 737.1L50.8 801.1M125.4 767.1L157.9 769.6M125.7 768.1L95.1 871.3M228.6 773.8L230.6 884.2M287.2 785.0L131.8 863.6M138.3 797.4L168.2 827.3M208.7 807.2L273.3 887.9M53.1 874.6L77.8 912.6M133.2 863.4L144.2 886.4" stroke="#a060b4" stroke-width="1.05" stroke-opacity="0.85" fill="none"/>
<path d="M215.6 670.5L249.2 798.9M142.4 680.7L158.2 770.4M175.0 694.4L157.8 770.5M174.6 694.7L228.6 774.1M174.7 694.7L287.1 785.7M174.1 694.7L207.4 807.8M175.4 694.6L78.6 912.6M284.9 708.7L271.1 853.9M170.0 720.3L238.0 731.0M170.4 720.0L270.6 853.5M196.0 733.1L89.4 731.7M238.7 730.4L264.9 759.9M127.4 741.0L120.4 913.0M264.7 761.8L179.5 792.8M263.6 759.8L131.4 863.3M125.3 768.0L87.4 838.0M126.1 767.6L169.8 851.4M125.3 768.0L132.0 864.0M158.0 770.9L92.4 801.4M80.1 772.8L248.7 799.4M80.2 772.4L92.2 801.0M79.4 771.9L40.5 839.2M179.0 791.5L51.0 802.0M179.6 792.2L130.9 833.1M179.0 791.5L272.9 888.2M138.0 797.7L220.1 842.0M137.6 797.7L131.6 864.0M136.7 797.5L118.7 912.8M92.0 801.4L272.7 888.6M167.9 827.6L189.0 875.3M168.2 827.3L231.3 883.9M130.5 832.0L296.0 912.8M263.2 824.3L314.8 862.0M168.1 851.9L173.1 910.1M169.2 851.4L296.0 912.8M220.3 842.9L94.9 872.1M219.9 841.6L142.8 886.6M272.5 888.0L248.3 925.7M78.2 912.0L120.0 912.6" stroke="#ccd444" stroke-width="1.05" stroke-opacity="0.85" fill="none"/>
<path d="M175.2 694.8L89.6 733.4M236.7 730.8L218.8 841.8M287.4 785.4L295.8 913.2M91.9 801.8L167.6 828.4M207.3 806.6L142.0 886.1M219.7 842.1L230.6 884.3M143.7 887.6L120.7 913.6" stroke="#d86a78" stroke-width="1.05" stroke-opacity="0.85" fill="none"/>
<path d="M214.4 671.1L286.6 785.9M170.0 720.3L179.0 791.5M196.0 734.0L127.0 740.6M88.7 734.1L178.3 792.6M263.9 760.2L208.0 807.2M331.0 768.9L220.6 842.7M179.0 791.1L92.2 800.6M178.9 790.2L92.1 799.7M138.0 797.7L262.7 825.0M137.7 797.4L53.2 874.1M41.3 839.7L169.0 851.8M168.8 852.2L295.6 913.6M220.1 842.0L132.0 864.0M132.2 862.7L273.1 886.9" stroke="#3e3a20" stroke-width="1.05" stroke-opacity="0.85" fill="none"/>
<path d="M233.9 699.3L195.7 734.1M171.1 719.5L271.3 853.0M90.5 732.2L139.1 796.9M90.7 732.6L144.3 886.6M179.1 791.9L41.4 840.1M137.2 797.2L93.9 870.7M130.6 832.0L189.3 874.9M168.6 851.5L142.6 886.7" stroke="#60bce0" stroke-width="1.05" stroke-opacity="0.85" fill="none"/>
<path d="M234.1 699.2L169.9 719.9M284.0 708.6L262.7 825.0M196.6 735.1L158.4 771.2M196.0 734.4L92.2 801.0M196.0 734.4L174.0 910.0M238.0 731.0L309.8 817.0M196.9 762.2L132.4 864.2M125.3 768.0L80.2 772.4M124.6 768.6L248.0 926.5M157.8 770.5L248.8 799.0M287.4 785.4L208.3 807.5M248.8 799.0L189.0 875.3M208.3 807.5L120.0 913.0M168.0 827.2L270.3 853.4M169.9 851.7L174.9 909.9M270.2 853.8L94.7 871.2M231.1 883.3L273.0 887.3M231.0 884.2L295.8 913.2" stroke="#48a448" stroke-width="1.05" stroke-opacity="0.85" fill="none"/>
<path d="M215.2 670.6L127.0 741.0M215.7 669.9L309.7 737.3M213.9 670.3L195.2 761.7M142.4 680.6L273.3 888.0M175.5 693.6L238.5 730.2M175.0 694.4L169.0 851.8M174.2 694.8L272.1 888.6M234.2 699.6L264.2 760.5M233.8 699.7L269.8 853.9M233.4 700.0L313.5 863.1M283.6 708.6L287.0 785.4M283.1 708.5L269.3 853.7M170.0 720.3L87.4 838.0M169.6 720.4L188.6 875.4M196.4 734.3L208.7 807.4M196.0 734.4L262.7 825.0M238.4 731.2L208.7 807.7M237.6 731.1L262.3 825.1M89.8 731.7L229.4 772.5M89.2 733.4L178.8 791.9M89.0 733.3L168.6 852.1M90.7 733.3L54.8 874.7M89.4 733.0L132.0 864.0M309.3 738.4L125.4 768.4M196.5 762.0L157.8 770.5M196.8 761.7L263.0 824.7M80.5 771.1L179.3 790.2M80.4 771.1L249.0 797.7M79.9 772.7L168.7 852.1M179.0 791.5L314.3 862.7M138.0 797.7L130.3 832.4M137.6 797.5L77.8 912.2M249.0 799.4L53.7 874.8M51.0 802.0L41.3 839.7M208.3 807.5L262.7 825.0M208.3 807.5L295.8 913.2M168.1 828.9L130.5 833.7M167.9 828.0L262.7 825.4M263.1 826.3L95.1 872.5M168.6 852.6L230.6 885.0M143.0 887.0L214.2 913.8" stroke="#ccd444" stroke-width="1.05" stroke-opacity="0.85" fill="none"/>
<path d="M140.7 680.5L93.4 870.9M89.0 734.3L228.6 775.1M89.3 733.9L330.4 769.1M127.0 741.0L130.3 832.4M309.0 736.7L125.1 766.7M124.7 769.2L207.7 808.7M126.1 766.9L220.9 840.9M157.8 770.5L189.0 875.3M286.8 784.7L219.5 841.3M309.8 817.0L270.2 853.8" stroke="#60bce0" stroke-width="1.05" stroke-opacity="0.85" fill="none"/>
<path d="M214.8 670.8L313.9 862.9M264.7 675.0L284.0 708.6M89.1 733.3L167.6 827.9M89.8 732.9L143.4 886.9M228.2 773.3L207.5 807.0M80.0 773.3L208.1 808.4M178.8 792.4L309.6 817.9M287.4 785.4L169.0 851.8M208.6 807.9L132.3 864.4M220.5 841.9L249.1 925.8M78.2 913.7L174.0 911.3" stroke="#3e3a20" stroke-width="1.05" stroke-opacity="0.85" fill="none"/>
<path d="M196.0 734.4L157.8 770.5M264.2 760.5L138.0 797.7M124.9 767.7L53.1 874.1M138.4 797.7L132.4 864.0M138.0 797.7L189.0 875.3M92.2 801.0L87.4 838.0M274.0 888.9L249.8 926.6" stroke="#a060b4" stroke-width="1.05" stroke-opacity="0.85" fill="none"/>
<path d="M89.4 733.0L125.3 768.0M126.0 767.4L249.4 925.3M157.8 770.5L262.7 825.0M229.1 774.2L138.1 798.1M138.5 796.5L270.7 852.6M92.2 801.4L208.3 807.9" stroke="#d86a78" stroke-width="1.05" stroke-opacity="0.85" fill="none"/>
<path d="M175.0 694.4L170.0 720.3M237.3 731.6L263.5 761.1M238.2 730.6L330.7 767.8M89.0 733.1L142.6 887.1M126.3 740.4L40.6 839.1M127.4 741.0L143.4 887.0M264.0 760.1L130.1 832.0M125.4 768.9L80.3 773.3M157.9 769.2L229.1 772.5M229.0 773.8L189.0 875.3M286.7 785.9L309.1 817.5M138.3 798.1L87.7 838.4M248.4 799.1L272.5 888.3M208.3 807.5L314.3 862.7M167.9 827.2L262.7 824.6M167.8 828.0L270.1 854.2M219.1 841.1L188.0 874.4M270.8 854.5L231.6 884.9M314.3 862.7L189.0 875.3" stroke="#48a448" stroke-width="1.05" stroke-opacity="0.85" fill="none"/>
<path d="M215.2 670.6L309.2 738.0M196.0 734.4L143.0 887.0M196.6 762.9L80.3 773.3M196.5 762.0L179.0 791.5M157.5 770.2L87.1 837.7M229.6 774.5L168.5 828.3M80.2 772.4L208.3 807.5M179.0 791.5L248.8 799.0M51.0 803.3L92.2 802.3M208.0 807.2L142.7 886.7M167.9 827.6L169.0 851.8M262.7 825.0L314.3 862.7M132.1 863.6L273.0 887.8" stroke="#a060b4" stroke-width="1.05" stroke-opacity="0.85" fill="none"/>
<path d="M142.4 680.6L220.5 841.8M141.6 680.9L188.6 875.4M175.0 694.8L234.2 700.0M234.3 700.0L170.1 720.7M170.5 719.1L264.7 759.3M169.8 719.9L80.0 772.0M170.3 720.0L249.1 798.7M170.0 720.3L92.2 801.0M196.0 734.8L89.4 733.4M196.4 734.4L196.9 762.0M196.2 734.8L51.2 802.4M238.0 730.6L89.4 732.6M237.1 731.1L247.9 799.1M237.7 730.7L130.0 832.1M127.4 741.2L92.6 801.2M196.1 762.1L248.3 926.0M264.5 760.2L287.7 785.1M157.0 770.8L213.4 914.1M80.2 772.4L287.4 785.4M179.2 791.1L262.9 824.6M179.7 790.9L220.8 841.4M179.3 791.8L95.0 871.5M180.3 791.3L190.3 875.1M287.4 785.4L130.3 832.4M138.0 798.6L248.8 799.9M138.9 797.9L131.2 832.6M138.4 797.9L78.6 912.6M138.4 797.8L120.4 913.1M138.0 797.7L295.8 913.2M248.8 799.0L92.2 801.0M248.8 799.0L169.0 851.8M249.5 799.5L220.8 842.5M51.0 800.7L92.2 799.7M92.1 801.9L262.6 825.9M93.1 801.1L88.3 838.1M208.0 807.1L77.9 912.0M130.3 832.0L262.7 824.6M129.4 832.4L131.1 864.0M87.2 838.4L131.8 864.4M96.0 871.7L79.5 912.9M132.0 864.0L189.0 875.3M131.8 864.4L214.0 914.2M272.9 888.2L78.2 912.4" stroke="#ccd444" stroke-width="1.05" stroke-opacity="0.85" fill="none"/>
<path d="M215.2 670.6L234.2 699.6M174.1 694.4L168.1 851.8M234.5 699.9L196.3 734.7M283.8 708.2L125.1 767.6M127.0 741.0L264.2 760.5M309.4 738.9L51.2 802.9M196.6 763.3L125.4 769.3M265.0 760.9L220.9 842.4M313.7 862.1L248.1 925.3M142.9 886.6L188.9 874.9" stroke="#60bce0" stroke-width="1.05" stroke-opacity="0.85" fill="none"/>
<path d="M264.7 675.0L157.8 770.5M235.4 700.3L197.7 762.7M89.4 733.0L157.8 770.5M88.1 733.0L86.1 838.0M127.9 740.8L138.9 797.5M308.8 737.8L287.0 785.2M264.0 760.1L228.8 773.4M156.7 771.2L229.9 884.9M330.6 768.6L208.4 807.9M79.3 772.5L93.8 871.3M79.8 772.4L77.8 912.4M248.4 797.7L167.5 826.3M247.7 798.2L172.9 909.2M167.9 827.6L94.7 871.2M168.8 828.6L79.1 913.4" stroke="#48a448" stroke-width="1.05" stroke-opacity="0.85" fill="none"/>
<path d="M215.2 670.6L287.4 785.4M127.0 741.0L208.3 807.5M126.5 767.5L139.2 797.2M80.4 772.0L314.5 862.3M178.6 791.4L167.5 827.5M178.9 791.1L41.2 839.3M138.8 798.2L95.5 871.7M207.3 806.6L168.0 850.9M130.6 832.1L214.5 913.5M220.4 842.3L189.3 875.6M314.3 862.7L248.7 925.9M53.9 874.2L78.6 912.2" stroke="#3e3a20" stroke-width="1.05" stroke-opacity="0.85" fill="none"/>
<path d="M141.3 681.4L228.3 774.4M142.4 680.9L95.1 871.3M175.0 694.0L234.2 699.2M174.6 694.7L262.3 825.3M234.2 699.6L238.0 731.0M234.7 700.9L127.5 742.3M237.0 731.9L286.4 786.3M89.4 733.0L189.0 875.3M196.2 762.3L262.4 825.3M263.9 760.2L142.7 886.7M125.2 767.1L80.1 771.5M178.1 791.4L168.1 851.7M262.5 824.6L219.9 841.6M219.8 841.6L119.7 912.6" stroke="#d86a78" stroke-width="1.05" stroke-opacity="0.85" fill="none"/>
<circle cx="215.2" cy="670.6" r="9.2" fill="#e6cfae" stroke="#3a3a3a" stroke-width="0.8"/>
<path d="M213.9 669.2 L213.7 673.3 L216.1 674.9 L216.4 675.1 L216.3 667.8 L219.4 671.4 L217.9 671.1" stroke="#7e715f" stroke-width="0.9" fill="none" stroke-opacity="0.6"/>
<circle cx="215.2" cy="670.6" r="9.2" fill="url(#sph)"/>
<circle cx="264.7" cy="675" r="9.2" fill="#98d896" stroke="#3a3a3a" stroke-width="0.8"/>
<path d="M264.4 675.2 L262.0 672.1 L262.8 673.9 L261.5 674.8 L265.4 679.7 L269.1 674.9 L266.5 674.6" stroke="#537652" stroke-width="0.9" fill="none" stroke-opacity="0.6"/>
<circle cx="264.7" cy="675" r="9.2" fill="url(#sph)"/>
<circle cx="142" cy="680.8" r="9.2" fill="#b4e2a4" stroke="#3a3a3a" stroke-width="0.8"/>
<path d="M142.4 680.8 L141.3 680.9 L138.4 681.9 L141.4 678.4 L141.4 681.7 L140.7 681.7 L143.4 684.6" stroke="#637c5a" stroke-width="0.9" fill="none" stroke-opacity="0.6"/>
<circle cx="142" cy="680.8" r="9.2" fill="url(#sph)"/>
<circle cx="175" cy="694.4" r="9.2" fill="#92d6e2" stroke="#3a3a3a" stroke-width="0.8"/>
<path d="M172.6 694.2 L176.2 698.1 L175.5 695.8 L171.4 693.0 L179.1 693.7 L179.8 692.8 L174.3 690.5" stroke="#50757c" stroke-width="0.9" fill="none" stroke-opacity="0.6"/>
<circle cx="175" cy="694.4" r="9.2" fill="url(#sph)"/>
<circle cx="234.2" cy="699.6" r="9.2" fill="#9cb6ea" stroke="#3a3a3a" stroke-width="0.8"/>
<path d="M235.2 700.0 L238.9 700.0 L233.6 696.2 L234.0 701.5 L236.0 702.6 L235.9 699.5 L235.1 699.9" stroke="#556480" stroke-width="0.9" fill="none" stroke-opacity="0.6"/>
<circle cx="234.2" cy="699.6" r="9.2" fill="url(#sph)"/>
<circle cx="284" cy="708.6" r="9.2" fill="#a4c2f0" stroke="#3a3a3a" stroke-width="0.8"/>
<path d="M281.0 712.5 L284.8 706.2 L284.5 709.0 L286.4 712.1 L278.6 709.6 L287.7 706.3 L279.5 709.3" stroke="#5a6a84" stroke-width="0.9" fill="none" stroke-opacity="0.6"/>
<circle cx="284" cy="708.6" r="9.2" fill="url(#sph)"/>
<circle cx="170" cy="720.3" r="9.2" fill="#c4e2a6" stroke="#3a3a3a" stroke-width="0.8"/>
<path d="M170.4 720.7 L167.4 719.2 L170.4 721.6 L175.0 721.0 L168.7 715.3 L172.4 720.0 L169.8 718.2" stroke="#6b7c5b" stroke-width="0.9" fill="none" stroke-opacity="0.6"/>
<circle cx="170" cy="720.3" r="9.2" fill="url(#sph)"/>
<circle cx="196" cy="734.4" r="9.2" fill="#a4e2da" stroke="#3a3a3a" stroke-width="0.8"/>
<path d="M197.8 730.1 L196.0 734.5 L196.7 737.5 L196.0 734.4 L198.1 730.6 L195.8 734.5 L198.3 732.5" stroke="#5a7c77" stroke-width="0.9" fill="none" stroke-opacity="0.6"/>
<circle cx="196" cy="734.4" r="9.2" fill="url(#sph)"/>
<circle cx="238" cy="731" r="9.2" fill="#a2b2ea" stroke="#3a3a3a" stroke-width="0.8"/>
<path d="M239.6 731.8 L234.5 727.6 L234.5 731.3 L238.4 732.3 L239.7 729.8 L240.6 733.0 L238.8 731.8" stroke="#596180" stroke-width="0.9" fill="none" stroke-opacity="0.6"/>
<circle cx="238" cy="731" r="9.2" fill="url(#sph)"/>
<circle cx="89.4" cy="733" r="9.2" fill="#e2e4b6" stroke="#3a3a3a" stroke-width="0.8"/>
<path d="M86.3 733.9 L86.9 730.1 L89.1 733.1 L89.4 732.7 L87.2 733.4 L87.6 729.5 L89.6 736.6" stroke="#7c7d64" stroke-width="0.9" fill="none" stroke-opacity="0.6"/>
<circle cx="89.4" cy="733" r="9.2" fill="url(#sph)"/>
<circle cx="127" cy="741" r="9.2" fill="#a4e2cc" stroke="#3a3a3a" stroke-width="0.8"/>
<path d="M126.1 738.6 L130.1 744.9 L126.7 740.8 L127.4 746.4 L127.3 743.1 L128.1 736.6 L124.3 738.0" stroke="#5a7c70" stroke-width="0.9" fill="none" stroke-opacity="0.6"/>
<circle cx="127" cy="741" r="9.2" fill="url(#sph)"/>
<circle cx="309.2" cy="738" r="9.2" fill="#e8b6b4" stroke="#3a3a3a" stroke-width="0.8"/>
<path d="M309.7 738.1 L313.6 737.3 L309.5 738.1 L309.5 743.1 L309.9 741.6 L312.4 736.5 L310.5 737.3" stroke="#7f6463" stroke-width="0.9" fill="none" stroke-opacity="0.6"/>
<circle cx="309.2" cy="738" r="9.2" fill="url(#sph)"/>
<circle cx="196.5" cy="762" r="9.2" fill="#b2e2a4" stroke="#3a3a3a" stroke-width="0.8"/>
<path d="M196.6 762.1 L196.5 761.4 L200.3 761.3 L198.2 766.1 L198.0 764.4 L199.9 764.7 L200.4 758.8" stroke="#617c5a" stroke-width="0.9" fill="none" stroke-opacity="0.6"/>
<circle cx="196.5" cy="762" r="9.2" fill="url(#sph)"/>
<circle cx="264.2" cy="760.5" r="9.2" fill="#e2d4b4" stroke="#3a3a3a" stroke-width="0.8"/>
<path d="M268.9 760.6 L260.0 758.9 L260.8 760.4 L260.6 758.0 L264.5 760.6 L262.7 760.0 L264.2 760.5" stroke="#7c7463" stroke-width="0.9" fill="none" stroke-opacity="0.6"/>
<circle cx="264.2" cy="760.5" r="9.2" fill="url(#sph)"/>
<circle cx="125.3" cy="768" r="9.2" fill="#e4c4a6" stroke="#3a3a3a" stroke-width="0.8"/>
<path d="M125.3 767.9 L127.4 764.1 L124.7 768.2 L124.6 767.1 L124.8 768.3 L128.3 767.6 L125.0 768.4" stroke="#7d6b5b" stroke-width="0.9" fill="none" stroke-opacity="0.6"/>
<circle cx="125.3" cy="768" r="9.2" fill="url(#sph)"/>
<circle cx="157.8" cy="770.5" r="9.2" fill="#a4e2d4" stroke="#3a3a3a" stroke-width="0.8"/>
<path d="M157.2 765.9 L158.1 770.0 L156.7 771.7 L157.9 769.7 L153.6 767.2 L157.8 770.5 L158.4 770.8" stroke="#5a7c74" stroke-width="0.9" fill="none" stroke-opacity="0.6"/>
<circle cx="157.8" cy="770.5" r="9.2" fill="url(#sph)"/>
<circle cx="229" cy="773.8" r="9.2" fill="#a4e2b4" stroke="#3a3a3a" stroke-width="0.8"/>
<path d="M227.8 770.7 L226.5 773.5 L226.2 775.6 L226.0 769.7 L228.5 769.4 L232.9 771.4 L229.0 773.6" stroke="#5a7c63" stroke-width="0.9" fill="none" stroke-opacity="0.6"/>
<circle cx="229" cy="773.8" r="9.2" fill="url(#sph)"/>
<circle cx="330.5" cy="768.2" r="9.2" fill="#dce8b4" stroke="#3a3a3a" stroke-width="0.8"/>
<path d="M328.5 764.0 L326.1 770.2 L332.7 772.9 L326.9 769.6 L330.5 769.9 L329.5 769.7 L332.5 769.6" stroke="#797f63" stroke-width="0.9" fill="none" stroke-opacity="0.6"/>
<circle cx="330.5" cy="768.2" r="9.2" fill="url(#sph)"/>
<circle cx="80.2" cy="772.4" r="9.2" fill="#b494d4" stroke="#3a3a3a" stroke-width="0.8"/>
<path d="M83.8 772.0 L84.0 770.7 L83.0 767.7 L80.2 770.9 L80.2 774.7 L81.5 772.6 L84.0 769.1" stroke="#635174" stroke-width="0.9" fill="none" stroke-opacity="0.6"/>
<circle cx="80.2" cy="772.4" r="9.2" fill="url(#sph)"/>
<circle cx="179" cy="791.5" r="9.2" fill="#a4bcea" stroke="#3a3a3a" stroke-width="0.8"/>
<path d="M177.0 795.2 L179.8 786.7 L179.8 788.7 L182.6 794.3 L177.7 794.7 L177.0 793.7 L179.9 791.3" stroke="#5a6780" stroke-width="0.9" fill="none" stroke-opacity="0.6"/>
<circle cx="179" cy="791.5" r="9.2" fill="url(#sph)"/>
<circle cx="287.4" cy="785.4" r="9.2" fill="#a4e2e2" stroke="#3a3a3a" stroke-width="0.8"/>
<path d="M283.9 784.7 L282.4 784.2 L283.2 788.2 L285.4 780.5 L288.4 786.0 L286.2 790.2 L288.8 785.5" stroke="#5a7c7c" stroke-width="0.9" fill="none" stroke-opacity="0.6"/>
<circle cx="287.4" cy="785.4" r="9.2" fill="url(#sph)"/>
<circle cx="138" cy="797.7" r="9.2" fill="#f0f0c4" stroke="#3a3a3a" stroke-width="0.8"/>
<path d="M136.8 792.4 L139.1 799.9 L136.5 794.2 L137.9 793.6 L138.0 799.1 L141.7 798.4 L138.4 799.1" stroke="#84846b" stroke-width="0.9" fill="none" stroke-opacity="0.6"/>
<circle cx="138" cy="797.7" r="9.2" fill="url(#sph)"/>
<circle cx="248.8" cy="799" r="9.2" fill="#a4e2a4" stroke="#3a3a3a" stroke-width="0.8"/>
<path d="M252.2 798.2 L245.8 797.0 L245.7 796.8 L248.7 799.3 L248.9 799.0 L248.3 799.6 L250.9 800.8" stroke="#5a7c5a" stroke-width="0.9" fill="none" stroke-opacity="0.6"/>
<circle cx="248.8" cy="799" r="9.2" fill="url(#sph)"/>
<circle cx="51" cy="802" r="9.2" fill="#e2c4c4" stroke="#3a3a3a" stroke-width="0.8"/>
<path d="M54.7 801.3 L50.4 806.2 L51.2 802.5 L50.3 804.1 L50.1 799.7 L50.9 801.5 L52.7 801.2" stroke="#7c6b6b" stroke-width="0.9" fill="none" stroke-opacity="0.6"/>
<circle cx="51" cy="802" r="9.2" fill="url(#sph)"/>
<circle cx="92.2" cy="801" r="9.2" fill="#c4e8b4" stroke="#3a3a3a" stroke-width="0.8"/>
<path d="M92.3 800.9 L92.8 799.9 L94.9 797.5 L91.5 799.7 L93.2 801.1 L92.9 800.5 L90.5 798.3" stroke="#6b7f63" stroke-width="0.9" fill="none" stroke-opacity="0.6"/>
<circle cx="92.2" cy="801" r="9.2" fill="url(#sph)"/>
<circle cx="208.3" cy="807.5" r="9.2" fill="#b4e2b4" stroke="#3a3a3a" stroke-width="0.8"/>
<path d="M207.8 806.7 L208.6 807.9 L210.4 807.3 L206.5 804.9 L208.4 807.9 L213.0 807.9 L211.9 811.4" stroke="#637c63" stroke-width="0.9" fill="none" stroke-opacity="0.6"/>
<circle cx="208.3" cy="807.5" r="9.2" fill="url(#sph)"/>
<circle cx="309.8" cy="817" r="9.2" fill="#84d2e2" stroke="#3a3a3a" stroke-width="0.8"/>
<path d="M307.2 820.0 L312.6 820.3 L309.8 819.0 L309.2 816.9 L309.8 821.4 L309.3 819.0 L309.9 815.8" stroke="#48737c" stroke-width="0.9" fill="none" stroke-opacity="0.6"/>
<circle cx="309.8" cy="817" r="9.2" fill="url(#sph)"/>
<circle cx="167.9" cy="827.6" r="9.2" fill="#84d284" stroke="#3a3a3a" stroke-width="0.8"/>
<path d="M168.3 828.7 L166.4 828.9 L166.3 825.6 L168.1 827.4 L165.5 823.7 L167.9 827.8 L167.3 827.8" stroke="#487348" stroke-width="0.9" fill="none" stroke-opacity="0.6"/>
<circle cx="167.9" cy="827.6" r="9.2" fill="url(#sph)"/>
<circle cx="130.3" cy="832.4" r="9.2" fill="#e2e8d2" stroke="#3a3a3a" stroke-width="0.8"/>
<path d="M126.5 833.4 L130.8 832.8 L129.4 832.5 L130.6 834.8 L130.6 832.7 L128.6 834.4 L133.1 831.2" stroke="#7c7f73" stroke-width="0.9" fill="none" stroke-opacity="0.6"/>
<circle cx="130.3" cy="832.4" r="9.2" fill="url(#sph)"/>
<circle cx="262.7" cy="825" r="9.2" fill="#e2cad2" stroke="#3a3a3a" stroke-width="0.8"/>
<path d="M263.8 825.5 L262.6 821.9 L266.3 821.1 L263.1 824.5 L265.4 824.0 L262.8 825.9 L263.5 824.1" stroke="#7c6f73" stroke-width="0.9" fill="none" stroke-opacity="0.6"/>
<circle cx="262.7" cy="825" r="9.2" fill="url(#sph)"/>
<circle cx="41.3" cy="839.7" r="9.2" fill="#4654b4" stroke="#3a3a3a" stroke-width="0.8"/>
<path d="M42.6 840.4 L43.6 838.5 L41.3 839.3 L39.6 840.2 L42.3 843.2 L40.9 840.2 L43.9 839.4" stroke="#262e63" stroke-width="0.9" fill="none" stroke-opacity="0.6"/>
<circle cx="41.3" cy="839.7" r="9.2" fill="url(#sph)"/>
<circle cx="87.4" cy="838" r="9.2" fill="#eeeec4" stroke="#3a3a3a" stroke-width="0.8"/>
<path d="M87.4 838.1 L85.8 835.7 L90.0 838.4 L87.2 835.1 L87.7 840.7 L84.6 835.8 L90.1 841.5" stroke="#82826b" stroke-width="0.9" fill="none" stroke-opacity="0.6"/>
<circle cx="87.4" cy="838" r="9.2" fill="url(#sph)"/>
<circle cx="169" cy="851.8" r="9.2" fill="#a4e2a4" stroke="#3a3a3a" stroke-width="0.8"/>
<path d="M172.8 850.4 L170.3 850.2 L169.8 851.2 L169.5 855.1 L169.4 851.5 L169.0 852.0 L168.3 852.1" stroke="#5a7c5a" stroke-width="0.9" fill="none" stroke-opacity="0.6"/>
<circle cx="169" cy="851.8" r="9.2" fill="url(#sph)"/>
<circle cx="220.1" cy="842" r="9.2" fill="#aabaea" stroke="#3a3a3a" stroke-width="0.8"/>
<path d="M221.6 845.8 L215.6 839.4 L217.1 844.2 L225.3 842.4 L220.4 844.6 L214.9 841.6 L214.7 842.3" stroke="#5d6680" stroke-width="0.9" fill="none" stroke-opacity="0.6"/>
<circle cx="220.1" cy="842" r="9.2" fill="url(#sph)"/>
<circle cx="270.2" cy="853.8" r="9.2" fill="#e8b4b4" stroke="#3a3a3a" stroke-width="0.8"/>
<path d="M269.3 853.0 L270.8 852.8 L272.7 853.8 L271.0 859.0 L269.2 855.8 L268.2 856.9 L272.2 854.1" stroke="#7f6363" stroke-width="0.9" fill="none" stroke-opacity="0.6"/>
<circle cx="270.2" cy="853.8" r="9.2" fill="url(#sph)"/>
<circle cx="314.3" cy="862.7" r="9.2" fill="#c4b464" stroke="#3a3a3a" stroke-width="0.8"/>
<path d="M316.7 866.6 L317.6 862.7 L314.2 865.2 L310.7 861.2 L315.2 863.7 L318.1 866.3 L314.7 863.3" stroke="#6b6337" stroke-width="0.9" fill="none" stroke-opacity="0.6"/>
<circle cx="314.3" cy="862.7" r="9.2" fill="url(#sph)"/>
<circle cx="53.5" cy="874.4" r="9.2" fill="#e2a4a4" stroke="#3a3a3a" stroke-width="0.8"/>
<path d="M50.3 874.0 L53.7 874.2 L53.6 875.3 L51.4 873.1 L49.4 877.0 L51.0 870.4 L54.9 874.0" stroke="#7c5a5a" stroke-width="0.9" fill="none" stroke-opacity="0.6"/>
<circle cx="53.5" cy="874.4" r="9.2" fill="url(#sph)"/>
<circle cx="94.7" cy="871.2" r="9.2" fill="#b4e2a4" stroke="#3a3a3a" stroke-width="0.8"/>
<path d="M96.8 870.4 L99.5 872.8 L94.8 871.3 L94.3 872.7 L99.4 870.2 L92.1 872.6 L97.3 867.6" stroke="#637c5a" stroke-width="0.9" fill="none" stroke-opacity="0.6"/>
<circle cx="94.7" cy="871.2" r="9.2" fill="url(#sph)"/>
<circle cx="132" cy="864" r="9.2" fill="#e24444" stroke="#3a3a3a" stroke-width="0.8"/>
<path d="M130.4 861.7 L133.0 864.9 L130.2 861.3 L133.6 859.3 L133.0 863.8 L136.4 866.3 L131.1 863.6" stroke="#7c2525" stroke-width="0.9" fill="none" stroke-opacity="0.6"/>
<circle cx="132" cy="864" r="9.2" fill="url(#sph)"/>
<circle cx="143" cy="887" r="9.2" fill="#a4dad2" stroke="#3a3a3a" stroke-width="0.8"/>
<path d="M142.5 885.7 L143.2 889.0 L139.3 886.4 L146.7 888.8 L141.2 885.2 L140.9 883.1 L145.6 887.2" stroke="#5a7773" stroke-width="0.9" fill="none" stroke-opacity="0.6"/>
<circle cx="143" cy="887" r="9.2" fill="url(#sph)"/>
<circle cx="189" cy="875.3" r="9.2" fill="#e2dab4" stroke="#3a3a3a" stroke-width="0.8"/>
<path d="M187.3 871.8 L188.4 874.5 L193.2 874.2 L189.3 877.7 L190.1 875.0 L184.6 878.2 L190.0 874.5" stroke="#7c7763" stroke-width="0.9" fill="none" stroke-opacity="0.6"/>
<circle cx="189" cy="875.3" r="9.2" fill="url(#sph)"/>
<circle cx="231" cy="884.2" r="9.2" fill="#a4d2ea" stroke="#3a3a3a" stroke-width="0.8"/>
<path d="M230.8 882.2 L228.8 880.6 L231.9 885.1 L231.3 885.6 L231.7 884.4 L229.1 885.5 L233.8 885.7" stroke="#5a7380" stroke-width="0.9" fill="none" stroke-opacity="0.6"/>
<circle cx="231" cy="884.2" r="9.2" fill="url(#sph)"/>
<circle cx="272.9" cy="888.2" r="9.2" fill="#a4e2e2" stroke="#3a3a3a" stroke-width="0.8"/>
<path d="M275.9 887.1 L270.5 891.3 L272.0 888.6 L272.8 888.2 L272.5 887.4 L269.3 892.1 L273.4 883.6" stroke="#5a7c7c" stroke-width="0.9" fill="none" stroke-opacity="0.6"/>
<circle cx="272.9" cy="888.2" r="9.2" fill="url(#sph)"/>
<circle cx="78.2" cy="912.4" r="9.2" fill="#e2c4a4" stroke="#3a3a3a" stroke-width="0.8"/>
<path d="M76.0 909.7 L76.7 907.3 L79.6 916.4 L77.8 913.7 L79.6 909.4 L81.0 908.5 L77.3 911.8" stroke="#7c6b5a" stroke-width="0.9" fill="none" stroke-opacity="0.6"/>
<circle cx="78.2" cy="912.4" r="9.2" fill="url(#sph)"/>
<circle cx="120" cy="913" r="9.2" fill="#54bab2" stroke="#3a3a3a" stroke-width="0.8"/>
<path d="M122.9 913.3 L119.8 911.5 L120.0 913.0 L121.8 916.4 L121.3 913.0 L119.6 916.9 L120.1 913.0" stroke="#2e6661" stroke-width="0.9" fill="none" stroke-opacity="0.6"/>
<circle cx="120" cy="913" r="9.2" fill="url(#sph)"/>
<circle cx="174" cy="910" r="9.2" fill="#84d2b4" stroke="#3a3a3a" stroke-width="0.8"/>
<path d="M177.9 913.4 L174.8 909.8 L172.5 912.5 L173.0 912.1 L172.6 910.2 L174.4 910.2 L174.3 910.4" stroke="#487363" stroke-width="0.9" fill="none" stroke-opacity="0.6"/>
<circle cx="174" cy="910" r="9.2" fill="url(#sph)"/>
<circle cx="214.2" cy="913.8" r="9.2" fill="#d2e2a4" stroke="#3a3a3a" stroke-width="0.8"/>
<path d="M211.5 911.1 L213.8 918.1 L213.9 911.9 L213.2 913.9 L217.0 912.5 L215.0 914.1 L213.5 911.8" stroke="#737c5a" stroke-width="0.9" fill="none" stroke-opacity="0.6"/>
<circle cx="214.2" cy="913.8" r="9.2" fill="url(#sph)"/>
<circle cx="248.7" cy="925.9" r="9.2" fill="#a4c4e4" stroke="#3a3a3a" stroke-width="0.8"/>
<path d="M248.4 924.7 L250.0 921.7 L251.4 927.7 L250.1 929.5 L250.1 921.8 L248.8 926.4 L247.1 923.2" stroke="#5a6b7d" stroke-width="0.9" fill="none" stroke-opacity="0.6"/>
<circle cx="248.7" cy="925.9" r="9.2" fill="url(#sph)"/>
<circle cx="295.8" cy="913.2" r="9.2" fill="#84cac2" stroke="#3a3a3a" stroke-width="0.8"/>
<path d="M296.5 914.0 L295.3 912.9 L294.9 912.2 L295.7 915.5 L291.9 912.4 L299.7 914.0 L296.1 914.8" stroke="#486f6a" stroke-width="0.9" fill="none" stroke-opacity="0.6"/>
<circle cx="295.8" cy="913.2" r="9.2" fill="url(#sph)"/>
<rect x="109.5" y="747" width="147" height="81.5" stroke="#2a2d60" stroke-width="1.8" stroke-dasharray="6,6" fill="none"/>
<line x1="256.5" y1="747" x2="540.7" y2="712.8" stroke="#2a2d60" stroke-width="1.8" stroke-dasharray="6,6" fill="none"/>
<line x1="256.5" y1="828.5" x2="540.7" y2="862.7" stroke="#2a2d60" stroke-width="1.8" stroke-dasharray="6,6" fill="none"/>
<text x="223.8" y="662.6" font-family='"Liberation Sans", sans-serif' font-size="6.1" fill="#222" stroke="#fff" stroke-width="1.1" stroke-opacity="0.55" paint-order="stroke">PLAU</text>
<text x="273.3" y="667" font-family='"Liberation Sans", sans-serif' font-size="6.1" fill="#222" stroke="#fff" stroke-width="1.1" stroke-opacity="0.55" paint-order="stroke">TIMP1</text>
<text x="150.6" y="672.8" font-family='"Liberation Sans", sans-serif' font-size="6.1" fill="#222" stroke="#fff" stroke-width="1.1" stroke-opacity="0.55" paint-order="stroke">IGFBP3</text>
<text x="183.6" y="686.4" font-family='"Liberation Sans", sans-serif' font-size="6.1" fill="#222" stroke="#fff" stroke-width="1.1" stroke-opacity="0.55" paint-order="stroke">MMP2</text>
<text x="242.8" y="691.6" font-family='"Liberation Sans", sans-serif' font-size="6.1" fill="#222" stroke="#fff" stroke-width="1.1" stroke-opacity="0.55" paint-order="stroke">MMP1</text>
<text x="292.6" y="700.6" font-family='"Liberation Sans", sans-serif' font-size="6.1" fill="#222" stroke="#fff" stroke-width="1.1" stroke-opacity="0.55" paint-order="stroke">TGFB1</text>
<text x="178.6" y="712.3" font-family='"Liberation Sans", sans-serif' font-size="6.1" fill="#222" stroke="#fff" stroke-width="1.1" stroke-opacity="0.55" paint-order="stroke">MMP9</text>
<text x="204.6" y="726.4" font-family='"Liberation Sans", sans-serif' font-size="6.1" fill="#222" stroke="#fff" stroke-width="1.1" stroke-opacity="0.55" paint-order="stroke">VEGFA</text>
<text x="246.6" y="723" font-family='"Liberation Sans", sans-serif' font-size="6.1" fill="#222" stroke="#fff" stroke-width="1.1" stroke-opacity="0.55" paint-order="stroke">PPARG</text>
<text x="98" y="725" font-family='"Liberation Sans", sans-serif' font-size="6.1" fill="#222" stroke="#fff" stroke-width="1.1" stroke-opacity="0.55" paint-order="stroke">CDKN1A</text>
<text x="135.6" y="733" font-family='"Liberation Sans", sans-serif' font-size="6.1" fill="#222" stroke="#fff" stroke-width="1.1" stroke-opacity="0.55" paint-order="stroke">ERBB2</text>
<text x="317.8" y="730" font-family='"Liberation Sans", sans-serif' font-size="6.1" fill="#222" stroke="#fff" stroke-width="1.1" stroke-opacity="0.55" paint-order="stroke">CCL2</text>
<text x="205.1" y="754" font-family='"Liberation Sans", sans-serif' font-size="6.1" fill="#222" stroke="#fff" stroke-width="1.1" stroke-opacity="0.55" paint-order="stroke">TP53</text>
<text x="272.8" y="752.5" font-family='"Liberation Sans", sans-serif' font-size="6.1" fill="#222" stroke="#fff" stroke-width="1.1" stroke-opacity="0.55" paint-order="stroke">IL1B</text>
<text x="133.9" y="760" font-family='"Liberation Sans", sans-serif' font-size="6.1" fill="#222" stroke="#fff" stroke-width="1.1" stroke-opacity="0.55" paint-order="stroke">CCND1</text>
<text x="166.4" y="762.5" font-family='"Liberation Sans", sans-serif' font-size="6.1" fill="#222" stroke="#fff" stroke-width="1.1" stroke-opacity="0.55" paint-order="stroke">AKT1</text>
<text x="237.6" y="765.8" font-family='"Liberation Sans", sans-serif' font-size="6.1" fill="#222" stroke="#fff" stroke-width="1.1" stroke-opacity="0.55" paint-order="stroke">IL6</text>
<text x="339.1" y="760.2" font-family='"Liberation Sans", sans-serif' font-size="6.1" fill="#222" stroke="#fff" stroke-width="1.1" stroke-opacity="0.55" paint-order="stroke">SPP1</text>
<text x="88.8" y="764.4" font-family='"Liberation Sans", sans-serif' font-size="6.1" fill="#222" stroke="#fff" stroke-width="1.1" stroke-opacity="0.55" paint-order="stroke">BAX</text>
<text x="187.6" y="783.5" font-family='"Liberation Sans", sans-serif' font-size="6.1" fill="#222" stroke="#fff" stroke-width="1.1" stroke-opacity="0.55" paint-order="stroke">STAT3</text>
<text x="296" y="777.4" font-family='"Liberation Sans", sans-serif' font-size="6.1" fill="#222" stroke="#fff" stroke-width="1.1" stroke-opacity="0.55" paint-order="stroke">CXCL8</text>
<text x="146.6" y="789.7" font-family='"Liberation Sans", sans-serif' font-size="6.1" fill="#222" stroke="#fff" stroke-width="1.1" stroke-opacity="0.55" paint-order="stroke">MYC</text>
<text x="257.4" y="791" font-family='"Liberation Sans", sans-serif' font-size="6.1" fill="#222" stroke="#fff" stroke-width="1.1" stroke-opacity="0.55" paint-order="stroke">TNF</text>
<text x="59.6" y="794" font-family='"Liberation Sans", sans-serif' font-size="6.1" fill="#222" stroke="#fff" stroke-width="1.1" stroke-opacity="0.55" paint-order="stroke">TOP2A</text>
<text x="100.8" y="793" font-family='"Liberation Sans", sans-serif' font-size="6.1" fill="#222" stroke="#fff" stroke-width="1.1" stroke-opacity="0.55" paint-order="stroke">CDK2</text>
<text x="216.9" y="799.5" font-family='"Liberation Sans", sans-serif' font-size="6.1" fill="#222" stroke="#fff" stroke-width="1.1" stroke-opacity="0.55" paint-order="stroke">EGFR</text>
<text x="318.4" y="809" font-family='"Liberation Sans", sans-serif' font-size="6.1" fill="#222" stroke="#fff" stroke-width="1.1" stroke-opacity="0.55" paint-order="stroke">IL10</text>
<text x="176.5" y="819.6" font-family='"Liberation Sans", sans-serif' font-size="6.1" fill="#222" stroke="#fff" stroke-width="1.1" stroke-opacity="0.55" paint-order="stroke">HIF1A</text>
<text x="138.9" y="824.4" font-family='"Liberation Sans", sans-serif' font-size="6.1" fill="#222" stroke="#fff" stroke-width="1.1" stroke-opacity="0.55" paint-order="stroke">CASP8</text>
<text x="271.3" y="817" font-family='"Liberation Sans", sans-serif' font-size="6.1" fill="#222" stroke="#fff" stroke-width="1.1" stroke-opacity="0.55" paint-order="stroke">PTGS2</text>
<text x="49.9" y="831.7" font-family='"Liberation Sans", sans-serif' font-size="6.1" fill="#222" stroke="#fff" stroke-width="1.1" stroke-opacity="0.55" paint-order="stroke">BIRC5</text>
<text x="96" y="830" font-family='"Liberation Sans", sans-serif' font-size="6.1" fill="#222" stroke="#fff" stroke-width="1.1" stroke-opacity="0.55" paint-order="stroke">CDK4</text>
<text x="177.6" y="843.8" font-family='"Liberation Sans", sans-serif' font-size="6.1" fill="#222" stroke="#fff" stroke-width="1.1" stroke-opacity="0.55" paint-order="stroke">CASP3</text>
<text x="228.7" y="834" font-family='"Liberation Sans", sans-serif' font-size="6.1" fill="#222" stroke="#fff" stroke-width="1.1" stroke-opacity="0.55" paint-order="stroke">ESR1</text>
<text x="278.8" y="845.8" font-family='"Liberation Sans", sans-serif' font-size="6.1" fill="#222" stroke="#fff" stroke-width="1.1" stroke-opacity="0.55" paint-order="stroke">NFKBIA</text>
<text x="322.9" y="854.7" font-family='"Liberation Sans", sans-serif' font-size="6.1" fill="#222" stroke="#fff" stroke-width="1.1" stroke-opacity="0.55" paint-order="stroke">GSTM1</text>
<text x="62.1" y="866.4" font-family='"Liberation Sans", sans-serif' font-size="6.1" fill="#222" stroke="#fff" stroke-width="1.1" stroke-opacity="0.55" paint-order="stroke">ERBB3</text>
<text x="103.3" y="863.2" font-family='"Liberation Sans", sans-serif' font-size="6.1" fill="#222" stroke="#fff" stroke-width="1.1" stroke-opacity="0.55" paint-order="stroke">RB1</text>
<text x="140.6" y="856" font-family='"Liberation Sans", sans-serif' font-size="6.1" fill="#222" stroke="#fff" stroke-width="1.1" stroke-opacity="0.55" paint-order="stroke">BCL2L1</text>
<text x="151.6" y="879" font-family='"Liberation Sans", sans-serif' font-size="6.1" fill="#222" stroke="#fff" stroke-width="1.1" stroke-opacity="0.55" paint-order="stroke">CASP9</text>
<text x="197.6" y="867.3" font-family='"Liberation Sans", sans-serif' font-size="6.1" fill="#222" stroke="#fff" stroke-width="1.1" stroke-opacity="0.55" paint-order="stroke">MAPK8</text>
<text x="239.6" y="876.2" font-family='"Liberation Sans", sans-serif' font-size="6.1" fill="#222" stroke="#fff" stroke-width="1.1" stroke-opacity="0.55" paint-order="stroke">STAT1</text>
<text x="281.5" y="880.2" font-family='"Liberation Sans", sans-serif' font-size="6.1" fill="#222" stroke="#fff" stroke-width="1.1" stroke-opacity="0.55" paint-order="stroke">NFE2L2</text>
<text x="86.8" y="904.4" font-family='"Liberation Sans", sans-serif' font-size="6.1" fill="#222" stroke="#fff" stroke-width="1.1" stroke-opacity="0.55" paint-order="stroke">BCL2</text>
<text x="128.6" y="905" font-family='"Liberation Sans", sans-serif' font-size="6.1" fill="#222" stroke="#fff" stroke-width="1.1" stroke-opacity="0.55" paint-order="stroke">AR</text>
<text x="182.6" y="902" font-family='"Liberation Sans", sans-serif' font-size="6.1" fill="#222" stroke="#fff" stroke-width="1.1" stroke-opacity="0.55" paint-order="stroke">ESR2</text>
<text x="222.8" y="905.8" font-family='"Liberation Sans", sans-serif' font-size="6.1" fill="#222" stroke="#fff" stroke-width="1.1" stroke-opacity="0.55" paint-order="stroke">GSTP1</text>
<text x="257.3" y="917.9" font-family='"Liberation Sans", sans-serif' font-size="6.1" fill="#222" stroke="#fff" stroke-width="1.1" stroke-opacity="0.55" paint-order="stroke">CYP1A1</text>
<text x="304.4" y="905.2" font-family='"Liberation Sans", sans-serif' font-size="6.1" fill="#222" stroke="#fff" stroke-width="1.1" stroke-opacity="0.55" paint-order="stroke">CYP1B1</text>
<line x1="608.4" y1="736.5" x2="675.9" y2="736.5" stroke="#7a7a7a" stroke-width="0.8"/>
<line x1="608.4" y1="736.5" x2="574.5" y2="787.2" stroke="#7a7a7a" stroke-width="0.8"/>
<line x1="608.4" y1="736.5" x2="709" y2="787.2" stroke="#7a7a7a" stroke-width="0.8"/>
<line x1="608.4" y1="736.5" x2="608.4" y2="837.9" stroke="#7a7a7a" stroke-width="0.8"/>
<line x1="608.4" y1="736.5" x2="675.9" y2="837.9" stroke="#7a7a7a" stroke-width="0.8"/>
<line x1="675.9" y1="736.5" x2="574.5" y2="787.2" stroke="#7a7a7a" stroke-width="0.8"/>
<line x1="675.9" y1="736.5" x2="709" y2="787.2" stroke="#7a7a7a" stroke-width="0.8"/>
<line x1="675.9" y1="736.5" x2="608.4" y2="837.9" stroke="#7a7a7a" stroke-width="0.8"/>
<line x1="675.9" y1="736.5" x2="675.9" y2="837.9" stroke="#7a7a7a" stroke-width="0.8"/>
<line x1="574.5" y1="787.2" x2="709" y2="787.2" stroke="#7a7a7a" stroke-width="0.8"/>
<line x1="574.5" y1="787.2" x2="608.4" y2="837.9" stroke="#7a7a7a" stroke-width="0.8"/>
<line x1="574.5" y1="787.2" x2="675.9" y2="837.9" stroke="#7a7a7a" stroke-width="0.8"/>
<line x1="709" y1="787.2" x2="608.4" y2="837.9" stroke="#7a7a7a" stroke-width="0.8"/>
<line x1="709" y1="787.2" x2="675.9" y2="837.9" stroke="#7a7a7a" stroke-width="0.8"/>
<line x1="608.4" y1="837.9" x2="675.9" y2="837.9" stroke="#7a7a7a" stroke-width="0.8"/>
<ellipse cx="608.4" cy="736.5" rx="30.5" ry="17.3" fill="#e8262a" stroke="#3b1414" stroke-width="0.9"/>
<text transform="translate(608.4,741.9) scale(0.92,1)" font-family='"Liberation Serif", serif' font-weight="bold" font-size="15.8" text-anchor="middle" fill="#1a0a0a">MYC</text>
<ellipse cx="675.9" cy="736.5" rx="30.5" ry="17.3" fill="#e8262a" stroke="#3b1414" stroke-width="0.9"/>
<text transform="translate(675.9,741.9) scale(0.92,1)" font-family='"Liberation Serif", serif' font-weight="bold" font-size="15.8" text-anchor="middle" fill="#1a0a0a">HIF1A</text>
<ellipse cx="574.5" cy="787.2" rx="30.5" ry="17.3" fill="#e8262a" stroke="#3b1414" stroke-width="0.9"/>
<text transform="translate(574.5,792.6) scale(0.92,1)" font-family='"Liberation Serif", serif' font-weight="bold" font-size="15.8" text-anchor="middle" fill="#1a0a0a">AKT1</text>
<ellipse cx="709" cy="787.2" rx="30.5" ry="17.3" fill="#e8262a" stroke="#3b1414" stroke-width="0.9"/>
<text transform="translate(709,792.6) scale(0.92,1)" font-family='"Liberation Serif", serif' font-weight="bold" font-size="15.8" text-anchor="middle" fill="#1a0a0a">CCND1</text>
<ellipse cx="608.4" cy="837.9" rx="30.5" ry="17.3" fill="#e8262a" stroke="#3b1414" stroke-width="0.9"/>
<text transform="translate(608.4,843.3) scale(0.92,1)" font-family='"Liberation Serif", serif' font-weight="bold" font-size="15.8" text-anchor="middle" fill="#1a0a0a">STAT3</text>
<ellipse cx="675.9" cy="837.9" rx="30.5" ry="17.3" fill="#e8262a" stroke="#3b1414" stroke-width="0.9"/>
<text transform="translate(675.9,843.3) scale(0.92,1)" font-family='"Liberation Serif", serif' font-weight="bold" font-size="15.8" text-anchor="middle" fill="#1a0a0a">TP53</text>
<rect x="540.7" y="713.2" width="201.8" height="149.5" stroke="#2a2d60" stroke-width="1.8" stroke-dasharray="6,6" fill="none"/>
<text x="1" y="22" font-family='"Liberation Serif", serif' font-weight="bold" font-size="25">A</text>
<text x="388" y="21" font-family='"Liberation Serif", serif' font-weight="bold" font-size="25">B</text>
<text x="1" y="281" font-family='"Liberation Serif", serif' font-weight="bold" font-size="25">C</text>
<text x="388" y="281" font-family='"Liberation Serif", serif' font-weight="bold" font-size="25">D</text>
<text x="1" y="671" font-family='"Liberation Serif", serif' font-weight="bold" font-size="25">E</text>
<text x="388" y="671" font-family='"Liberation Serif", serif' font-weight="bold" font-size="25">F</text>
</svg></body></html>
